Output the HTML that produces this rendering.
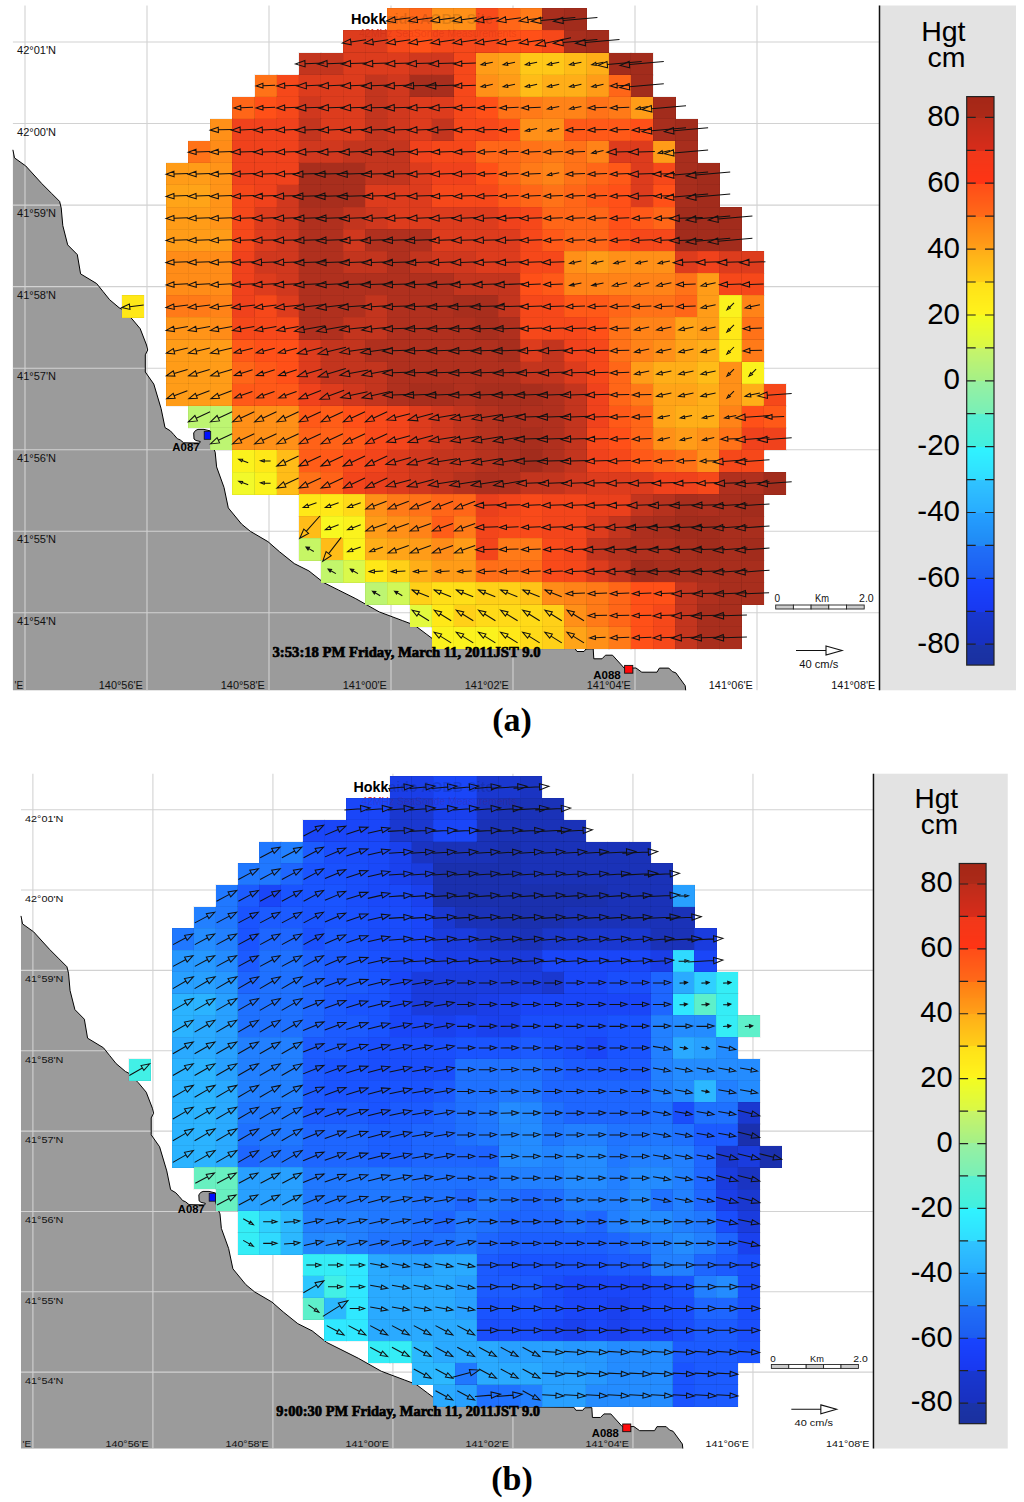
<!DOCTYPE html><html><head><meta charset="utf-8"><style>html,body{margin:0;padding:0;background:#fff;}svg{display:block;}</style></head><body><svg width="1024" height="1502" viewBox="0 0 1024 1502"><rect width="1024" height="1502" fill="#fff"/><rect x="12.9" y="5.5" width="866.6" height="684.8" fill="#fff"/><path d="M12.9 690.3L12.9 149.8L14.5 157.9L25.8 166L41.9 183.7L51.6 193.4L59.6 201.4L61.2 207.9L62.8 225.6L67.7 244.9L77.3 254.6L80.6 273.9L96.7 283.6L103.1 291.6L109.6 299.7L119.2 307.8L122.5 309.4L132.1 319L140.2 328.7L146.5 345L147.7 350L145.3 354.8L145.3 372L153.8 384.1L161.1 408.6L165 427.6L170.3 430.8L173.8 434.6L177.3 438.7L180.2 439.9L183.7 442.8L199.6 443.1L200.3 441.5L196 440.5L194 439L193.7 433L195.5 430.5L198 429.4L204 429.4L210.7 431L210.7 440L212.5 446L215.2 452.2L216.6 466.9L224 487.4L228.3 507.9L241.5 524L250.3 531.3L267.9 541.6L279.6 551.8L294.3 563.6L308.9 570.9L323.6 582.6L338.2 589.9L355.8 598.7L379.2 611.9L402.7 620.7L414.4 625.1L426.1 633.9L437.8 642.7L450 647.5L575 648.5L577 651.5L584 651.5L586 649L593.2 648.8L593.8 658.8L602 658.8L605.5 655.2L612.5 655.2L624.2 668.1L636 668L641.8 672.2L657 672.2L659.4 668.1L668.8 668.1L672.3 671.6L675.8 672.8L685.2 685.7L685.7 690.3Z" fill="#9b9b9b"/><g stroke="#d2d2d2" stroke-width="1.1" fill="none"><path d="M25 5.5V690.3"/><path d="M147 5.5V690.3"/><path d="M269 5.5V690.3"/><path d="M391 5.5V690.3"/><path d="M513 5.5V690.3"/><path d="M635 5.5V690.3"/><path d="M757 5.5V690.3"/><path d="M12.9 42H879"/><path d="M12.9 123.5H879"/><path d="M12.9 205.1H879"/><path d="M12.9 286.6H879"/><path d="M12.9 368.2H879"/><path d="M12.9 449.7H879"/><path d="M12.9 531.2H879"/><path d="M12.9 612.8H879"/></g><path d="M12.9 149.8L14.5 157.9L25.8 166L41.9 183.7L51.6 193.4L59.6 201.4L61.2 207.9L62.8 225.6L67.7 244.9L77.3 254.6L80.6 273.9L96.7 283.6L103.1 291.6L109.6 299.7L119.2 307.8L122.5 309.4L132.1 319L140.2 328.7L146.5 345L147.7 350L145.3 354.8L145.3 372L153.8 384.1L161.1 408.6L165 427.6L170.3 430.8L173.8 434.6L177.3 438.7L180.2 439.9L183.7 442.8L199.6 443.1L200.3 441.5L196 440.5L194 439L193.7 433L195.5 430.5L198 429.4L204 429.4L210.7 431L210.7 440L212.5 446L215.2 452.2L216.6 466.9L224 487.4L228.3 507.9L241.5 524L250.3 531.3L267.9 541.6L279.6 551.8L294.3 563.6L308.9 570.9L323.6 582.6L338.2 589.9L355.8 598.7L379.2 611.9L402.7 620.7L414.4 625.1L426.1 633.9L437.8 642.7L450 647.5L575 648.5L577 651.5L584 651.5L586 649L593.2 648.8L593.8 658.8L602 658.8L605.5 655.2L612.5 655.2L624.2 668.1L636 668L641.8 672.2L657 672.2L659.4 668.1L668.8 668.1L672.3 671.6L675.8 672.8L685.2 685.7L685.7 690.3" fill="none" stroke="#000" stroke-width="1"/><text x="351" y="24" font-family="Liberation Sans" font-weight="bold" font-size="14.5" fill="#000">Hokkaido AOBB Site</text><text x="359" y="37" font-family="Liberation Sans" font-size="10.5" fill="#e8301c">42MHz SeaSonde Measurements</text><g shape-rendering="crispEdges" stroke="#000" stroke-opacity="0.05" stroke-width="1"><rect x="387.4" y="8.3" width="22.5" height="22.5" fill="#ff7218"/><rect x="409.5" y="8.3" width="22.5" height="22.5" fill="#ff6618"/><rect x="431.6" y="8.3" width="22.5" height="22.5" fill="#ff9018"/><rect x="453.8" y="8.3" width="22.5" height="22.5" fill="#ff9018"/><rect x="475.9" y="8.3" width="22.5" height="22.5" fill="#f94a1a"/><rect x="498" y="8.3" width="22.5" height="22.5" fill="#ff6618"/><rect x="520.2" y="8.3" width="22.5" height="22.5" fill="#ff7a18"/><rect x="542.3" y="8.3" width="22.5" height="22.5" fill="#a82e1d"/><rect x="564.4" y="8.3" width="22.5" height="22.5" fill="#a22c1c"/><rect x="343.1" y="30.4" width="22.5" height="22.5" fill="#dd3c1d"/><rect x="365.2" y="30.4" width="22.5" height="22.5" fill="#dd3c1d"/><rect x="387.4" y="30.4" width="22.5" height="22.5" fill="#f6481a"/><rect x="409.5" y="30.4" width="22.5" height="22.5" fill="#ff5018"/><rect x="431.6" y="30.4" width="22.5" height="22.5" fill="#f6481a"/><rect x="453.8" y="30.4" width="22.5" height="22.5" fill="#f6481a"/><rect x="475.9" y="30.4" width="22.5" height="22.5" fill="#f6481a"/><rect x="498" y="30.4" width="22.5" height="22.5" fill="#ff5018"/><rect x="520.2" y="30.4" width="22.5" height="22.5" fill="#ff5018"/><rect x="542.3" y="30.4" width="22.5" height="22.5" fill="#f6481a"/><rect x="564.4" y="30.4" width="22.5" height="22.5" fill="#a82e1d"/><rect x="586.6" y="30.4" width="22.5" height="22.5" fill="#a22c1c"/><rect x="298.8" y="52.5" width="22.5" height="22.5" fill="#c3351e"/><rect x="320.9" y="52.5" width="22.5" height="22.5" fill="#c3351e"/><rect x="343.1" y="52.5" width="22.5" height="22.5" fill="#dd3c1d"/><rect x="365.2" y="52.5" width="22.5" height="22.5" fill="#dd3c1d"/><rect x="387.4" y="52.5" width="22.5" height="22.5" fill="#dd3c1d"/><rect x="409.5" y="52.5" width="22.5" height="22.5" fill="#d0381e"/><rect x="431.6" y="52.5" width="22.5" height="22.5" fill="#d0381e"/><rect x="453.8" y="52.5" width="22.5" height="22.5" fill="#f6481a"/><rect x="475.9" y="52.5" width="22.5" height="22.5" fill="#ff9c18"/><rect x="498" y="52.5" width="22.5" height="22.5" fill="#ffa418"/><rect x="520.2" y="52.5" width="22.5" height="22.5" fill="#ffc818"/><rect x="542.3" y="52.5" width="22.5" height="22.5" fill="#ffc818"/><rect x="564.4" y="52.5" width="22.5" height="22.5" fill="#ffbc18"/><rect x="586.6" y="52.5" width="22.5" height="22.5" fill="#ffae18"/><rect x="608.7" y="52.5" width="22.5" height="22.5" fill="#a22c1c"/><rect x="630.8" y="52.5" width="22.5" height="22.5" fill="#a22c1c"/><rect x="254.5" y="74.5" width="22.5" height="22.5" fill="#ff7218"/><rect x="276.7" y="74.5" width="22.5" height="22.5" fill="#f6481a"/><rect x="298.8" y="74.5" width="22.5" height="22.5" fill="#dd3c1d"/><rect x="320.9" y="74.5" width="22.5" height="22.5" fill="#dd3c1d"/><rect x="343.1" y="74.5" width="22.5" height="22.5" fill="#dd3c1d"/><rect x="365.2" y="74.5" width="22.5" height="22.5" fill="#c3351e"/><rect x="387.4" y="74.5" width="22.5" height="22.5" fill="#d0381e"/><rect x="409.5" y="74.5" width="22.5" height="22.5" fill="#a82e1d"/><rect x="431.6" y="74.5" width="22.5" height="22.5" fill="#a82e1d"/><rect x="453.8" y="74.5" width="22.5" height="22.5" fill="#f6481a"/><rect x="475.9" y="74.5" width="22.5" height="22.5" fill="#ff9018"/><rect x="498" y="74.5" width="22.5" height="22.5" fill="#ff9c18"/><rect x="520.2" y="74.5" width="22.5" height="22.5" fill="#ffbc18"/><rect x="542.3" y="74.5" width="22.5" height="22.5" fill="#ffae18"/><rect x="564.4" y="74.5" width="22.5" height="22.5" fill="#ffae18"/><rect x="586.6" y="74.5" width="22.5" height="22.5" fill="#ff9c18"/><rect x="608.7" y="74.5" width="22.5" height="22.5" fill="#ff6618"/><rect x="630.8" y="74.5" width="22.5" height="22.5" fill="#a22c1c"/><rect x="232.4" y="96.6" width="22.5" height="22.5" fill="#ff6618"/><rect x="254.5" y="96.6" width="22.5" height="22.5" fill="#ff5018"/><rect x="276.7" y="96.6" width="22.5" height="22.5" fill="#f6481a"/><rect x="298.8" y="96.6" width="22.5" height="22.5" fill="#d0381e"/><rect x="320.9" y="96.6" width="22.5" height="22.5" fill="#dd3c1d"/><rect x="343.1" y="96.6" width="22.5" height="22.5" fill="#dd3c1d"/><rect x="365.2" y="96.6" width="22.5" height="22.5" fill="#c3351e"/><rect x="387.4" y="96.6" width="22.5" height="22.5" fill="#d0381e"/><rect x="409.5" y="96.6" width="22.5" height="22.5" fill="#dd3c1d"/><rect x="431.6" y="96.6" width="22.5" height="22.5" fill="#dd3c1d"/><rect x="453.8" y="96.6" width="22.5" height="22.5" fill="#f6481a"/><rect x="475.9" y="96.6" width="22.5" height="22.5" fill="#ff5018"/><rect x="498" y="96.6" width="22.5" height="22.5" fill="#ff7218"/><rect x="520.2" y="96.6" width="22.5" height="22.5" fill="#ff7a18"/><rect x="542.3" y="96.6" width="22.5" height="22.5" fill="#ff8318"/><rect x="564.4" y="96.6" width="22.5" height="22.5" fill="#ff8318"/><rect x="586.6" y="96.6" width="22.5" height="22.5" fill="#ff7218"/><rect x="608.7" y="96.6" width="22.5" height="22.5" fill="#ff7a18"/><rect x="630.8" y="96.6" width="22.5" height="22.5" fill="#ff9c18"/><rect x="653" y="96.6" width="22.5" height="22.5" fill="#a22c1c"/><rect x="210.3" y="118.7" width="22.5" height="22.5" fill="#ff9018"/><rect x="232.4" y="118.7" width="22.5" height="22.5" fill="#f0421c"/><rect x="254.5" y="118.7" width="22.5" height="22.5" fill="#f0421c"/><rect x="276.7" y="118.7" width="22.5" height="22.5" fill="#f0421c"/><rect x="298.8" y="118.7" width="22.5" height="22.5" fill="#c3351e"/><rect x="320.9" y="118.7" width="22.5" height="22.5" fill="#dd3c1d"/><rect x="343.1" y="118.7" width="22.5" height="22.5" fill="#dd3c1d"/><rect x="365.2" y="118.7" width="22.5" height="22.5" fill="#c3351e"/><rect x="387.4" y="118.7" width="22.5" height="22.5" fill="#d0381e"/><rect x="409.5" y="118.7" width="22.5" height="22.5" fill="#dd3c1d"/><rect x="431.6" y="118.7" width="22.5" height="22.5" fill="#c3351e"/><rect x="453.8" y="118.7" width="22.5" height="22.5" fill="#f6481a"/><rect x="475.9" y="118.7" width="22.5" height="22.5" fill="#f6481a"/><rect x="498" y="118.7" width="22.5" height="22.5" fill="#ff5018"/><rect x="520.2" y="118.7" width="22.5" height="22.5" fill="#ff9018"/><rect x="542.3" y="118.7" width="22.5" height="22.5" fill="#ff9018"/><rect x="564.4" y="118.7" width="22.5" height="22.5" fill="#ff5918"/><rect x="586.6" y="118.7" width="22.5" height="22.5" fill="#ff5918"/><rect x="608.7" y="118.7" width="22.5" height="22.5" fill="#ff5918"/><rect x="630.8" y="118.7" width="22.5" height="22.5" fill="#ff5018"/><rect x="653" y="118.7" width="22.5" height="22.5" fill="#a82e1d"/><rect x="675.1" y="118.7" width="22.5" height="22.5" fill="#a22c1c"/><rect x="188.1" y="140.8" width="22.5" height="22.5" fill="#ff7218"/><rect x="210.3" y="140.8" width="22.5" height="22.5" fill="#ff8c18"/><rect x="232.4" y="140.8" width="22.5" height="22.5" fill="#f0421c"/><rect x="254.5" y="140.8" width="22.5" height="22.5" fill="#f0421c"/><rect x="276.7" y="140.8" width="22.5" height="22.5" fill="#f0421c"/><rect x="298.8" y="140.8" width="22.5" height="22.5" fill="#d0381e"/><rect x="320.9" y="140.8" width="22.5" height="22.5" fill="#d0381e"/><rect x="343.1" y="140.8" width="22.5" height="22.5" fill="#c3351e"/><rect x="365.2" y="140.8" width="22.5" height="22.5" fill="#c3351e"/><rect x="387.4" y="140.8" width="22.5" height="22.5" fill="#c3351e"/><rect x="409.5" y="140.8" width="22.5" height="22.5" fill="#f0421c"/><rect x="431.6" y="140.8" width="22.5" height="22.5" fill="#f6481a"/><rect x="453.8" y="140.8" width="22.5" height="22.5" fill="#f6481a"/><rect x="475.9" y="140.8" width="22.5" height="22.5" fill="#ff6618"/><rect x="498" y="140.8" width="22.5" height="22.5" fill="#ff6618"/><rect x="520.2" y="140.8" width="22.5" height="22.5" fill="#ff7218"/><rect x="542.3" y="140.8" width="22.5" height="22.5" fill="#ff7a18"/><rect x="564.4" y="140.8" width="22.5" height="22.5" fill="#ff7218"/><rect x="586.6" y="140.8" width="22.5" height="22.5" fill="#ff8318"/><rect x="608.7" y="140.8" width="22.5" height="22.5" fill="#dd3c1d"/><rect x="630.8" y="140.8" width="22.5" height="22.5" fill="#dd3c1d"/><rect x="653" y="140.8" width="22.5" height="22.5" fill="#ff9c18"/><rect x="675.1" y="140.8" width="22.5" height="22.5" fill="#a82e1d"/><rect x="166" y="162.9" width="22.5" height="22.5" fill="#ff9c18"/><rect x="188.1" y="162.9" width="22.5" height="22.5" fill="#ff9c18"/><rect x="210.3" y="162.9" width="22.5" height="22.5" fill="#ff9418"/><rect x="232.4" y="162.9" width="22.5" height="22.5" fill="#f0421c"/><rect x="254.5" y="162.9" width="22.5" height="22.5" fill="#f0421c"/><rect x="276.7" y="162.9" width="22.5" height="22.5" fill="#f0421c"/><rect x="298.8" y="162.9" width="22.5" height="22.5" fill="#a82e1d"/><rect x="320.9" y="162.9" width="22.5" height="22.5" fill="#a82e1d"/><rect x="343.1" y="162.9" width="22.5" height="22.5" fill="#a82e1d"/><rect x="365.2" y="162.9" width="22.5" height="22.5" fill="#c3351e"/><rect x="387.4" y="162.9" width="22.5" height="22.5" fill="#c3351e"/><rect x="409.5" y="162.9" width="22.5" height="22.5" fill="#dd3c1d"/><rect x="431.6" y="162.9" width="22.5" height="22.5" fill="#f0421c"/><rect x="453.8" y="162.9" width="22.5" height="22.5" fill="#f0421c"/><rect x="475.9" y="162.9" width="22.5" height="22.5" fill="#ff5018"/><rect x="498" y="162.9" width="22.5" height="22.5" fill="#ff6618"/><rect x="520.2" y="162.9" width="22.5" height="22.5" fill="#ff7a18"/><rect x="542.3" y="162.9" width="22.5" height="22.5" fill="#ff8318"/><rect x="564.4" y="162.9" width="22.5" height="22.5" fill="#ff7218"/><rect x="586.6" y="162.9" width="22.5" height="22.5" fill="#ff6618"/><rect x="608.7" y="162.9" width="22.5" height="22.5" fill="#ff5918"/><rect x="630.8" y="162.9" width="22.5" height="22.5" fill="#dd3c1d"/><rect x="653" y="162.9" width="22.5" height="22.5" fill="#f6481a"/><rect x="675.1" y="162.9" width="22.5" height="22.5" fill="#a82e1d"/><rect x="697.2" y="162.9" width="22.5" height="22.5" fill="#a22c1c"/><rect x="166" y="184.9" width="22.5" height="22.5" fill="#ffa418"/><rect x="188.1" y="184.9" width="22.5" height="22.5" fill="#ffa418"/><rect x="210.3" y="184.9" width="22.5" height="22.5" fill="#ff9418"/><rect x="232.4" y="184.9" width="22.5" height="22.5" fill="#f6481a"/><rect x="254.5" y="184.9" width="22.5" height="22.5" fill="#f0421c"/><rect x="276.7" y="184.9" width="22.5" height="22.5" fill="#d0381e"/><rect x="298.8" y="184.9" width="22.5" height="22.5" fill="#a82e1d"/><rect x="320.9" y="184.9" width="22.5" height="22.5" fill="#a82e1d"/><rect x="343.1" y="184.9" width="22.5" height="22.5" fill="#a82e1d"/><rect x="365.2" y="184.9" width="22.5" height="22.5" fill="#dd3c1d"/><rect x="387.4" y="184.9" width="22.5" height="22.5" fill="#dd3c1d"/><rect x="409.5" y="184.9" width="22.5" height="22.5" fill="#dd3c1d"/><rect x="431.6" y="184.9" width="22.5" height="22.5" fill="#f6481a"/><rect x="453.8" y="184.9" width="22.5" height="22.5" fill="#f6481a"/><rect x="475.9" y="184.9" width="22.5" height="22.5" fill="#f6481a"/><rect x="498" y="184.9" width="22.5" height="22.5" fill="#ff5918"/><rect x="520.2" y="184.9" width="22.5" height="22.5" fill="#ff6618"/><rect x="542.3" y="184.9" width="22.5" height="22.5" fill="#ff7218"/><rect x="564.4" y="184.9" width="22.5" height="22.5" fill="#ff6618"/><rect x="586.6" y="184.9" width="22.5" height="22.5" fill="#ff5918"/><rect x="608.7" y="184.9" width="22.5" height="22.5" fill="#ff5018"/><rect x="630.8" y="184.9" width="22.5" height="22.5" fill="#dd3c1d"/><rect x="653" y="184.9" width="22.5" height="22.5" fill="#ff5018"/><rect x="675.1" y="184.9" width="22.5" height="22.5" fill="#a82e1d"/><rect x="697.2" y="184.9" width="22.5" height="22.5" fill="#a22c1c"/><rect x="166" y="207" width="22.5" height="22.5" fill="#ff9c18"/><rect x="188.1" y="207" width="22.5" height="22.5" fill="#ff9c18"/><rect x="210.3" y="207" width="22.5" height="22.5" fill="#ff9418"/><rect x="232.4" y="207" width="22.5" height="22.5" fill="#f6481a"/><rect x="254.5" y="207" width="22.5" height="22.5" fill="#dd3c1d"/><rect x="276.7" y="207" width="22.5" height="22.5" fill="#d0381e"/><rect x="298.8" y="207" width="22.5" height="22.5" fill="#b0301e"/><rect x="320.9" y="207" width="22.5" height="22.5" fill="#b0301e"/><rect x="343.1" y="207" width="22.5" height="22.5" fill="#c3351e"/><rect x="365.2" y="207" width="22.5" height="22.5" fill="#d0381e"/><rect x="387.4" y="207" width="22.5" height="22.5" fill="#dd3c1d"/><rect x="409.5" y="207" width="22.5" height="22.5" fill="#dd3c1d"/><rect x="431.6" y="207" width="22.5" height="22.5" fill="#dd3c1d"/><rect x="453.8" y="207" width="22.5" height="22.5" fill="#dd3c1d"/><rect x="475.9" y="207" width="22.5" height="22.5" fill="#dd3c1d"/><rect x="498" y="207" width="22.5" height="22.5" fill="#f0421c"/><rect x="520.2" y="207" width="22.5" height="22.5" fill="#f6481a"/><rect x="542.3" y="207" width="22.5" height="22.5" fill="#ff6618"/><rect x="564.4" y="207" width="22.5" height="22.5" fill="#ff6618"/><rect x="586.6" y="207" width="22.5" height="22.5" fill="#ff6618"/><rect x="608.7" y="207" width="22.5" height="22.5" fill="#ff5018"/><rect x="630.8" y="207" width="22.5" height="22.5" fill="#ff5918"/><rect x="653" y="207" width="22.5" height="22.5" fill="#ff6618"/><rect x="675.1" y="207" width="22.5" height="22.5" fill="#a22c1c"/><rect x="697.2" y="207" width="22.5" height="22.5" fill="#a22c1c"/><rect x="719.4" y="207" width="22.5" height="22.5" fill="#a22c1c"/><rect x="166" y="229.1" width="22.5" height="22.5" fill="#ff9c18"/><rect x="188.1" y="229.1" width="22.5" height="22.5" fill="#ff9c18"/><rect x="210.3" y="229.1" width="22.5" height="22.5" fill="#ff9c18"/><rect x="232.4" y="229.1" width="22.5" height="22.5" fill="#f6481a"/><rect x="254.5" y="229.1" width="22.5" height="22.5" fill="#dd3c1d"/><rect x="276.7" y="229.1" width="22.5" height="22.5" fill="#d0381e"/><rect x="298.8" y="229.1" width="22.5" height="22.5" fill="#b0301e"/><rect x="320.9" y="229.1" width="22.5" height="22.5" fill="#b0301e"/><rect x="343.1" y="229.1" width="22.5" height="22.5" fill="#d0381e"/><rect x="365.2" y="229.1" width="22.5" height="22.5" fill="#b0301e"/><rect x="387.4" y="229.1" width="22.5" height="22.5" fill="#b0301e"/><rect x="409.5" y="229.1" width="22.5" height="22.5" fill="#b0301e"/><rect x="431.6" y="229.1" width="22.5" height="22.5" fill="#dd3c1d"/><rect x="453.8" y="229.1" width="22.5" height="22.5" fill="#dd3c1d"/><rect x="475.9" y="229.1" width="22.5" height="22.5" fill="#dd3c1d"/><rect x="498" y="229.1" width="22.5" height="22.5" fill="#dd3c1d"/><rect x="520.2" y="229.1" width="22.5" height="22.5" fill="#f6481a"/><rect x="542.3" y="229.1" width="22.5" height="22.5" fill="#ff5918"/><rect x="564.4" y="229.1" width="22.5" height="22.5" fill="#ff6618"/><rect x="586.6" y="229.1" width="22.5" height="22.5" fill="#ff6618"/><rect x="608.7" y="229.1" width="22.5" height="22.5" fill="#ff5018"/><rect x="630.8" y="229.1" width="22.5" height="22.5" fill="#f6481a"/><rect x="653" y="229.1" width="22.5" height="22.5" fill="#f6481a"/><rect x="675.1" y="229.1" width="22.5" height="22.5" fill="#a22c1c"/><rect x="697.2" y="229.1" width="22.5" height="22.5" fill="#a22c1c"/><rect x="719.4" y="229.1" width="22.5" height="22.5" fill="#a22c1c"/><rect x="166" y="251.2" width="22.5" height="22.5" fill="#ff8c18"/><rect x="188.1" y="251.2" width="22.5" height="22.5" fill="#ff8c18"/><rect x="210.3" y="251.2" width="22.5" height="22.5" fill="#ff8c18"/><rect x="232.4" y="251.2" width="22.5" height="22.5" fill="#f0421c"/><rect x="254.5" y="251.2" width="22.5" height="22.5" fill="#d0381e"/><rect x="276.7" y="251.2" width="22.5" height="22.5" fill="#d0381e"/><rect x="298.8" y="251.2" width="22.5" height="22.5" fill="#b0301e"/><rect x="320.9" y="251.2" width="22.5" height="22.5" fill="#b0301e"/><rect x="343.1" y="251.2" width="22.5" height="22.5" fill="#c3351e"/><rect x="365.2" y="251.2" width="22.5" height="22.5" fill="#c3351e"/><rect x="387.4" y="251.2" width="22.5" height="22.5" fill="#b0301e"/><rect x="409.5" y="251.2" width="22.5" height="22.5" fill="#c3351e"/><rect x="431.6" y="251.2" width="22.5" height="22.5" fill="#d0381e"/><rect x="453.8" y="251.2" width="22.5" height="22.5" fill="#d0381e"/><rect x="475.9" y="251.2" width="22.5" height="22.5" fill="#dd3c1d"/><rect x="498" y="251.2" width="22.5" height="22.5" fill="#dd3c1d"/><rect x="520.2" y="251.2" width="22.5" height="22.5" fill="#f6481a"/><rect x="542.3" y="251.2" width="22.5" height="22.5" fill="#f6481a"/><rect x="564.4" y="251.2" width="22.5" height="22.5" fill="#ff9018"/><rect x="586.6" y="251.2" width="22.5" height="22.5" fill="#ff9c18"/><rect x="608.7" y="251.2" width="22.5" height="22.5" fill="#ff9018"/><rect x="630.8" y="251.2" width="22.5" height="22.5" fill="#ff9018"/><rect x="653" y="251.2" width="22.5" height="22.5" fill="#ff9018"/><rect x="675.1" y="251.2" width="22.5" height="22.5" fill="#dd3c1d"/><rect x="697.2" y="251.2" width="22.5" height="22.5" fill="#f0421c"/><rect x="719.4" y="251.2" width="22.5" height="22.5" fill="#dd3c1d"/><rect x="741.5" y="251.2" width="22.5" height="22.5" fill="#dd3c1d"/><rect x="166" y="273.3" width="22.5" height="22.5" fill="#ff8c18"/><rect x="188.1" y="273.3" width="22.5" height="22.5" fill="#ff8c18"/><rect x="210.3" y="273.3" width="22.5" height="22.5" fill="#ff8c18"/><rect x="232.4" y="273.3" width="22.5" height="22.5" fill="#f0421c"/><rect x="254.5" y="273.3" width="22.5" height="22.5" fill="#dd3c1d"/><rect x="276.7" y="273.3" width="22.5" height="22.5" fill="#d0381e"/><rect x="298.8" y="273.3" width="22.5" height="22.5" fill="#b0301e"/><rect x="320.9" y="273.3" width="22.5" height="22.5" fill="#b0301e"/><rect x="343.1" y="273.3" width="22.5" height="22.5" fill="#b0301e"/><rect x="365.2" y="273.3" width="22.5" height="22.5" fill="#b0301e"/><rect x="387.4" y="273.3" width="22.5" height="22.5" fill="#b0301e"/><rect x="409.5" y="273.3" width="22.5" height="22.5" fill="#b0301e"/><rect x="431.6" y="273.3" width="22.5" height="22.5" fill="#b0301e"/><rect x="453.8" y="273.3" width="22.5" height="22.5" fill="#c3351e"/><rect x="475.9" y="273.3" width="22.5" height="22.5" fill="#c3351e"/><rect x="498" y="273.3" width="22.5" height="22.5" fill="#c3351e"/><rect x="520.2" y="273.3" width="22.5" height="22.5" fill="#ff5018"/><rect x="542.3" y="273.3" width="22.5" height="22.5" fill="#ff5918"/><rect x="564.4" y="273.3" width="22.5" height="22.5" fill="#ff8318"/><rect x="586.6" y="273.3" width="22.5" height="22.5" fill="#ff8318"/><rect x="608.7" y="273.3" width="22.5" height="22.5" fill="#ff8318"/><rect x="630.8" y="273.3" width="22.5" height="22.5" fill="#ff8318"/><rect x="653" y="273.3" width="22.5" height="22.5" fill="#ff8318"/><rect x="675.1" y="273.3" width="22.5" height="22.5" fill="#ff7218"/><rect x="697.2" y="273.3" width="22.5" height="22.5" fill="#ff9c18"/><rect x="719.4" y="273.3" width="22.5" height="22.5" fill="#f6481a"/><rect x="741.5" y="273.3" width="22.5" height="22.5" fill="#f6481a"/><rect x="121.7" y="295.3" width="22.5" height="22.5" fill="#ffe818"/><rect x="166" y="295.3" width="22.5" height="22.5" fill="#ff7a18"/><rect x="188.1" y="295.3" width="22.5" height="22.5" fill="#ff7a18"/><rect x="210.3" y="295.3" width="22.5" height="22.5" fill="#ff8318"/><rect x="232.4" y="295.3" width="22.5" height="22.5" fill="#f0421c"/><rect x="254.5" y="295.3" width="22.5" height="22.5" fill="#f6481a"/><rect x="276.7" y="295.3" width="22.5" height="22.5" fill="#dd3c1d"/><rect x="298.8" y="295.3" width="22.5" height="22.5" fill="#b0301e"/><rect x="320.9" y="295.3" width="22.5" height="22.5" fill="#b0301e"/><rect x="343.1" y="295.3" width="22.5" height="22.5" fill="#b0301e"/><rect x="365.2" y="295.3" width="22.5" height="22.5" fill="#c3351e"/><rect x="387.4" y="295.3" width="22.5" height="22.5" fill="#b0301e"/><rect x="409.5" y="295.3" width="22.5" height="22.5" fill="#b0301e"/><rect x="431.6" y="295.3" width="22.5" height="22.5" fill="#b0301e"/><rect x="453.8" y="295.3" width="22.5" height="22.5" fill="#a82e1d"/><rect x="475.9" y="295.3" width="22.5" height="22.5" fill="#a82e1d"/><rect x="498" y="295.3" width="22.5" height="22.5" fill="#c3351e"/><rect x="520.2" y="295.3" width="22.5" height="22.5" fill="#f6481a"/><rect x="542.3" y="295.3" width="22.5" height="22.5" fill="#f6481a"/><rect x="564.4" y="295.3" width="22.5" height="22.5" fill="#ff5918"/><rect x="586.6" y="295.3" width="22.5" height="22.5" fill="#ff5918"/><rect x="608.7" y="295.3" width="22.5" height="22.5" fill="#ff6618"/><rect x="630.8" y="295.3" width="22.5" height="22.5" fill="#ff7218"/><rect x="653" y="295.3" width="22.5" height="22.5" fill="#ff7218"/><rect x="675.1" y="295.3" width="22.5" height="22.5" fill="#ff6618"/><rect x="697.2" y="295.3" width="22.5" height="22.5" fill="#ff9c18"/><rect x="719.4" y="295.3" width="22.5" height="22.5" fill="#fbf21d"/><rect x="741.5" y="295.3" width="22.5" height="22.5" fill="#ff8318"/><rect x="166" y="317.4" width="22.5" height="22.5" fill="#ff9418"/><rect x="188.1" y="317.4" width="22.5" height="22.5" fill="#ff9418"/><rect x="210.3" y="317.4" width="22.5" height="22.5" fill="#ff8c18"/><rect x="232.4" y="317.4" width="22.5" height="22.5" fill="#f6481a"/><rect x="254.5" y="317.4" width="22.5" height="22.5" fill="#f6481a"/><rect x="276.7" y="317.4" width="22.5" height="22.5" fill="#f6481a"/><rect x="298.8" y="317.4" width="22.5" height="22.5" fill="#b0301e"/><rect x="320.9" y="317.4" width="22.5" height="22.5" fill="#b0301e"/><rect x="343.1" y="317.4" width="22.5" height="22.5" fill="#c3351e"/><rect x="365.2" y="317.4" width="22.5" height="22.5" fill="#c3351e"/><rect x="387.4" y="317.4" width="22.5" height="22.5" fill="#b0301e"/><rect x="409.5" y="317.4" width="22.5" height="22.5" fill="#b0301e"/><rect x="431.6" y="317.4" width="22.5" height="22.5" fill="#b0301e"/><rect x="453.8" y="317.4" width="22.5" height="22.5" fill="#b0301e"/><rect x="475.9" y="317.4" width="22.5" height="22.5" fill="#a82e1d"/><rect x="498" y="317.4" width="22.5" height="22.5" fill="#b0301e"/><rect x="520.2" y="317.4" width="22.5" height="22.5" fill="#f6481a"/><rect x="542.3" y="317.4" width="22.5" height="22.5" fill="#f6481a"/><rect x="564.4" y="317.4" width="22.5" height="22.5" fill="#f6481a"/><rect x="586.6" y="317.4" width="22.5" height="22.5" fill="#ff5018"/><rect x="608.7" y="317.4" width="22.5" height="22.5" fill="#ff7218"/><rect x="630.8" y="317.4" width="22.5" height="22.5" fill="#ff8318"/><rect x="653" y="317.4" width="22.5" height="22.5" fill="#ff8318"/><rect x="675.1" y="317.4" width="22.5" height="22.5" fill="#ffa418"/><rect x="697.2" y="317.4" width="22.5" height="22.5" fill="#ff9c18"/><rect x="719.4" y="317.4" width="22.5" height="22.5" fill="#ffe818"/><rect x="741.5" y="317.4" width="22.5" height="22.5" fill="#ff7218"/><rect x="166" y="339.5" width="22.5" height="22.5" fill="#ff9c18"/><rect x="188.1" y="339.5" width="22.5" height="22.5" fill="#ff9c18"/><rect x="210.3" y="339.5" width="22.5" height="22.5" fill="#ff9c18"/><rect x="232.4" y="339.5" width="22.5" height="22.5" fill="#ff5918"/><rect x="254.5" y="339.5" width="22.5" height="22.5" fill="#ff5018"/><rect x="276.7" y="339.5" width="22.5" height="22.5" fill="#ff5018"/><rect x="298.8" y="339.5" width="22.5" height="22.5" fill="#dd3c1d"/><rect x="320.9" y="339.5" width="22.5" height="22.5" fill="#c3351e"/><rect x="343.1" y="339.5" width="22.5" height="22.5" fill="#c3351e"/><rect x="365.2" y="339.5" width="22.5" height="22.5" fill="#b0301e"/><rect x="387.4" y="339.5" width="22.5" height="22.5" fill="#b0301e"/><rect x="409.5" y="339.5" width="22.5" height="22.5" fill="#b0301e"/><rect x="431.6" y="339.5" width="22.5" height="22.5" fill="#b0301e"/><rect x="453.8" y="339.5" width="22.5" height="22.5" fill="#b0301e"/><rect x="475.9" y="339.5" width="22.5" height="22.5" fill="#b0301e"/><rect x="498" y="339.5" width="22.5" height="22.5" fill="#a82e1d"/><rect x="520.2" y="339.5" width="22.5" height="22.5" fill="#dd3c1d"/><rect x="542.3" y="339.5" width="22.5" height="22.5" fill="#c3351e"/><rect x="564.4" y="339.5" width="22.5" height="22.5" fill="#f0421c"/><rect x="586.6" y="339.5" width="22.5" height="22.5" fill="#f6481a"/><rect x="608.7" y="339.5" width="22.5" height="22.5" fill="#ff7218"/><rect x="630.8" y="339.5" width="22.5" height="22.5" fill="#ff8318"/><rect x="653" y="339.5" width="22.5" height="22.5" fill="#ff9018"/><rect x="675.1" y="339.5" width="22.5" height="22.5" fill="#ffa418"/><rect x="697.2" y="339.5" width="22.5" height="22.5" fill="#ffae18"/><rect x="719.4" y="339.5" width="22.5" height="22.5" fill="#ffe818"/><rect x="741.5" y="339.5" width="22.5" height="22.5" fill="#ff7a18"/><rect x="166" y="361.6" width="22.5" height="22.5" fill="#ff9c18"/><rect x="188.1" y="361.6" width="22.5" height="22.5" fill="#ff9c18"/><rect x="210.3" y="361.6" width="22.5" height="22.5" fill="#ff9c18"/><rect x="232.4" y="361.6" width="22.5" height="22.5" fill="#ff6618"/><rect x="254.5" y="361.6" width="22.5" height="22.5" fill="#ff5918"/><rect x="276.7" y="361.6" width="22.5" height="22.5" fill="#ff5018"/><rect x="298.8" y="361.6" width="22.5" height="22.5" fill="#dd3c1d"/><rect x="320.9" y="361.6" width="22.5" height="22.5" fill="#c3351e"/><rect x="343.1" y="361.6" width="22.5" height="22.5" fill="#c3351e"/><rect x="365.2" y="361.6" width="22.5" height="22.5" fill="#c3351e"/><rect x="387.4" y="361.6" width="22.5" height="22.5" fill="#b0301e"/><rect x="409.5" y="361.6" width="22.5" height="22.5" fill="#b0301e"/><rect x="431.6" y="361.6" width="22.5" height="22.5" fill="#b0301e"/><rect x="453.8" y="361.6" width="22.5" height="22.5" fill="#b0301e"/><rect x="475.9" y="361.6" width="22.5" height="22.5" fill="#b0301e"/><rect x="498" y="361.6" width="22.5" height="22.5" fill="#b0301e"/><rect x="520.2" y="361.6" width="22.5" height="22.5" fill="#c3351e"/><rect x="542.3" y="361.6" width="22.5" height="22.5" fill="#c3351e"/><rect x="564.4" y="361.6" width="22.5" height="22.5" fill="#dd3c1d"/><rect x="586.6" y="361.6" width="22.5" height="22.5" fill="#f6481a"/><rect x="608.7" y="361.6" width="22.5" height="22.5" fill="#ff6618"/><rect x="630.8" y="361.6" width="22.5" height="22.5" fill="#ff9c18"/><rect x="653" y="361.6" width="22.5" height="22.5" fill="#ffae18"/><rect x="675.1" y="361.6" width="22.5" height="22.5" fill="#ffae18"/><rect x="697.2" y="361.6" width="22.5" height="22.5" fill="#ffbc18"/><rect x="719.4" y="361.6" width="22.5" height="22.5" fill="#ff9018"/><rect x="741.5" y="361.6" width="22.5" height="22.5" fill="#fbf21d"/><rect x="166" y="383.7" width="22.5" height="22.5" fill="#ff9c18"/><rect x="188.1" y="383.7" width="22.5" height="22.5" fill="#ff9c18"/><rect x="210.3" y="383.7" width="22.5" height="22.5" fill="#ff9c18"/><rect x="232.4" y="383.7" width="22.5" height="22.5" fill="#ff5918"/><rect x="254.5" y="383.7" width="22.5" height="22.5" fill="#ff5918"/><rect x="276.7" y="383.7" width="22.5" height="22.5" fill="#ff5918"/><rect x="298.8" y="383.7" width="22.5" height="22.5" fill="#f0421c"/><rect x="320.9" y="383.7" width="22.5" height="22.5" fill="#dd3c1d"/><rect x="343.1" y="383.7" width="22.5" height="22.5" fill="#d0381e"/><rect x="365.2" y="383.7" width="22.5" height="22.5" fill="#c3351e"/><rect x="387.4" y="383.7" width="22.5" height="22.5" fill="#b0301e"/><rect x="409.5" y="383.7" width="22.5" height="22.5" fill="#a82e1d"/><rect x="431.6" y="383.7" width="22.5" height="22.5" fill="#a82e1d"/><rect x="453.8" y="383.7" width="22.5" height="22.5" fill="#b0301e"/><rect x="475.9" y="383.7" width="22.5" height="22.5" fill="#a82e1d"/><rect x="498" y="383.7" width="22.5" height="22.5" fill="#a82e1d"/><rect x="520.2" y="383.7" width="22.5" height="22.5" fill="#a82e1d"/><rect x="542.3" y="383.7" width="22.5" height="22.5" fill="#b0301e"/><rect x="564.4" y="383.7" width="22.5" height="22.5" fill="#c3351e"/><rect x="586.6" y="383.7" width="22.5" height="22.5" fill="#f0421c"/><rect x="608.7" y="383.7" width="22.5" height="22.5" fill="#ff6618"/><rect x="630.8" y="383.7" width="22.5" height="22.5" fill="#ff7a18"/><rect x="653" y="383.7" width="22.5" height="22.5" fill="#ffa418"/><rect x="675.1" y="383.7" width="22.5" height="22.5" fill="#ffa418"/><rect x="697.2" y="383.7" width="22.5" height="22.5" fill="#ffae18"/><rect x="719.4" y="383.7" width="22.5" height="22.5" fill="#ff9018"/><rect x="741.5" y="383.7" width="22.5" height="22.5" fill="#ffae18"/><rect x="763.6" y="383.7" width="22.5" height="22.5" fill="#f6481a"/><rect x="188.1" y="405.7" width="22.5" height="22.5" fill="#bdf572"/><rect x="210.3" y="405.7" width="22.5" height="22.5" fill="#bdf572"/><rect x="232.4" y="405.7" width="22.5" height="22.5" fill="#ff9018"/><rect x="254.5" y="405.7" width="22.5" height="22.5" fill="#ff9018"/><rect x="276.7" y="405.7" width="22.5" height="22.5" fill="#ff9018"/><rect x="298.8" y="405.7" width="22.5" height="22.5" fill="#ff5918"/><rect x="320.9" y="405.7" width="22.5" height="22.5" fill="#ff5d18"/><rect x="343.1" y="405.7" width="22.5" height="22.5" fill="#ff5018"/><rect x="365.2" y="405.7" width="22.5" height="22.5" fill="#f94a1a"/><rect x="387.4" y="405.7" width="22.5" height="22.5" fill="#f3451b"/><rect x="409.5" y="405.7" width="22.5" height="22.5" fill="#dd3c1d"/><rect x="431.6" y="405.7" width="22.5" height="22.5" fill="#d0381e"/><rect x="453.8" y="405.7" width="22.5" height="22.5" fill="#c3351e"/><rect x="475.9" y="405.7" width="22.5" height="22.5" fill="#b6321e"/><rect x="498" y="405.7" width="22.5" height="22.5" fill="#ad2f1e"/><rect x="520.2" y="405.7" width="22.5" height="22.5" fill="#b0301e"/><rect x="542.3" y="405.7" width="22.5" height="22.5" fill="#b0301e"/><rect x="564.4" y="405.7" width="22.5" height="22.5" fill="#c3351e"/><rect x="586.6" y="405.7" width="22.5" height="22.5" fill="#f0421c"/><rect x="608.7" y="405.7" width="22.5" height="22.5" fill="#ff5918"/><rect x="630.8" y="405.7" width="22.5" height="22.5" fill="#ff6618"/><rect x="653" y="405.7" width="22.5" height="22.5" fill="#ffa418"/><rect x="675.1" y="405.7" width="22.5" height="22.5" fill="#ffae18"/><rect x="697.2" y="405.7" width="22.5" height="22.5" fill="#ffae18"/><rect x="719.4" y="405.7" width="22.5" height="22.5" fill="#ff8318"/><rect x="741.5" y="405.7" width="22.5" height="22.5" fill="#ff5018"/><rect x="763.6" y="405.7" width="22.5" height="22.5" fill="#ff5918"/><rect x="210.3" y="427.8" width="22.5" height="22.5" fill="#bdf572"/><rect x="232.4" y="427.8" width="22.5" height="22.5" fill="#ff9018"/><rect x="254.5" y="427.8" width="22.5" height="22.5" fill="#ff9018"/><rect x="276.7" y="427.8" width="22.5" height="22.5" fill="#ff9018"/><rect x="298.8" y="427.8" width="22.5" height="22.5" fill="#ff6218"/><rect x="320.9" y="427.8" width="22.5" height="22.5" fill="#ff6218"/><rect x="343.1" y="427.8" width="22.5" height="22.5" fill="#ff5918"/><rect x="365.2" y="427.8" width="22.5" height="22.5" fill="#f94a1a"/><rect x="387.4" y="427.8" width="22.5" height="22.5" fill="#f3451b"/><rect x="409.5" y="427.8" width="22.5" height="22.5" fill="#dd3c1d"/><rect x="431.6" y="427.8" width="22.5" height="22.5" fill="#d0381e"/><rect x="453.8" y="427.8" width="22.5" height="22.5" fill="#c3351e"/><rect x="475.9" y="427.8" width="22.5" height="22.5" fill="#b6321e"/><rect x="498" y="427.8" width="22.5" height="22.5" fill="#ad2f1e"/><rect x="520.2" y="427.8" width="22.5" height="22.5" fill="#a82e1d"/><rect x="542.3" y="427.8" width="22.5" height="22.5" fill="#b0301e"/><rect x="564.4" y="427.8" width="22.5" height="22.5" fill="#c3351e"/><rect x="586.6" y="427.8" width="22.5" height="22.5" fill="#f6481a"/><rect x="608.7" y="427.8" width="22.5" height="22.5" fill="#ff5018"/><rect x="630.8" y="427.8" width="22.5" height="22.5" fill="#ff6618"/><rect x="653" y="427.8" width="22.5" height="22.5" fill="#ff9018"/><rect x="675.1" y="427.8" width="22.5" height="22.5" fill="#ff9c18"/><rect x="697.2" y="427.8" width="22.5" height="22.5" fill="#ff9018"/><rect x="719.4" y="427.8" width="22.5" height="22.5" fill="#ff7218"/><rect x="741.5" y="427.8" width="22.5" height="22.5" fill="#f0421c"/><rect x="763.6" y="427.8" width="22.5" height="22.5" fill="#f0421c"/><rect x="232.4" y="449.9" width="22.5" height="22.5" fill="#fbf21d"/><rect x="254.5" y="449.9" width="22.5" height="22.5" fill="#ffe818"/><rect x="276.7" y="449.9" width="22.5" height="22.5" fill="#ffbc18"/><rect x="298.8" y="449.9" width="22.5" height="22.5" fill="#ff5d18"/><rect x="320.9" y="449.9" width="22.5" height="22.5" fill="#ff5918"/><rect x="343.1" y="449.9" width="22.5" height="22.5" fill="#f94a1a"/><rect x="365.2" y="449.9" width="22.5" height="22.5" fill="#f3451b"/><rect x="387.4" y="449.9" width="22.5" height="22.5" fill="#dd3c1d"/><rect x="409.5" y="449.9" width="22.5" height="22.5" fill="#d0381e"/><rect x="431.6" y="449.9" width="22.5" height="22.5" fill="#c3351e"/><rect x="453.8" y="449.9" width="22.5" height="22.5" fill="#c3351e"/><rect x="475.9" y="449.9" width="22.5" height="22.5" fill="#b6321e"/><rect x="498" y="449.9" width="22.5" height="22.5" fill="#ad2f1e"/><rect x="520.2" y="449.9" width="22.5" height="22.5" fill="#a22c1c"/><rect x="542.3" y="449.9" width="22.5" height="22.5" fill="#b0301e"/><rect x="564.4" y="449.9" width="22.5" height="22.5" fill="#c3351e"/><rect x="586.6" y="449.9" width="22.5" height="22.5" fill="#f0421c"/><rect x="608.7" y="449.9" width="22.5" height="22.5" fill="#f6481a"/><rect x="630.8" y="449.9" width="22.5" height="22.5" fill="#ff5918"/><rect x="653" y="449.9" width="22.5" height="22.5" fill="#ff6618"/><rect x="675.1" y="449.9" width="22.5" height="22.5" fill="#ff7218"/><rect x="697.2" y="449.9" width="22.5" height="22.5" fill="#ff9018"/><rect x="719.4" y="449.9" width="22.5" height="22.5" fill="#f6481a"/><rect x="741.5" y="449.9" width="22.5" height="22.5" fill="#f6481a"/><rect x="232.4" y="472" width="22.5" height="22.5" fill="#f2f92a"/><rect x="254.5" y="472" width="22.5" height="22.5" fill="#fbf21d"/><rect x="276.7" y="472" width="22.5" height="22.5" fill="#ffbc18"/><rect x="298.8" y="472" width="22.5" height="22.5" fill="#ff7218"/><rect x="320.9" y="472" width="22.5" height="22.5" fill="#ff6218"/><rect x="343.1" y="472" width="22.5" height="22.5" fill="#f3451b"/><rect x="365.2" y="472" width="22.5" height="22.5" fill="#ea401c"/><rect x="387.4" y="472" width="22.5" height="22.5" fill="#dd3c1d"/><rect x="409.5" y="472" width="22.5" height="22.5" fill="#d0381e"/><rect x="431.6" y="472" width="22.5" height="22.5" fill="#c3351e"/><rect x="453.8" y="472" width="22.5" height="22.5" fill="#b6321e"/><rect x="475.9" y="472" width="22.5" height="22.5" fill="#ad2f1e"/><rect x="498" y="472" width="22.5" height="22.5" fill="#b0301e"/><rect x="520.2" y="472" width="22.5" height="22.5" fill="#c3351e"/><rect x="542.3" y="472" width="22.5" height="22.5" fill="#c3351e"/><rect x="564.4" y="472" width="22.5" height="22.5" fill="#d0381e"/><rect x="586.6" y="472" width="22.5" height="22.5" fill="#dd3c1d"/><rect x="608.7" y="472" width="22.5" height="22.5" fill="#dd3c1d"/><rect x="630.8" y="472" width="22.5" height="22.5" fill="#dd3c1d"/><rect x="653" y="472" width="22.5" height="22.5" fill="#f0421c"/><rect x="675.1" y="472" width="22.5" height="22.5" fill="#f0421c"/><rect x="697.2" y="472" width="22.5" height="22.5" fill="#f6481a"/><rect x="719.4" y="472" width="22.5" height="22.5" fill="#b0301e"/><rect x="741.5" y="472" width="22.5" height="22.5" fill="#b0301e"/><rect x="763.6" y="472" width="22.5" height="22.5" fill="#a22c1c"/><rect x="298.8" y="494.1" width="22.5" height="22.5" fill="#ffe818"/><rect x="320.9" y="494.1" width="22.5" height="22.5" fill="#ffe818"/><rect x="343.1" y="494.1" width="22.5" height="22.5" fill="#ffda18"/><rect x="365.2" y="494.1" width="22.5" height="22.5" fill="#ff9018"/><rect x="387.4" y="494.1" width="22.5" height="22.5" fill="#ff7a18"/><rect x="409.5" y="494.1" width="22.5" height="22.5" fill="#ff7218"/><rect x="431.6" y="494.1" width="22.5" height="22.5" fill="#ff6618"/><rect x="453.8" y="494.1" width="22.5" height="22.5" fill="#ff6618"/><rect x="475.9" y="494.1" width="22.5" height="22.5" fill="#ea401c"/><rect x="498" y="494.1" width="22.5" height="22.5" fill="#f3451b"/><rect x="520.2" y="494.1" width="22.5" height="22.5" fill="#f94a1a"/><rect x="542.3" y="494.1" width="22.5" height="22.5" fill="#f3451b"/><rect x="564.4" y="494.1" width="22.5" height="22.5" fill="#f3451b"/><rect x="586.6" y="494.1" width="22.5" height="22.5" fill="#ea401c"/><rect x="608.7" y="494.1" width="22.5" height="22.5" fill="#ea401c"/><rect x="630.8" y="494.1" width="22.5" height="22.5" fill="#c3351e"/><rect x="653" y="494.1" width="22.5" height="22.5" fill="#b6321e"/><rect x="675.1" y="494.1" width="22.5" height="22.5" fill="#a82e1d"/><rect x="697.2" y="494.1" width="22.5" height="22.5" fill="#ad2f1e"/><rect x="719.4" y="494.1" width="22.5" height="22.5" fill="#a82e1d"/><rect x="741.5" y="494.1" width="22.5" height="22.5" fill="#a22c1c"/><rect x="298.8" y="516.1" width="22.5" height="22.5" fill="#ffbc18"/><rect x="320.9" y="516.1" width="22.5" height="22.5" fill="#f8f820"/><rect x="343.1" y="516.1" width="22.5" height="22.5" fill="#fbf21d"/><rect x="365.2" y="516.1" width="22.5" height="22.5" fill="#ff9c18"/><rect x="387.4" y="516.1" width="22.5" height="22.5" fill="#ff9018"/><rect x="409.5" y="516.1" width="22.5" height="22.5" fill="#ff8318"/><rect x="431.6" y="516.1" width="22.5" height="22.5" fill="#ff5d18"/><rect x="453.8" y="516.1" width="22.5" height="22.5" fill="#ff7a18"/><rect x="475.9" y="516.1" width="22.5" height="22.5" fill="#f3451b"/><rect x="498" y="516.1" width="22.5" height="22.5" fill="#f94a1a"/><rect x="520.2" y="516.1" width="22.5" height="22.5" fill="#f94a1a"/><rect x="542.3" y="516.1" width="22.5" height="22.5" fill="#f3451b"/><rect x="564.4" y="516.1" width="22.5" height="22.5" fill="#f3451b"/><rect x="586.6" y="516.1" width="22.5" height="22.5" fill="#dd3c1d"/><rect x="608.7" y="516.1" width="22.5" height="22.5" fill="#c3351e"/><rect x="630.8" y="516.1" width="22.5" height="22.5" fill="#ad2f1e"/><rect x="653" y="516.1" width="22.5" height="22.5" fill="#a82e1d"/><rect x="675.1" y="516.1" width="22.5" height="22.5" fill="#a22c1c"/><rect x="697.2" y="516.1" width="22.5" height="22.5" fill="#a22c1c"/><rect x="719.4" y="516.1" width="22.5" height="22.5" fill="#a82e1d"/><rect x="741.5" y="516.1" width="22.5" height="22.5" fill="#a82e1d"/><rect x="298.8" y="538.2" width="22.5" height="22.5" fill="#c6f665"/><rect x="320.9" y="538.2" width="22.5" height="22.5" fill="#ffbc18"/><rect x="343.1" y="538.2" width="22.5" height="22.5" fill="#fbf21d"/><rect x="365.2" y="538.2" width="22.5" height="22.5" fill="#ffae18"/><rect x="387.4" y="538.2" width="22.5" height="22.5" fill="#ffa418"/><rect x="409.5" y="538.2" width="22.5" height="22.5" fill="#ff9c18"/><rect x="431.6" y="538.2" width="22.5" height="22.5" fill="#ff8c18"/><rect x="453.8" y="538.2" width="22.5" height="22.5" fill="#ff9c18"/><rect x="475.9" y="538.2" width="22.5" height="22.5" fill="#f3451b"/><rect x="498" y="538.2" width="22.5" height="22.5" fill="#ff7a18"/><rect x="520.2" y="538.2" width="22.5" height="22.5" fill="#ff7a18"/><rect x="542.3" y="538.2" width="22.5" height="22.5" fill="#f94a1a"/><rect x="564.4" y="538.2" width="22.5" height="22.5" fill="#f3451b"/><rect x="586.6" y="538.2" width="22.5" height="22.5" fill="#c3351e"/><rect x="608.7" y="538.2" width="22.5" height="22.5" fill="#b6321e"/><rect x="630.8" y="538.2" width="22.5" height="22.5" fill="#b0301e"/><rect x="653" y="538.2" width="22.5" height="22.5" fill="#b0301e"/><rect x="675.1" y="538.2" width="22.5" height="22.5" fill="#a82e1d"/><rect x="697.2" y="538.2" width="22.5" height="22.5" fill="#a22c1c"/><rect x="719.4" y="538.2" width="22.5" height="22.5" fill="#a82e1d"/><rect x="741.5" y="538.2" width="22.5" height="22.5" fill="#a22c1c"/><rect x="320.9" y="560.3" width="22.5" height="22.5" fill="#c2f66b"/><rect x="343.1" y="560.3" width="22.5" height="22.5" fill="#daf94b"/><rect x="365.2" y="560.3" width="22.5" height="22.5" fill="#ffe818"/><rect x="387.4" y="560.3" width="22.5" height="22.5" fill="#ffd018"/><rect x="409.5" y="560.3" width="22.5" height="22.5" fill="#ffae18"/><rect x="431.6" y="560.3" width="22.5" height="22.5" fill="#ff9c18"/><rect x="453.8" y="560.3" width="22.5" height="22.5" fill="#ff9c18"/><rect x="475.9" y="560.3" width="22.5" height="22.5" fill="#ff6e18"/><rect x="498" y="560.3" width="22.5" height="22.5" fill="#ff7218"/><rect x="520.2" y="560.3" width="22.5" height="22.5" fill="#ff6e18"/><rect x="542.3" y="560.3" width="22.5" height="22.5" fill="#f94a1a"/><rect x="564.4" y="560.3" width="22.5" height="22.5" fill="#f6481a"/><rect x="586.6" y="560.3" width="22.5" height="22.5" fill="#dd3c1d"/><rect x="608.7" y="560.3" width="22.5" height="22.5" fill="#c3351e"/><rect x="630.8" y="560.3" width="22.5" height="22.5" fill="#a22c1c"/><rect x="653" y="560.3" width="22.5" height="22.5" fill="#a82e1d"/><rect x="675.1" y="560.3" width="22.5" height="22.5" fill="#a82e1d"/><rect x="697.2" y="560.3" width="22.5" height="22.5" fill="#a82e1d"/><rect x="719.4" y="560.3" width="22.5" height="22.5" fill="#a82e1d"/><rect x="741.5" y="560.3" width="22.5" height="22.5" fill="#a82e1d"/><rect x="365.2" y="582.4" width="22.5" height="22.5" fill="#bdf572"/><rect x="387.4" y="582.4" width="22.5" height="22.5" fill="#d0f858"/><rect x="409.5" y="582.4" width="22.5" height="22.5" fill="#ffd018"/><rect x="431.6" y="582.4" width="22.5" height="22.5" fill="#ffde18"/><rect x="453.8" y="582.4" width="22.5" height="22.5" fill="#ffde18"/><rect x="475.9" y="582.4" width="22.5" height="22.5" fill="#ffd018"/><rect x="498" y="582.4" width="22.5" height="22.5" fill="#ffd018"/><rect x="520.2" y="582.4" width="22.5" height="22.5" fill="#ffc418"/><rect x="542.3" y="582.4" width="22.5" height="22.5" fill="#ff8c18"/><rect x="564.4" y="582.4" width="22.5" height="22.5" fill="#ff8318"/><rect x="586.6" y="582.4" width="22.5" height="22.5" fill="#ff7a18"/><rect x="608.7" y="582.4" width="22.5" height="22.5" fill="#ff6618"/><rect x="630.8" y="582.4" width="22.5" height="22.5" fill="#ff5018"/><rect x="653" y="582.4" width="22.5" height="22.5" fill="#ff5018"/><rect x="675.1" y="582.4" width="22.5" height="22.5" fill="#c3351e"/><rect x="697.2" y="582.4" width="22.5" height="22.5" fill="#b0301e"/><rect x="719.4" y="582.4" width="22.5" height="22.5" fill="#a82e1d"/><rect x="741.5" y="582.4" width="22.5" height="22.5" fill="#a82e1d"/><rect x="409.5" y="604.5" width="22.5" height="22.5" fill="#e3fa3e"/><rect x="431.6" y="604.5" width="22.5" height="22.5" fill="#ffe818"/><rect x="453.8" y="604.5" width="22.5" height="22.5" fill="#ffd018"/><rect x="475.9" y="604.5" width="22.5" height="22.5" fill="#ffda18"/><rect x="498" y="604.5" width="22.5" height="22.5" fill="#ffda18"/><rect x="520.2" y="604.5" width="22.5" height="22.5" fill="#ffda18"/><rect x="542.3" y="604.5" width="22.5" height="22.5" fill="#ffd018"/><rect x="564.4" y="604.5" width="22.5" height="22.5" fill="#ff9018"/><rect x="586.6" y="604.5" width="22.5" height="22.5" fill="#ff7a18"/><rect x="608.7" y="604.5" width="22.5" height="22.5" fill="#ff6618"/><rect x="630.8" y="604.5" width="22.5" height="22.5" fill="#ff5018"/><rect x="653" y="604.5" width="22.5" height="22.5" fill="#f6481a"/><rect x="675.1" y="604.5" width="22.5" height="22.5" fill="#c3351e"/><rect x="697.2" y="604.5" width="22.5" height="22.5" fill="#a82e1d"/><rect x="719.4" y="604.5" width="22.5" height="22.5" fill="#a82e1d"/><rect x="431.6" y="626.5" width="22.5" height="22.5" fill="#fbf21d"/><rect x="453.8" y="626.5" width="22.5" height="22.5" fill="#fbf21d"/><rect x="475.9" y="626.5" width="22.5" height="22.5" fill="#fbf21d"/><rect x="498" y="626.5" width="22.5" height="22.5" fill="#ffe818"/><rect x="520.2" y="626.5" width="22.5" height="22.5" fill="#ffda18"/><rect x="542.3" y="626.5" width="22.5" height="22.5" fill="#ffd018"/><rect x="564.4" y="626.5" width="22.5" height="22.5" fill="#ffa418"/><rect x="586.6" y="626.5" width="22.5" height="22.5" fill="#ff9018"/><rect x="608.7" y="626.5" width="22.5" height="22.5" fill="#ff7a18"/><rect x="630.8" y="626.5" width="22.5" height="22.5" fill="#ff5018"/><rect x="653" y="626.5" width="22.5" height="22.5" fill="#f6481a"/><rect x="675.1" y="626.5" width="22.5" height="22.5" fill="#c3351e"/><rect x="697.2" y="626.5" width="22.5" height="22.5" fill="#a82e1d"/><rect x="719.4" y="626.5" width="22.5" height="22.5" fill="#a82e1d"/></g><text x="351" y="24" font-family="Liberation Sans" font-weight="bold" font-size="14.5" fill="#000" fill-opacity="0.13">Hokkaido AOBB Site</text><text x="359" y="37" font-family="Liberation Sans" font-size="10.5" fill="#900" fill-opacity="0.15">42MHz SeaSonde Measurements</text><g stroke="#111" stroke-width="1.05" fill="none" stroke-linejoin="miter"><path d="M410.3 17.7L395.1 19.8M386.5 21L394.7 16.9L395.5 22.7Z"/><path d="M432.4 17.7L417.2 19.8M408.7 21L416.8 16.9L417.6 22.7Z"/><path d="M454.6 17.7L439.4 19.8M430.8 21L439 16.9L439.8 22.7Z"/><path d="M476.7 17.7L461.5 19.8M452.9 21L461.1 16.9L461.9 22.7Z"/><path d="M498.8 17.7L483.6 19.8M475.1 21L483.2 16.9L484 22.7Z"/><path d="M521 17.7L505.8 19.8M497.2 21L505.4 16.9L506.2 22.7Z"/><path d="M543.1 17.7L527.9 19.8M519.3 21L527.5 16.9L528.3 22.7Z"/><path d="M575.3 17.4L540.9 20.4M531.4 21.3L540.6 17.2L541.2 23.6Z"/><path d="M597.4 17.4L563 20.4M553.6 21.3L562.8 17.2L563.3 23.6Z"/><path d="M366 39.7L350.8 41.9M342.3 43.1L350.4 39L351.2 44.8Z"/><path d="M388.2 39.7L373 41.9M364.4 43.1L372.5 39L373.4 44.8Z"/><path d="M410.3 39.7L395.1 41.9M386.5 43.1L394.7 39L395.5 44.8Z"/><path d="M432.4 39.7L417.2 41.9M408.7 43.1L416.8 39L417.6 44.8Z"/><path d="M454.6 39.7L439.4 41.9M430.8 43.1L439 39L439.8 44.8Z"/><path d="M476.7 39.7L461.5 41.9M452.9 43.1L461.1 39L461.9 44.8Z"/><path d="M498.8 39.7L483.6 41.9M475.1 43.1L483.2 39L484 44.8Z"/><path d="M521 39.7L505.8 41.9M497.2 43.1L505.4 39L506.2 44.8Z"/><path d="M543.1 39.7L527.9 41.9M519.3 43.1L527.5 39L528.3 44.8Z"/><path d="M571 37.7L545 43.2M535.8 45.2L544.4 40L545.7 46.3Z"/><path d="M597.4 39.5L563 42.5M553.6 43.3L562.8 39.3L563.3 45.7Z"/><path d="M619.5 39.5L585.2 42.5M575.7 43.3L584.9 39.3L585.5 45.7Z"/><path d="M324.2 63L305 63.7M295.5 64L304.9 60.4L305.1 66.9Z"/><path d="M346.4 63L327.1 63.7M317.6 64L327 60.4L327.3 66.9Z"/><path d="M367 63.1L350.5 63.6M341.3 63.9L350.4 60.5L350.7 66.8Z"/><path d="M389.1 63.1L372.7 63.6M363.4 63.9L372.6 60.5L372.8 66.8Z"/><path d="M411.3 63.1L394.8 63.6M385.6 63.9L394.7 60.5L394.9 66.8Z"/><path d="M434.2 63L416.4 63.6M406.9 64L416.3 60.4L416.5 66.9Z"/><path d="M456.3 63L438.6 63.6M429.1 64L438.5 60.4L438.7 66.9Z"/><path d="M475.8 63.1L461.7 63.6M453.8 63.9L461.7 60.9L461.8 66.3Z"/><path d="M492.8 62.3L485.3 63.8M481.1 64.7L485 62.4L485.6 65.3Z"/><path d="M515 62.3L507.4 63.8M503.2 64.7L507.1 62.4L507.8 65.3Z"/><path d="M537.1 62.3L529.6 63.8M525.4 64.7L529.3 62.4L529.9 65.3Z"/><path d="M559.2 62.3L551.7 63.8M547.5 64.7L551.4 62.4L552 65.3Z"/><path d="M581.4 62.3L573.9 63.8M569.6 64.7L573.5 62.4L574.2 65.3Z"/><path d="M603.5 62.3L596 63.8M591.8 64.7L595.7 62.4L596.3 65.3Z"/><path d="M641.7 61.6L607.3 64.6M597.9 65.4L607 61.4L607.6 67.8Z"/><path d="M663.8 61.6L629.5 64.6M620 65.4L629.2 61.4L629.7 67.8Z"/><path d="M275.1 85.2L262.9 85.7M256.1 85.9L262.9 83.3L263 88Z"/><path d="M298.7 85.2L284.7 85.7M276.7 86L284.6 83L284.8 88.4Z"/><path d="M322.7 85.1L306.3 85.7M297 86L306.2 82.6L306.4 88.9Z"/><path d="M344.9 85.1L328.4 85.7M319.1 86L328.3 82.6L328.5 88.9Z"/><path d="M367 85.1L350.5 85.7M341.3 86L350.4 82.6L350.7 88.9Z"/><path d="M390.6 85.1L371.4 85.8M361.9 86.1L371.3 82.5L371.5 89Z"/><path d="M412 85.1L394.3 85.7M384.8 86.1L394.2 82.5L394.4 89Z"/><path d="M437 85L413.6 85.8M404.1 86.2L413.4 82.6L413.7 89.1Z"/><path d="M459.2 85L435.7 85.8M426.2 86.2L435.6 82.6L435.8 89.1Z"/><path d="M475.8 85.2L461.7 85.7M453.8 86L461.7 83L461.8 88.4Z"/><path d="M492.8 84.3L485.3 85.9M481.1 86.8L485 84.5L485.6 87.4Z"/><path d="M515 84.3L507.4 85.9M503.2 86.8L507.1 84.5L507.8 87.4Z"/><path d="M537.1 84.3L529.6 85.9M525.4 86.8L529.3 84.5L529.9 87.4Z"/><path d="M559.2 84.3L551.7 85.9M547.5 86.8L551.4 84.5L552 87.4Z"/><path d="M581.4 84.3L573.9 85.9M569.6 86.8L573.5 84.5L574.2 87.4Z"/><path d="M603.5 84.3L596 85.9M591.8 86.8L595.7 84.5L596.3 87.4Z"/><path d="M629.3 85.2L617.1 85.7M610.3 85.9L617 83.3L617.2 88Z"/><path d="M663.8 83.7L629.5 86.7M620 87.5L629.2 83.5L629.7 89.9Z"/><path d="M253 107.3L240.8 107.8M234 108L240.7 105.4L240.9 110.1Z"/><path d="M275.1 107.3L262.9 107.8M256.1 108L262.9 105.4L263 110.1Z"/><path d="M298.7 107.3L284.7 107.8M276.7 108L284.6 105.1L284.8 110.5Z"/><path d="M323.5 107.2L305.8 107.8M296.3 108.1L305.6 104.6L305.9 111Z"/><path d="M344.9 107.2L328.4 107.8M319.1 108.1L328.3 104.6L328.5 110.9Z"/><path d="M367 107.2L350.5 107.8M341.3 108.1L350.4 104.6L350.7 110.9Z"/><path d="M390.6 107.2L371.4 107.8M361.9 108.2L371.3 104.6L371.5 111.1Z"/><path d="M412 107.2L394.3 107.8M384.8 108.1L394.2 104.6L394.4 111Z"/><path d="M433.4 107.2L416.9 107.8M407.7 108.1L416.8 104.6L417.1 110.9Z"/><path d="M455.6 107.2L439.1 107.8M429.8 108.1L439 104.6L439.2 110.9Z"/><path d="M475.8 107.3L461.7 107.8M453.8 108L461.7 105.1L461.8 110.5Z"/><path d="M496.5 107.3L484.3 107.8M477.5 108L484.2 105.4L484.4 110.1Z"/><path d="M518.6 107.3L506.4 107.8M499.6 108L506.4 105.4L506.5 110.1Z"/><path d="M540.7 107.3L528.6 107.8M521.7 108L528.5 105.4L528.7 110.1Z"/><path d="M559.2 106.4L551.7 108M547.5 108.9L551.4 106.6L552 109.4Z"/><path d="M581.4 106.4L573.9 108M569.6 108.9L573.5 106.6L574.2 109.4Z"/><path d="M607.1 107.3L595 107.8M588.1 108L594.9 105.4L595.1 110.1Z"/><path d="M629.3 107.3L617.1 107.8M610.3 108L617 105.4L617.2 110.1Z"/><path d="M647.8 106.4L640.3 108M636 108.9L640 106.6L640.6 109.4Z"/><path d="M686 105.7L651.6 108.7M642.1 109.6L651.3 105.5L651.9 112Z"/><path d="M232.3 129.4L218.3 129.8M210.3 130.1L218.2 127.2L218.4 132.5Z"/><path d="M255.2 129.3L240.2 129.9M231.7 130.2L240.1 127L240.3 132.7Z"/><path d="M277.4 129.3L262.3 129.9M253.9 130.2L262.2 127L262.4 132.7Z"/><path d="M299.5 129.3L284.5 129.9M276 130.2L284.4 127L284.6 132.7Z"/><path d="M324.2 129.2L305 129.9M295.5 130.2L304.9 126.7L305.1 133.1Z"/><path d="M344.9 129.3L328.4 129.9M319.1 130.2L328.3 126.7L328.5 133Z"/><path d="M367 129.3L350.5 129.9M341.3 130.2L350.4 126.7L350.7 133Z"/><path d="M390.6 129.2L371.4 129.9M361.9 130.2L371.3 126.7L371.5 133.1Z"/><path d="M412 129.3L394.3 129.9M384.8 130.2L394.2 126.7L394.4 133.1Z"/><path d="M433.4 129.3L416.9 129.9M407.7 130.2L416.8 126.7L417.1 133Z"/><path d="M457.1 129.2L437.8 129.9M428.3 130.2L437.7 126.7L437.9 133.1Z"/><path d="M475.8 129.4L461.7 129.8M453.8 130.1L461.7 127.2L461.8 132.5Z"/><path d="M498 129.4L483.9 129.8M476 130.1L483.8 127.2L484 132.5Z"/><path d="M518.6 129.4L506.4 129.8M499.6 130.1L506.4 127.5L506.5 132.2Z"/><path d="M537.1 128.5L529.6 130.1M525.4 131L529.3 128.7L529.9 131.5Z"/><path d="M559.2 128.5L551.7 130.1M547.5 131L551.4 128.7L552 131.5Z"/><path d="M585 129.4L572.8 129.8M566 130.1L572.8 127.5L572.9 132.2Z"/><path d="M607.1 129.4L595 129.8M588.1 130.1L594.9 127.5L595.1 132.2Z"/><path d="M629.3 129.4L617.1 129.8M610.3 130.1L617 127.5L617.2 132.2Z"/><path d="M651.4 129.4L639.2 129.8M632.4 130.1L639.2 127.5L639.3 132.2Z"/><path d="M686 127.8L651.6 130.8M642.1 131.7L651.3 127.6L651.9 134Z"/><path d="M708.1 127.8L673.7 130.8M664.3 131.7L673.4 127.6L674 134Z"/><path d="M210.2 151.4L196.1 151.9M188.2 152.2L196 149.2L196.2 154.6Z"/><path d="M232.3 151.4L218.3 151.9M210.3 152.2L218.2 149.2L218.4 154.6Z"/><path d="M255.2 151.4L240.2 151.9M231.7 152.2L240.1 149.1L240.3 154.8Z"/><path d="M277.4 151.4L262.3 151.9M253.9 152.2L262.2 149.1L262.4 154.8Z"/><path d="M299.5 151.4L284.5 151.9M276 152.2L284.4 149.1L284.6 154.8Z"/><path d="M323.5 151.3L305.8 152M296.3 152.3L305.6 148.7L305.9 155.2Z"/><path d="M345.6 151.3L327.9 152M318.4 152.3L327.8 148.7L328 155.2Z"/><path d="M368.5 151.3L349.3 152M339.8 152.3L349.2 148.8L349.4 155.2Z"/><path d="M390.6 151.3L371.4 152M361.9 152.3L371.3 148.8L371.5 155.2Z"/><path d="M412.8 151.3L393.5 152M384.1 152.3L393.4 148.8L393.7 155.2Z"/><path d="M432.3 151.4L417.3 151.9M408.8 152.2L417.2 149.1L417.4 154.8Z"/><path d="M453.7 151.4L439.6 151.9M431.7 152.2L439.5 149.2L439.7 154.6Z"/><path d="M475.8 151.4L461.7 151.9M453.8 152.2L461.7 149.2L461.8 154.6Z"/><path d="M496.5 151.5L484.3 151.9M477.5 152.2L484.2 149.6L484.4 154.2Z"/><path d="M518.6 151.5L506.4 151.9M499.6 152.2L506.4 149.6L506.5 154.2Z"/><path d="M540.7 151.5L528.6 151.9M521.7 152.2L528.5 149.6L528.7 154.2Z"/><path d="M562.9 151.5L550.7 151.9M543.9 152.2L550.6 149.6L550.8 154.2Z"/><path d="M585 151.5L572.8 151.9M566 152.2L572.8 149.6L572.9 154.2Z"/><path d="M603.5 150.6L596 152.2M591.8 153.1L595.7 150.7L596.3 153.6Z"/><path d="M632.6 151.4L616.2 151.9M606.9 152.3L616.1 148.8L616.3 155.1Z"/><path d="M654.8 151.4L638.3 151.9M629 152.3L638.2 148.8L638.4 155.1Z"/><path d="M669.9 150.6L662.4 152.2M658.2 153.1L662.1 150.7L662.7 153.6Z"/><path d="M708.1 149.9L673.7 152.9M664.3 153.7L673.4 149.7L674 156.1Z"/><path d="M188.1 173.5L174 174M166.1 174.3L173.9 171.3L174.1 176.7Z"/><path d="M210.2 173.5L196.1 174M188.2 174.3L196 171.3L196.2 176.7Z"/><path d="M232.3 173.5L218.3 174M210.3 174.3L218.2 171.3L218.4 176.7Z"/><path d="M255.2 173.5L240.2 174M231.7 174.3L240.1 171.1L240.3 176.9Z"/><path d="M277.4 173.5L262.3 174M253.9 174.3L262.2 171.1L262.4 176.9Z"/><path d="M299.5 173.5L284.5 174M276 174.3L284.4 171.1L284.6 176.9Z"/><path d="M326.4 173.3L302.9 174.1M293.4 174.5L302.8 170.9L303 177.4Z"/><path d="M348.5 173.3L325 174.1M315.5 174.5L324.9 170.9L325.1 177.4Z"/><path d="M370.6 173.3L347.2 174.1M337.7 174.5L347 170.9L347.3 177.4Z"/><path d="M390.6 173.4L371.4 174.1M361.9 174.4L371.3 170.8L371.5 177.3Z"/><path d="M412.8 173.4L393.5 174.1M384.1 174.4L393.4 170.8L393.7 177.3Z"/><path d="M433.4 173.5L416.9 174M407.7 174.3L416.8 170.9L417.1 177.2Z"/><path d="M454.4 173.5L439.4 174M430.9 174.3L439.3 171.1L439.5 176.9Z"/><path d="M476.6 173.5L461.5 174M453.1 174.3L461.4 171.1L461.6 176.9Z"/><path d="M496.5 173.6L484.3 174M477.5 174.2L484.2 171.7L484.4 176.3Z"/><path d="M518.6 173.6L506.4 174M499.6 174.2L506.4 171.7L506.5 176.3Z"/><path d="M540.7 173.6L528.6 174M521.7 174.2L528.5 171.7L528.7 176.3Z"/><path d="M559.2 172.7L551.7 174.2M547.5 175.1L551.4 172.8L552 175.7Z"/><path d="M585 173.6L572.8 174M566 174.2L572.8 171.7L572.9 176.3Z"/><path d="M607.1 173.6L595 174M588.1 174.2L594.9 171.7L595.1 176.3Z"/><path d="M629.3 173.6L617.1 174M610.3 174.2L617 171.7L617.2 176.3Z"/><path d="M654.8 173.5L638.3 174M629 174.3L638.2 170.9L638.4 177.2Z"/><path d="M675 173.5L661 174M653 174.3L660.9 171.3L661.1 176.7Z"/><path d="M708.1 172L673.7 175M664.3 175.8L673.4 171.8L674 178.2Z"/><path d="M730.2 172L695.9 175M686.4 175.8L695.6 171.8L696.1 178.2Z"/><path d="M188.1 195.6L174 196.1M166.1 196.4L173.9 193.4L174.1 198.8Z"/><path d="M210.2 195.6L196.1 196.1M188.2 196.4L196 193.4L196.2 198.8Z"/><path d="M232.3 195.6L218.3 196.1M210.3 196.4L218.2 193.4L218.4 198.8Z"/><path d="M254.5 195.6L240.4 196.1M232.5 196.4L240.3 193.4L240.5 198.8Z"/><path d="M277.4 195.6L262.3 196.1M253.9 196.4L262.2 193.2L262.4 199Z"/><path d="M301.4 195.5L283.6 196.1M274.1 196.5L283.5 192.9L283.7 199.4Z"/><path d="M326.4 195.4L302.9 196.2M293.4 196.6L302.8 193L303 199.5Z"/><path d="M348.5 195.4L325 196.2M315.5 196.6L324.9 193L325.1 199.5Z"/><path d="M370.6 195.4L347.2 196.2M337.7 196.6L347 193L347.3 199.5Z"/><path d="M389.1 195.5L372.7 196.1M363.4 196.4L372.6 193L372.8 199.3Z"/><path d="M411.3 195.5L394.8 196.1M385.6 196.4L394.7 193L394.9 199.3Z"/><path d="M433.4 195.5L416.9 196.1M407.7 196.4L416.8 193L417.1 199.3Z"/><path d="M453.7 195.6L439.6 196.1M431.7 196.4L439.5 193.4L439.7 198.8Z"/><path d="M475.8 195.6L461.7 196.1M453.8 196.4L461.7 193.4L461.8 198.8Z"/><path d="M498 195.6L483.9 196.1M476 196.4L483.8 193.4L484 198.8Z"/><path d="M518.6 195.6L506.4 196.1M499.6 196.3L506.4 193.7L506.5 198.4Z"/><path d="M540.7 195.6L528.6 196.1M521.7 196.3L528.5 193.7L528.7 198.4Z"/><path d="M562.9 195.6L550.7 196.1M543.9 196.3L550.6 193.7L550.8 198.4Z"/><path d="M585 195.6L572.8 196.1M566 196.3L572.8 193.7L572.9 198.4Z"/><path d="M607.1 195.6L595 196.1M588.1 196.3L594.9 193.7L595.1 198.4Z"/><path d="M629.3 195.6L617.1 196.1M610.3 196.3L617 193.7L617.2 198.4Z"/><path d="M654.8 195.5L638.3 196.1M629 196.4L638.2 193L638.4 199.3Z"/><path d="M673.5 195.6L661.4 196.1M654.5 196.3L661.3 193.7L661.5 198.4Z"/><path d="M708.1 194.1L673.7 197.1M664.3 197.9L673.4 193.9L674 200.3Z"/><path d="M730.2 194.1L695.9 197.1M686.4 197.9L695.6 193.9L696.1 200.3Z"/><path d="M188.1 217.7L174 218.2M166.1 218.4L173.9 215.5L174.1 220.9Z"/><path d="M210.2 217.7L196.1 218.2M188.2 218.4L196 215.5L196.2 220.9Z"/><path d="M232.3 217.7L218.3 218.2M210.3 218.4L218.2 215.5L218.4 220.9Z"/><path d="M254.5 217.7L240.4 218.2M232.5 218.4L240.3 215.5L240.5 220.9Z"/><path d="M278.5 217.6L262 218.2M252.7 218.5L261.9 215L262.1 221.3Z"/><path d="M301.4 217.6L283.6 218.2M274.1 218.5L283.5 215L283.7 221.4Z"/><path d="M325.4 217.5L303.9 218.3M294.4 218.6L303.8 215L304 221.5Z"/><path d="M347.5 217.5L326 218.3M316.5 218.6L325.9 215L326.1 221.5Z"/><path d="M368.5 217.6L349.3 218.2M339.8 218.6L349.2 215L349.4 221.5Z"/><path d="M389.9 217.6L372.2 218.2M362.7 218.5L372 215L372.3 221.4Z"/><path d="M411.3 217.6L394.8 218.2M385.6 218.5L394.7 215L394.9 221.3Z"/><path d="M433.4 217.6L416.9 218.2M407.7 218.5L416.8 215L417.1 221.3Z"/><path d="M455.6 217.6L439.1 218.2M429.8 218.5L439 215L439.2 221.3Z"/><path d="M477.7 217.6L461.2 218.2M452 218.5L461.1 215L461.3 221.3Z"/><path d="M499.8 217.6L483.4 218.2M474.1 218.5L483.2 215L483.5 221.3Z"/><path d="M520.8 217.6L505.8 218.2M497.3 218.5L505.7 215.3L505.9 221Z"/><path d="M542.2 217.7L528.1 218.2M520.2 218.4L528.1 215.5L528.2 220.9Z"/><path d="M562.9 217.7L550.7 218.2M543.9 218.4L550.6 215.8L550.8 220.5Z"/><path d="M585 217.7L572.8 218.2M566 218.4L572.8 215.8L572.9 220.5Z"/><path d="M607.1 217.7L595 218.2M588.1 218.4L594.9 215.8L595.1 220.5Z"/><path d="M629.3 217.7L617.1 218.2M610.3 218.4L617 215.8L617.2 220.5Z"/><path d="M651.4 217.7L639.2 218.2M632.4 218.4L639.2 215.8L639.3 220.5Z"/><path d="M673.5 217.7L661.4 218.2M654.5 218.4L661.3 215.8L661.5 220.5Z"/><path d="M702.7 217.5L679.2 218.3M669.7 218.6L679.1 215.1L679.3 221.5Z"/><path d="M730.2 216.1L695.9 219.1M686.4 220L695.6 215.9L696.1 222.4Z"/><path d="M752.4 216.1L718 219.1M708.5 220L717.7 215.9L718.3 222.4Z"/><path d="M188.1 239.8L174 240.2M166.1 240.5L173.9 237.6L174.1 242.9Z"/><path d="M210.2 239.8L196.1 240.2M188.2 240.5L196 237.6L196.2 242.9Z"/><path d="M232.3 239.8L218.3 240.2M210.3 240.5L218.2 237.6L218.4 242.9Z"/><path d="M254.5 239.8L240.4 240.2M232.5 240.5L240.3 237.6L240.5 242.9Z"/><path d="M278.5 239.7L262 240.3M252.7 240.6L261.9 237.1L262.1 243.4Z"/><path d="M301.4 239.7L283.6 240.3M274.1 240.6L283.5 237.1L283.7 243.5Z"/><path d="M325.4 239.6L303.9 240.3M294.4 240.7L303.8 237.1L304 243.6Z"/><path d="M347.5 239.6L326 240.3M316.5 240.7L325.9 237.1L326.1 243.6Z"/><path d="M367.8 239.7L350 240.3M340.5 240.6L349.9 237.1L350.1 243.5Z"/><path d="M391.8 239.6L370.3 240.3M360.8 240.7L370.2 237.1L370.4 243.6Z"/><path d="M413.9 239.6L392.4 240.3M382.9 240.7L392.3 237.1L392.5 243.6Z"/><path d="M436 239.6L414.6 240.3M405.1 240.7L414.4 237.1L414.7 243.6Z"/><path d="M455.6 239.7L439.1 240.3M429.8 240.6L439 237.1L439.2 243.4Z"/><path d="M477.7 239.7L461.2 240.3M452 240.6L461.1 237.1L461.3 243.4Z"/><path d="M499.8 239.7L483.4 240.3M474.1 240.6L483.2 237.1L483.5 243.4Z"/><path d="M522 239.7L505.5 240.3M496.2 240.6L505.4 237.1L505.6 243.4Z"/><path d="M542.2 239.8L528.1 240.2M520.2 240.5L528.1 237.6L528.2 242.9Z"/><path d="M562.9 239.8L550.7 240.2M543.9 240.5L550.6 237.9L550.8 242.6Z"/><path d="M585 239.8L572.8 240.2M566 240.5L572.8 237.9L572.9 242.6Z"/><path d="M607.1 239.8L595 240.2M588.1 240.5L594.9 237.9L595.1 242.6Z"/><path d="M629.3 239.8L617.1 240.2M610.3 240.5L617 237.9L617.2 242.6Z"/><path d="M652.9 239.8L638.8 240.2M630.9 240.5L638.7 237.6L638.9 242.9Z"/><path d="M675 239.8L661 240.2M653 240.5L660.9 237.6L661.1 242.9Z"/><path d="M702.7 239.6L679.2 240.4M669.7 240.7L679.1 237.2L679.3 243.6Z"/><path d="M730.2 238.2L695.9 241.2M686.4 242.1L695.6 238L696.1 244.4Z"/><path d="M752.4 238.2L718 241.2M708.5 242.1L717.7 238L718.3 244.4Z"/><path d="M188.1 261.8L174 262.3M166.1 262.6L173.9 259.6L174.1 265Z"/><path d="M210.2 261.8L196.1 262.3M188.2 262.6L196 259.6L196.2 265Z"/><path d="M232.3 261.8L218.3 262.3M210.3 262.6L218.2 259.6L218.4 265Z"/><path d="M255.2 261.8L240.2 262.3M231.7 262.6L240.1 259.5L240.3 265.2Z"/><path d="M279.2 261.7L261.5 262.4M252 262.7L261.4 259.1L261.6 265.6Z"/><path d="M301.4 261.7L283.6 262.4M274.1 262.7L283.5 259.1L283.7 265.6Z"/><path d="M325.4 261.7L303.9 262.4M294.4 262.8L303.8 259.2L304 265.7Z"/><path d="M347.5 261.7L326 262.4M316.5 262.8L325.9 259.2L326.1 265.7Z"/><path d="M368.5 261.7L349.3 262.4M339.8 262.7L349.2 259.2L349.4 265.6Z"/><path d="M390.6 261.7L371.4 262.4M361.9 262.7L371.3 259.2L371.5 265.6Z"/><path d="M413.9 261.7L392.4 262.4M382.9 262.8L392.3 259.2L392.5 265.7Z"/><path d="M434.9 261.7L415.7 262.4M406.2 262.7L415.6 259.2L415.8 265.6Z"/><path d="M456.3 261.7L438.6 262.4M429.1 262.7L438.5 259.1L438.7 265.6Z"/><path d="M478.4 261.7L460.7 262.4M451.2 262.7L460.6 259.1L460.8 265.6Z"/><path d="M499.8 261.8L483.4 262.3M474.1 262.7L483.2 259.2L483.5 265.5Z"/><path d="M522 261.8L505.5 262.3M496.2 262.7L505.4 259.2L505.6 265.5Z"/><path d="M542.2 261.8L528.1 262.3M520.2 262.6L528.1 259.6L528.2 265Z"/><path d="M564.4 261.8L550.3 262.3M542.4 262.6L550.2 259.6L550.4 265Z"/><path d="M581.4 261L573.9 262.6M569.6 263.5L573.5 261.1L574.2 264Z"/><path d="M603.5 261L596 262.6M591.8 263.5L595.7 261.1L596.3 264Z"/><path d="M625.6 261L618.1 262.6M613.9 263.5L617.8 261.1L618.4 264Z"/><path d="M647.8 261L640.3 262.6M636 263.5L640 261.1L640.6 264Z"/><path d="M669.9 261L662.4 262.6M658.2 263.5L662.1 261.1L662.7 264Z"/><path d="M699 261.8L682.6 262.3M673.3 262.7L682.5 259.2L682.7 265.5Z"/><path d="M720.1 261.8L705 262.3M696.6 262.6L704.9 259.5L705.1 265.2Z"/><path d="M743.3 261.8L726.8 262.3M717.6 262.7L726.7 259.2L726.9 265.5Z"/><path d="M765.4 261.8L749 262.3M739.7 262.7L748.9 259.2L749.1 265.5Z"/><path d="M188.1 283.7L174 284.5M166.1 284.9L173.9 281.8L174.1 287.2Z"/><path d="M210.2 283.7L196.1 284.5M188.2 284.9L196 281.8L196.3 287.2Z"/><path d="M232.3 283.7L218.3 284.5M210.4 284.9L218.1 281.8L218.4 287.2Z"/><path d="M255.2 283.7L240.2 284.5M231.7 284.9L240 281.6L240.3 287.3Z"/><path d="M278.5 283.6L262 284.5M252.8 285L261.8 281.3L262.2 287.6Z"/><path d="M301.3 283.6L283.6 284.5M274.1 285L283.5 281.3L283.8 287.7Z"/><path d="M325.4 283.5L303.9 284.6M294.4 285.1L303.7 281.4L304.1 287.8Z"/><path d="M347.5 283.5L326 284.6M316.5 285.1L325.9 281.4L326.2 287.8Z"/><path d="M369.6 283.8L348.2 284.5M338.7 284.8L348 281.3L348.3 287.7Z"/><path d="M391.8 283.8L370.3 284.5M360.8 284.8L370.2 281.3L370.4 287.7Z"/><path d="M413.9 283.8L392.4 284.5M382.9 284.8L392.3 281.3L392.5 287.7Z"/><path d="M436 283.8L414.6 284.5M405.1 284.8L414.4 281.3L414.7 287.7Z"/><path d="M458.2 283.8L436.7 284.5M427.2 284.8L436.6 281.3L436.8 287.7Z"/><path d="M479.2 283.8L460 284.5M450.5 284.8L459.8 281.2L460.1 287.7Z"/><path d="M501.3 283.8L482.1 284.5M472.6 284.8L482 281.2L482.2 287.7Z"/><path d="M523.5 283.8L504.2 284.5M494.7 284.8L504.1 281.2L504.3 287.7Z"/><path d="M540.7 284L528.6 284.4M521.7 284.6L528.5 282.1L528.7 286.7Z"/><path d="M562.9 284L550.7 284.4M543.9 284.6L550.6 282.1L550.8 286.7Z"/><path d="M581.4 283.1L573.9 284.6M569.6 285.5L573.5 283.2L574.2 286.1Z"/><path d="M603.5 283.1L596 284.6M591.8 285.5L595.7 283.2L596.3 286.1Z"/><path d="M627.1 282.7L617.7 284.7M612.4 285.9L617.3 282.9L618.1 286.5Z"/><path d="M649.2 282.7L639.8 284.7M634.6 285.9L639.5 282.9L640.2 286.5Z"/><path d="M671.4 282.7L662 284.7M656.7 285.9L661.6 282.9L662.4 286.5Z"/><path d="M695.7 284L683.5 284.4M676.7 284.6L683.4 282.1L683.6 286.7Z"/><path d="M715.6 282.7L706.3 284.7M701 285.9L705.9 282.9L706.6 286.5Z"/><path d="M741.4 283.9L727.4 284.4M719.4 284.7L727.3 281.7L727.5 287.1Z"/><path d="M763.6 283.9L749.5 284.4M741.6 284.7L749.4 281.7L749.6 287.1Z"/><path d="M143.7 305.1L129.7 306.7M121.9 307.6L129.4 304.1L130 309.4Z"/><path d="M188 305.1L174 306.7M166.1 307.6L173.7 304.1L174.3 309.4Z"/><path d="M210.1 305.1L196.1 306.7M188.3 307.6L195.8 304.1L196.4 309.4Z"/><path d="M232.3 305.1L218.3 306.7M210.4 307.6L218 304.1L218.6 309.4Z"/><path d="M255.1 305L240.2 306.8M231.8 307.7L239.9 303.9L240.5 309.6Z"/><path d="M276.5 305.1L262.5 306.7M254.7 307.6L262.2 304.1L262.9 309.4Z"/><path d="M300.5 304.9L284.2 306.8M275 307.8L283.8 303.7L284.5 309.9Z"/><path d="M325.3 304.6L303.9 307.1M294.5 308.1L303.6 303.8L304.3 310.3Z"/><path d="M347.4 304.6L326.1 307.1M316.6 308.1L325.7 303.8L326.4 310.3Z"/><path d="M369.6 305.3L348.2 306.8M338.7 307.4L347.9 303.6L348.4 310Z"/><path d="M390.6 305.4L371.4 306.7M361.9 307.4L371.2 303.5L371.6 309.9Z"/><path d="M413.9 305.8L392.4 306.6M382.9 306.9L392.3 303.4L392.5 309.8Z"/><path d="M436 305.8L414.6 306.6M405.1 306.9L414.4 303.4L414.7 309.8Z"/><path d="M458.2 305.8L436.7 306.6M427.2 306.9L436.6 303.4L436.8 309.8Z"/><path d="M481.3 305.8L457.8 306.6M448.3 307L457.7 303.4L457.9 309.9Z"/><path d="M503.4 305.8L480 306.6M470.5 307L479.8 303.4L480.1 309.9Z"/><path d="M523.5 305.9L504.2 306.6M494.7 306.9L504.1 303.3L504.3 309.8Z"/><path d="M542.2 306L528.1 306.5M520.2 306.8L528.1 303.8L528.2 309.2Z"/><path d="M564.4 306L550.3 306.5M542.4 306.8L550.2 303.8L550.4 309.2Z"/><path d="M585 306L572.8 306.5M566 306.7L572.8 304.1L572.9 308.8Z"/><path d="M607.1 306L595 306.5M588.1 306.7L594.9 304.1L595.1 308.8Z"/><path d="M629.3 306L617.1 306.5M610.3 306.7L617 304.1L617.2 308.8Z"/><path d="M651.4 306L639.2 306.5M632.4 306.7L639.2 304.1L639.3 308.8Z"/><path d="M673.5 306L661.4 306.5M654.5 306.7L661.3 304.1L661.5 308.8Z"/><path d="M695.7 306L683.5 306.5M676.7 306.7L683.4 304.1L683.6 308.8Z"/><path d="M715.6 304.8L706.3 306.8M701 307.9L705.9 305L706.6 308.6Z"/><path d="M734 302.8L729.5 307.4M726.9 309.9L728.6 306.5L730.3 308.2Z"/><path d="M759.9 304.8L750.5 306.8M745.2 307.9L750.1 305L750.9 308.6Z"/><path d="M187.9 326.5L174 329M166.2 330.4L173.6 326.3L174.5 331.6Z"/><path d="M210 326.5L196.2 329M188.4 330.4L195.7 326.3L196.6 331.6Z"/><path d="M232.2 326.5L218.3 329M210.5 330.4L217.8 326.3L218.8 331.6Z"/><path d="M254.3 326.5L240.4 329M232.6 330.4L240 326.3L240.9 331.6Z"/><path d="M276.4 326.5L262.6 329M254.8 330.4L262.1 326.3L263 331.6Z"/><path d="M298.6 326.5L284.7 329M276.9 330.4L284.2 326.3L285.2 331.6Z"/><path d="M325.1 325.8L304 329.5M294.6 331.2L303.4 326.3L304.5 332.7Z"/><path d="M347.3 325.8L326.1 329.5M316.7 331.2L325.5 326.3L326.7 332.7Z"/><path d="M368.4 327L349.3 329M339.9 330L349 325.8L349.6 332.2Z"/><path d="M390.6 327L371.4 329M362 330L371.1 325.8L371.8 332.2Z"/><path d="M413.9 327.9L392.4 328.7M382.9 329L392.3 325.4L392.5 331.9Z"/><path d="M436 327.9L414.6 328.7M405.1 329L414.4 325.4L414.7 331.9Z"/><path d="M458.2 327.9L436.7 328.7M427.2 329L436.6 325.4L436.8 331.9Z"/><path d="M480.3 327.9L458.8 328.7M449.3 329L458.7 325.4L458.9 331.9Z"/><path d="M503.4 327.9L480 328.7M470.5 329L479.8 325.5L480.1 331.9Z"/><path d="M524.6 327.9L503.1 328.7M493.6 329L503 325.4L503.2 331.9Z"/><path d="M542.2 328.1L528.1 328.6M520.2 328.8L528.1 325.9L528.2 331.3Z"/><path d="M564.4 328.1L550.3 328.6M542.4 328.8L550.2 325.9L550.4 331.3Z"/><path d="M586.5 328.1L572.4 328.6M564.5 328.8L572.3 325.9L572.5 331.3Z"/><path d="M607.1 328.1L595 328.6M588.1 328.8L594.9 326.2L595.1 330.9Z"/><path d="M629.3 328.1L617.1 328.6M610.3 328.8L617 326.2L617.2 330.9Z"/><path d="M649.2 326.9L639.8 328.9M634.6 330L639.5 327.1L640.2 330.7Z"/><path d="M671.4 326.9L662 328.9M656.7 330L661.6 327.1L662.4 330.7Z"/><path d="M693.5 326.9L684.1 328.9M678.8 330L683.7 327.1L684.5 330.7Z"/><path d="M715.6 326.9L706.3 328.9M701 330L705.9 327.1L706.6 330.7Z"/><path d="M734 324.9L729.5 329.4M726.9 332L728.6 328.6L730.3 330.3Z"/><path d="M762.1 328.1L749.9 328.6M743.1 328.8L749.8 326.2L750 330.9Z"/><path d="M187.8 348L174.1 351.3M166.4 353.1L173.4 348.6L174.7 353.9Z"/><path d="M209.9 348L196.2 351.3M188.5 353.1L195.6 348.6L196.8 353.9Z"/><path d="M232 348L218.3 351.3M210.6 353.1L217.7 348.6L219 353.9Z"/><path d="M252.7 348.3L240.9 351.2M234.2 352.8L240.3 348.9L241.4 353.4Z"/><path d="M274.8 348.3L263 351.2M256.4 352.8L262.5 348.9L263.6 353.4Z"/><path d="M297 348.3L285.2 351.2M278.5 352.8L284.6 348.9L285.7 353.4Z"/><path d="M322.4 347.5L306.4 351.4M297.4 353.5L305.6 348.3L307.1 354.4Z"/><path d="M346 347.2L327.3 351.7M318 353.9L326.5 348.5L328 354.8Z"/><path d="M368.4 348.5L349.3 351.2M339.9 352.6L348.9 348L349.8 354.4Z"/><path d="M391.6 348.4L370.3 351.4M360.9 352.7L369.9 348.2L370.8 354.6Z"/><path d="M413.9 350L392.4 350.7M382.9 351.1L392.3 347.5L392.5 354Z"/><path d="M436 350L414.6 350.7M405.1 351.1L414.4 347.5L414.7 354Z"/><path d="M458.2 350L436.7 350.7M427.2 351.1L436.6 347.5L436.8 354Z"/><path d="M480.3 350L458.8 350.7M449.3 351.1L458.7 347.5L458.9 354Z"/><path d="M502.4 350L481 350.7M471.5 351.1L480.8 347.5L481.1 354Z"/><path d="M525.6 350L502.1 350.8M492.6 351.1L502 347.6L502.2 354Z"/><path d="M544.1 350.1L527.6 350.7M518.4 351L527.5 347.5L527.7 353.8Z"/><path d="M567.7 350L548.5 350.7M539 351L548.4 347.5L548.6 353.9Z"/><path d="M587.2 350.1L572.2 350.7M563.8 351L572.1 347.8L572.3 353.5Z"/><path d="M608.6 350.2L594.6 350.6M586.6 350.9L594.5 348L594.6 353.3Z"/><path d="M629.3 350.2L617.1 350.6M610.3 350.9L617 348.3L617.2 353Z"/><path d="M649.2 349L639.8 351M634.6 352.1L639.5 349.2L640.2 352.8Z"/><path d="M671.4 349L662 351M656.7 352.1L661.6 349.2L662.4 352.8Z"/><path d="M693.5 349L684.1 351M678.8 352.1L683.7 349.2L684.5 352.8Z"/><path d="M715.6 349L706.3 351M701 352.1L705.9 349.2L706.6 352.8Z"/><path d="M734 347L729.5 351.5M726.9 354.1L728.6 350.7L730.3 352.4Z"/><path d="M762.1 350.2L749.9 350.6M743.1 350.9L749.8 348.3L750 353Z"/><path d="M187.6 369.4L174.1 373.5M166.5 375.8L173.3 370.9L174.9 376.1Z"/><path d="M209.7 369.4L196.3 373.5M188.7 375.8L195.5 370.9L197 376.1Z"/><path d="M231.9 369.4L218.4 373.5M210.8 375.8L217.6 370.9L219.2 376.1Z"/><path d="M252.6 369.8L240.9 373.4M234.4 375.4L240.2 371.2L241.6 375.6Z"/><path d="M274.7 369.8L263.1 373.4M256.5 375.4L262.4 371.2L263.7 375.6Z"/><path d="M296.8 369.8L285.2 373.4M278.7 375.4L284.5 371.2L285.9 375.6Z"/><path d="M322.2 368.9L306.4 373.7M297.6 376.4L305.5 370.7L307.4 376.7Z"/><path d="M345.8 368.4L327.4 374M318.3 376.8L326.4 371L328.3 377.1Z"/><path d="M368.3 370.1L349.3 373.5M340 375.2L348.8 370.3L349.9 376.7Z"/><path d="M390.4 370.1L371.5 373.5M362.1 375.2L370.9 370.3L372.1 376.7Z"/><path d="M413.9 372.1L392.4 372.8M382.9 373.2L392.3 369.6L392.5 376.1Z"/><path d="M436 372.1L414.6 372.8M405.1 373.2L414.4 369.6L414.7 376.1Z"/><path d="M458.2 372.1L436.7 372.8M427.2 373.2L436.6 369.6L436.8 376.1Z"/><path d="M480.3 372.1L458.8 372.8M449.3 373.2L458.7 369.6L458.9 376.1Z"/><path d="M502.4 372.1L481 372.8M471.5 373.2L480.8 369.6L481.1 376.1Z"/><path d="M524.6 372.1L503.1 372.8M493.6 373.2L503 369.6L503.2 376.1Z"/><path d="M545.6 372.1L526.4 372.8M516.9 373.1L526.2 369.6L526.5 376Z"/><path d="M567.7 372.1L548.5 372.8M539 373.1L548.4 369.6L548.6 376Z"/><path d="M588.4 372.2L571.9 372.7M562.6 373.1L571.8 369.6L572 375.9Z"/><path d="M608.6 372.2L594.6 372.7M586.6 373L594.5 370L594.6 375.4Z"/><path d="M629.3 372.3L617.1 372.7M610.3 373L617 370.4L617.2 375Z"/><path d="M649.2 371.1L639.8 373.1M634.6 374.2L639.5 371.3L640.2 374.9Z"/><path d="M671.4 371.1L662 373.1M656.7 374.2L661.6 371.3L662.4 374.9Z"/><path d="M693.5 371.1L684.1 373.1M678.8 374.2L683.7 371.3L684.5 374.9Z"/><path d="M715.6 371.1L706.3 373.1M701 374.2L705.9 371.3L706.6 374.9Z"/><path d="M734 369.1L729.5 373.6M726.9 376.2L728.6 372.7L730.3 374.5Z"/><path d="M756.1 369.1L751.6 373.6M749 376.2L750.7 372.7L752.5 374.5Z"/><path d="M187.4 390.8L174.2 395.8M166.8 398.6L173.2 393.3L175.1 398.3Z"/><path d="M209.5 390.8L196.3 395.8M188.9 398.6L195.4 393.3L197.3 398.3Z"/><path d="M231.6 390.8L218.5 395.8M211 398.6L217.5 393.3L219.4 398.3Z"/><path d="M252.4 391.4L241 395.6M234.6 398L240.2 393.5L241.8 397.8Z"/><path d="M274.5 391.4L263.1 395.6M256.7 398L262.3 393.5L263.9 397.8Z"/><path d="M296.6 391.4L285.3 395.6M278.8 398L284.4 393.5L286.1 397.8Z"/><path d="M320.9 390.6L306.8 395.9M298.9 398.8L305.8 393.2L307.8 398.5Z"/><path d="M344.1 390.2L328.6 396M320 399.2L327.5 393L329.7 398.9Z"/><path d="M367.5 391.8L350.1 395.6M340.8 397.6L349.4 392.4L350.8 398.7Z"/><path d="M390.3 391.6L371.5 395.7M362.2 397.8L370.8 392.6L372.2 398.9Z"/><path d="M413.9 394.2L392.4 394.9M382.9 395.2L392.3 391.7L392.5 398.1Z"/><path d="M437 394.1L413.6 394.9M404.1 395.3L413.4 391.7L413.7 398.2Z"/><path d="M459.2 394.1L435.7 394.9M426.2 395.3L435.6 391.7L435.8 398.2Z"/><path d="M480.3 394.2L458.8 394.9M449.3 395.2L458.7 391.7L458.9 398.1Z"/><path d="M503.4 394.1L480 394.9M470.5 395.3L479.8 391.7L480.1 398.2Z"/><path d="M525.6 394.1L502.1 394.9M492.6 395.3L502 391.7L502.2 398.2Z"/><path d="M547.7 394.1L524.2 394.9M514.7 395.3L524.1 391.7L524.3 398.2Z"/><path d="M568.9 394.2L547.4 394.9M537.9 395.2L547.3 391.7L547.5 398.1Z"/><path d="M589.9 394.2L570.6 394.9M561.1 395.2L570.5 391.6L570.7 398.1Z"/><path d="M609.4 394.3L594.3 394.8M585.9 395.1L594.2 391.9L594.4 397.7Z"/><path d="M629.3 394.4L617.1 394.8M610.3 395L617 392.5L617.2 397.1Z"/><path d="M651.4 394.4L639.2 394.8M632.4 395L639.2 392.5L639.3 397.1Z"/><path d="M671.4 393.1L662 395.1M656.7 396.3L661.6 393.3L662.4 396.9Z"/><path d="M693.5 393.1L684.1 395.1M678.8 396.3L683.7 393.3L684.5 396.9Z"/><path d="M715.6 393.1L706.3 395.1M701 396.3L705.9 393.3L706.6 396.9Z"/><path d="M734 391.2L729.5 395.7M726.9 398.2L728.6 394.8L730.3 396.6Z"/><path d="M759.9 393.1L750.5 395.1M745.2 396.3L750.1 393.3L750.9 396.9Z"/><path d="M791.7 393.5L767.2 395.2M757.8 395.9L767 392L767.5 398.4Z"/><path d="M210.1 411.7L196.2 418.2M188.3 421.9L194.9 415.5L197.4 420.9Z"/><path d="M232.2 411.7L218.3 418.2M210.5 421.9L217.1 415.5L219.5 420.9Z"/><path d="M254.3 411.7L240.4 418.2M232.6 421.9L239.2 415.5L241.7 420.9Z"/><path d="M276.5 411.7L262.6 418.2M254.7 421.9L261.3 415.5L263.8 420.9Z"/><path d="M298.6 411.7L284.7 418.2M276.9 421.9L283.5 415.5L285.9 420.9Z"/><path d="M320.8 411.7L306.8 418.2M299 421.9L305.6 415.5L308.1 420.9Z"/><path d="M342.9 411.7L329 418.2M321.1 421.9L327.7 415.5L330.2 420.9Z"/><path d="M365 411.7L351.1 418.2M343.3 421.9L349.9 415.5L352.3 420.9Z"/><path d="M387.2 411.7L373.2 418.2M365.4 421.9L372 415.5L374.5 420.9Z"/><path d="M410 413.7L395.2 417.6M386.8 419.9L394.4 414.8L395.9 420.5Z"/><path d="M433 413.4L417.1 417.7M408.1 420.1L416.3 414.7L417.9 420.8Z"/><path d="M456.1 414.6L438.6 417.4M429.2 418.9L438.1 414.2L439.1 420.6Z"/><path d="M479 414.5L460 417.5M450.6 419L459.5 414.4L460.5 420.7Z"/><path d="M501.9 414.4L481.4 417.7M472 419.1L480.9 414.5L481.9 420.9Z"/><path d="M524.8 414.3L502.8 417.8M493.4 419.3L502.3 414.6L503.3 421Z"/><path d="M546.7 416.2L525.2 417M515.7 417.3L525.1 413.8L525.3 420.2Z"/><path d="M568.9 416.2L547.4 417M537.9 417.3L547.3 413.8L547.5 420.2Z"/><path d="M589.9 416.3L570.6 417M561.1 417.3L570.5 413.7L570.7 420.2Z"/><path d="M609.4 416.4L594.3 416.9M585.9 417.2L594.2 414L594.4 419.8Z"/><path d="M629.3 416.4L617.1 416.9M610.3 417.1L617 414.5L617.2 419.2Z"/><path d="M651.4 416.4L639.2 416.9M632.4 417.1L639.2 414.5L639.3 419.2Z"/><path d="M669.9 415.5L662.4 417.1M658.2 418L662.1 415.7L662.7 418.6Z"/><path d="M692 415.5L684.5 417.1M680.3 418L684.2 415.7L684.8 418.6Z"/><path d="M714.2 415.5L706.7 417.1M702.4 418L706.4 415.7L707 418.6Z"/><path d="M736.3 415.5L728.8 417.1M724.6 418L728.5 415.7L729.1 418.6Z"/><path d="M769.5 415.6L745.1 417.3M735.6 418L744.9 414.1L745.3 420.5Z"/><path d="M784.2 416.4L772.1 416.9M765.2 417.1L772 414.5L772.1 419.2Z"/><path d="M232.2 433.8L218.3 440.3M210.5 443.9L217.1 437.6L219.5 442.9Z"/><path d="M254.3 433.8L240.4 440.3M232.6 443.9L239.2 437.6L241.7 442.9Z"/><path d="M276.5 433.8L262.6 440.3M254.7 443.9L261.3 437.6L263.8 442.9Z"/><path d="M298.6 433.8L284.7 440.3M276.9 443.9L283.5 437.6L285.9 442.9Z"/><path d="M320.8 433.8L306.8 440.3M299 443.9L305.6 437.6L308.1 442.9Z"/><path d="M342.9 433.8L329 440.3M321.1 443.9L327.7 437.6L330.2 442.9Z"/><path d="M365 433.8L351.1 440.3M343.3 443.9L349.9 437.6L352.3 442.9Z"/><path d="M387.2 433.8L373.2 440.3M365.4 443.9L372 437.6L374.5 442.9Z"/><path d="M410 435.8L395.2 439.7M386.8 442L394.4 436.9L395.9 442.6Z"/><path d="M433 435.5L417.1 439.8M408.1 442.2L416.3 436.7L417.9 442.8Z"/><path d="M456.1 436.7L438.6 439.5M429.2 441L438.1 436.3L439.1 442.7Z"/><path d="M479 436.6L460 439.6M450.6 441.1L459.5 436.4L460.5 442.8Z"/><path d="M501.9 436.5L481.4 439.7M472 441.2L480.9 436.5L481.9 442.9Z"/><path d="M524.8 436.4L502.8 439.9M493.4 441.3L502.3 436.7L503.3 443Z"/><path d="M547.7 438.3L524.2 439.1M514.7 439.4L524.1 435.9L524.3 442.3Z"/><path d="M568.9 438.3L547.4 439.1M537.9 439.4L547.3 435.8L547.5 442.3Z"/><path d="M589.9 438.4L570.6 439M561.1 439.4L570.5 435.8L570.7 442.3Z"/><path d="M608.6 438.5L594.6 439M586.6 439.2L594.5 436.3L594.6 441.7Z"/><path d="M629.3 438.5L617.1 439M610.3 439.2L617 436.6L617.2 441.3Z"/><path d="M651.4 438.5L639.2 439M632.4 439.2L639.2 436.6L639.3 441.3Z"/><path d="M669.9 437.6L662.4 439.2M658.2 440.1L662.1 437.8L662.7 440.6Z"/><path d="M692 437.6L684.5 439.2M680.3 440.1L684.2 437.8L684.8 440.6Z"/><path d="M714.2 437.6L706.7 439.2M702.4 440.1L706.4 437.8L707 440.6Z"/><path d="M739.9 438.5L727.8 439M720.9 439.2L727.7 436.6L727.9 441.3Z"/><path d="M769.5 437.7L745.1 439.4M735.6 440L744.9 436.2L745.3 442.6Z"/><path d="M791.7 437.7L767.2 439.4M757.8 440L767 436.2L767.5 442.6Z"/><path d="M248.2 462.7L242.2 460.5M238.8 459.2L242.6 459.3L241.7 461.6Z"/><path d="M270.6 461.1L264.2 460.9M260.6 460.8L264.3 459.7L264.2 462.1Z"/><path d="M298.6 455.9L284.7 462.4M276.9 466L283.5 459.7L285.9 465Z"/><path d="M320.8 455.9L306.8 462.4M299 466L305.6 459.7L308.1 465Z"/><path d="M342.9 455.9L329 462.4M321.1 466L327.7 459.7L330.2 465Z"/><path d="M365 455.9L351.1 462.4M343.3 466L349.9 459.7L352.3 465Z"/><path d="M387.2 455.9L373.2 462.4M365.4 466L372 459.7L374.5 465Z"/><path d="M410.9 457.6L394.9 461.9M386 464.3L394.1 458.8L395.8 464.9Z"/><path d="M433.7 457.4L416.6 462M407.4 464.5L415.7 458.9L417.4 465.1Z"/><path d="M456.9 458.7L437.9 461.7M428.5 463.2L437.4 458.5L438.4 464.9Z"/><path d="M479 458.7L460 461.7M450.6 463.2L459.5 458.5L460.5 464.9Z"/><path d="M501.9 458.6L481.4 461.8M472 463.3L480.9 458.6L481.9 465Z"/><path d="M524.8 458.5L502.8 461.9M493.4 463.4L502.3 458.7L503.3 465.1Z"/><path d="M547.7 460.4L524.2 461.2M514.7 461.5L524.1 458L524.3 464.4Z"/><path d="M568.9 460.4L547.4 461.1M537.9 461.5L547.3 457.9L547.5 464.4Z"/><path d="M589.9 460.4L570.6 461.1M561.1 461.4L570.5 457.9L570.7 464.3Z"/><path d="M609.4 460.5L594.3 461.1M585.9 461.4L594.2 458.2L594.4 463.9Z"/><path d="M630.8 460.6L616.7 461M608.8 461.3L616.6 458.4L616.8 463.7Z"/><path d="M651.4 460.6L639.2 461M632.4 461.3L639.2 458.7L639.3 463.4Z"/><path d="M673.5 460.6L661.4 461M654.5 461.3L661.3 458.7L661.5 463.4Z"/><path d="M695.7 460.6L683.5 461M676.7 461.3L683.4 458.7L683.6 463.4Z"/><path d="M716.3 460.7L706.1 461M700.3 461.2L706 459.1L706.1 463Z"/><path d="M747.4 459.8L723 461.5M713.5 462.1L722.7 458.2L723.2 464.7Z"/><path d="M769.5 459.8L745.1 461.5M735.6 462.1L744.9 458.2L745.3 464.7Z"/><path d="M248.2 484.7L242.2 482.5M238.8 481.3L242.6 481.4L241.7 483.7Z"/><path d="M270.6 483.2L264.2 483M260.6 482.8L264.3 481.7L264.2 484.2Z"/><path d="M298.6 477.9L284.7 484.4M276.9 488.1L283.5 481.8L285.9 487.1Z"/><path d="M320.8 477.9L306.8 484.4M299 488.1L305.6 481.8L308.1 487.1Z"/><path d="M342.9 477.9L329 484.4M321.1 488.1L327.7 481.8L330.2 487.1Z"/><path d="M365 477.9L351.1 484.4M343.3 488.1L349.9 481.8L352.3 487.1Z"/><path d="M387.3 477.9L373.2 484.5M365.3 488.1L372 481.8L374.5 487.1Z"/><path d="M410.9 479.7L394.9 484M386 486.4L394.1 480.9L395.8 487Z"/><path d="M433.7 479.5L416.6 484.1M407.4 486.5L415.7 481L417.4 487.2Z"/><path d="M456.9 480.8L437.9 483.8M428.5 485.3L437.4 480.6L438.4 487Z"/><path d="M479.8 480.7L459.3 483.9M449.9 485.4L458.8 480.7L459.8 487.1Z"/><path d="M502.6 480.5L480.7 484M471.3 485.5L480.2 480.8L481.2 487.2Z"/><path d="M524.4 480.6L503.2 484M493.8 485.4L502.7 480.8L503.7 487.1Z"/><path d="M545.6 482.5L526.4 483.2M516.9 483.5L526.2 480L526.5 486.4Z"/><path d="M567.7 482.5L548.5 483.2M539 483.5L548.4 480L548.6 486.4Z"/><path d="M589.1 482.5L571.4 483.2M561.9 483.5L571.3 479.9L571.5 486.4Z"/><path d="M610.5 482.6L594 483.1M584.8 483.5L593.9 480L594.1 486.3Z"/><path d="M632.6 482.6L616.2 483.1M606.9 483.5L616.1 480L616.3 486.3Z"/><path d="M654.8 482.6L638.3 483.1M629 483.5L638.2 480L638.4 486.3Z"/><path d="M675.8 482.6L660.7 483.1M652.3 483.4L660.6 480.3L660.8 486Z"/><path d="M697.9 482.6L682.9 483.1M674.4 483.4L682.8 480.3L683 486Z"/><path d="M719.3 482.6L705.2 483.1M697.3 483.4L705.1 480.4L705.3 485.8Z"/><path d="M745.9 482.5L724.4 483.2M715 483.6L724.3 480L724.6 486.5Z"/><path d="M769.5 481.8L745.1 483.5M735.6 484.2L744.9 480.3L745.3 486.8Z"/><path d="M791.7 481.8L767.2 483.5M757.8 484.2L767 480.3L767.5 486.8Z"/><path d="M316.5 502.7L308 505.8M303.3 507.5L307.4 504.2L308.6 507.4Z"/><path d="M338.6 502.7L330.2 505.8M325.4 507.5L329.6 504.2L330.8 507.4Z"/><path d="M360.7 502.7L352.3 505.8M347.6 507.5L351.7 504.2L352.9 507.4Z"/><path d="M386.6 501.3L373.4 506.2M365.9 508.9L372.5 503.6L374.3 508.7Z"/><path d="M408.8 501.3L395.5 506.2M388.1 508.9L394.6 503.6L396.4 508.7Z"/><path d="M430.9 501.3L417.7 506.2M410.2 508.9L416.7 503.6L418.6 508.7Z"/><path d="M453 501.3L439.8 506.2M432.4 508.9L438.9 503.6L440.7 508.7Z"/><path d="M475.2 501.3L461.9 506.2M454.5 508.9L461 503.6L462.8 508.7Z"/><path d="M499.1 504.7L483.6 505.2M474.8 505.5L483.5 502.3L483.7 508.2Z"/><path d="M520.5 504.7L505.9 505.2M497.7 505.5L505.8 502.4L506 508Z"/><path d="M540.7 504.8L528.6 505.2M521.7 505.4L528.5 502.9L528.7 507.5Z"/><path d="M564.7 504.7L550.2 505.2M542 505.5L550.1 502.4L550.3 508Z"/><path d="M586.9 504.7L572.3 505.2M564.1 505.5L572.2 502.4L572.4 508Z"/><path d="M609.8 504.7L594.2 505.2M585.5 505.5L594.1 502.3L594.3 508.2Z"/><path d="M631.9 504.7L616.4 505.2M607.6 505.5L616.3 502.3L616.5 508.2Z"/><path d="M656.3 504.6L637 505.3M627.5 505.6L636.9 502L637.1 508.5Z"/><path d="M679.2 504.6L658.4 505.3M648.9 505.6L658.3 502.1L658.5 508.5Z"/><path d="M702.7 504.5L679.2 505.3M669.7 505.7L679.1 502.1L679.3 508.6Z"/><path d="M724.2 504.5L701.9 505.3M692.4 505.7L701.8 502.1L702 508.6Z"/><path d="M747.4 503.9L723 505.6M713.5 506.3L722.7 502.4L723.2 508.8Z"/><path d="M769.5 503.9L745.1 505.6M735.6 506.3L744.9 502.4L745.3 508.8Z"/><path d="M319.9 516L306.2 531.3M299.8 538.3L303.8 529.1L308.6 533.4Z"/><path d="M338.6 524.8L330.2 527.9M325.4 529.6L329.6 526.2L330.8 529.5Z"/><path d="M360.7 524.8L352.3 527.9M347.6 529.6L351.7 526.2L352.9 529.5Z"/><path d="M386.6 523.4L373.4 528.2M365.9 530.9L372.5 525.7L374.3 530.8Z"/><path d="M408.8 523.4L395.5 528.2M388.1 530.9L394.6 525.7L396.4 530.8Z"/><path d="M430.9 523.4L417.7 528.2M410.2 530.9L416.7 525.7L418.6 530.8Z"/><path d="M453 523.4L439.8 528.2M432.4 530.9L438.9 525.7L440.7 530.8Z"/><path d="M475.2 523.4L461.9 528.2M454.5 530.9L461 525.7L462.8 530.8Z"/><path d="M498.3 526.8L483.8 527.3M475.6 527.6L483.7 524.5L483.9 530.1Z"/><path d="M518.6 526.8L506.4 527.3M499.6 527.5L506.4 524.9L506.5 529.6Z"/><path d="M540.7 526.8L528.6 527.3M521.7 527.5L528.5 524.9L528.7 529.6Z"/><path d="M564.7 526.8L550.2 527.3M542 527.6L550.1 524.5L550.3 530.1Z"/><path d="M586.9 526.8L572.3 527.3M564.1 527.6L572.2 524.5L572.4 530.1Z"/><path d="M610.5 526.7L594 527.3M584.8 527.6L593.9 524.2L594.1 530.5Z"/><path d="M634.1 526.7L614.9 527.4M605.4 527.7L614.8 524.1L615 530.6Z"/><path d="M657.8 526.6L635.5 527.4M626 527.7L635.4 524.2L635.6 530.6Z"/><path d="M680.5 526.6L657 527.4M647.5 527.8L656.9 524.2L657.2 530.7Z"/><path d="M702.7 526.6L679.2 527.4M669.7 527.8L679.1 524.2L679.3 530.7Z"/><path d="M724.8 526.6L701.3 527.4M691.8 527.8L701.2 524.2L701.4 530.7Z"/><path d="M747.4 526L723 527.7M713.5 528.4L722.7 524.5L723.2 530.9Z"/><path d="M769.5 526L745.1 527.7M735.6 528.4L744.9 524.5L745.3 530.9Z"/><path d="M313.8 551.5L308.8 548.6M306 547L309.5 547.3L308 549.9Z" fill="#111"/><path d="M341.2 537.4L328.6 553.6M322.8 561.1L326.1 551.6L331.2 555.6Z"/><path d="M360.7 546.9L352.3 549.9M347.6 551.7L351.7 548.3L352.9 551.5Z"/><path d="M382.9 546.9L374.4 549.9M369.7 551.7L373.9 548.3L375 551.5Z"/><path d="M408.8 545.5L395.5 550.3M388.1 553L394.6 547.8L396.4 552.8Z"/><path d="M430.9 545.5L417.7 550.3M410.2 553L416.7 547.8L418.6 552.8Z"/><path d="M453 545.5L439.8 550.3M432.4 553L438.9 547.8L440.7 552.8Z"/><path d="M475.2 545.5L461.9 550.3M454.5 553L461 547.8L462.8 552.8Z"/><path d="M498.3 548.9L483.8 549.4M475.6 549.7L483.7 546.6L483.9 552.2Z"/><path d="M518.6 548.9L506.4 549.4M499.6 549.6L506.4 547L506.5 551.7Z"/><path d="M540.7 548.9L528.6 549.4M521.7 549.6L528.5 547L528.7 551.7Z"/><path d="M562.9 548.9L550.7 549.4M543.9 549.6L550.6 547L550.8 551.7Z"/><path d="M586.9 548.9L572.3 549.4M564.1 549.7L572.2 546.6L572.4 552.2Z"/><path d="M612 548.8L592.8 549.4M583.3 549.8L592.6 546.2L592.9 552.7Z"/><path d="M634.9 548.7L614.1 549.5M604.7 549.8L614 546.2L614.3 552.7Z"/><path d="M657.4 548.7L635.9 549.5M626.4 549.8L635.8 546.2L636 552.7Z"/><path d="M679.5 548.7L658 549.5M648.5 549.8L657.9 546.2L658.2 552.7Z"/><path d="M702.7 548.7L679.2 549.5M669.7 549.8L679.1 546.3L679.3 552.7Z"/><path d="M724.8 548.7L701.3 549.5M691.8 549.8L701.2 546.3L701.4 552.7Z"/><path d="M747.4 548.1L723 549.8M713.5 550.4L722.7 546.6L723.2 553Z"/><path d="M769.5 548.1L745.1 549.8M735.6 550.4L744.9 546.6L745.3 553Z"/><path d="M335.9 573.6L330.9 570.7M328.1 569.1L331.6 569.4L330.1 572Z" fill="#111"/><path d="M358 573.6L353 570.7M350.3 569.1L353.8 569.4L352.3 572Z" fill="#111"/><path d="M383.3 571.1L374.3 571.4M369.3 571.6L374.3 569.7L374.4 573.1Z"/><path d="M405.4 571.1L396.5 571.4M391.4 571.6L396.4 569.7L396.5 573.1Z"/><path d="M427.5 571.1L418.6 571.4M413.6 571.6L418.5 569.7L418.7 573.1Z"/><path d="M449.7 571.1L440.7 571.4M435.7 571.6L440.7 569.7L440.8 573.1Z"/><path d="M471.8 571.1L462.9 571.4M457.8 571.6L462.8 569.7L462.9 573.1Z"/><path d="M496.5 571L484.3 571.4M477.5 571.7L484.2 569.1L484.4 573.8Z"/><path d="M518.6 571L506.4 571.4M499.6 571.7L506.4 569.1L506.5 573.8Z"/><path d="M540.7 571L528.6 571.4M521.7 571.7L528.5 569.1L528.7 573.8Z"/><path d="M562.9 571L550.7 571.4M543.9 571.7L550.6 569.1L550.8 573.8Z"/><path d="M586.5 571L572.4 571.4M564.5 571.7L572.3 568.8L572.5 574.1Z"/><path d="M610.5 570.9L594 571.5M584.8 571.8L593.9 568.3L594.1 574.6Z"/><path d="M634.1 570.8L614.9 571.5M605.4 571.8L614.8 568.3L615 574.7Z"/><path d="M658.4 570.8L634.9 571.6M625.4 571.9L634.8 568.4L635 574.8Z"/><path d="M680.5 570.8L657 571.6M647.5 571.9L656.9 568.4L657.2 574.8Z"/><path d="M702.7 570.8L679.2 571.6M669.7 571.9L679.1 568.4L679.3 574.8Z"/><path d="M724.8 570.8L701.3 571.6M691.8 571.9L701.2 568.4L701.4 574.8Z"/><path d="M747.4 570.2L723 571.9M713.5 572.5L722.7 568.6L723.2 575.1Z"/><path d="M769.5 570.2L745.1 571.9M735.6 572.5L744.9 568.6L745.3 575.1Z"/><path d="M380.2 595.7L375.2 592.8M372.4 591.2L375.9 591.5L374.4 594.1Z" fill="#111"/><path d="M402.3 595.7L397.3 592.8M394.5 591.2L398 591.5L396.5 594.1Z" fill="#111"/><path d="M428.9 596.8L418.2 592.5M412.2 590L419 590.4L417.4 594.5Z"/><path d="M451 596.8L440.4 592.5M434.3 590L441.2 590.4L439.5 594.5Z"/><path d="M473.2 596.8L462.5 592.5M456.5 590L463.3 590.4L461.7 594.5Z"/><path d="M495.3 596.8L484.6 592.5M478.6 590L485.4 590.4L483.8 594.5Z"/><path d="M517.4 596.8L506.8 592.5M500.7 590L507.6 590.4L505.9 594.5Z"/><path d="M539.6 596.8L528.9 592.5M522.9 590L529.7 590.4L528.1 594.5Z"/><path d="M561.7 596.8L551 592.5M545 590L551.9 590.4L550.2 594.5Z"/><path d="M585 593.1L572.8 593.5M566 593.8L572.8 591.2L572.9 595.8Z"/><path d="M607.1 593.1L595 593.5M588.1 593.8L594.9 591.2L595.1 595.8Z"/><path d="M629.3 593.1L617.1 593.5M610.3 593.8L617 591.2L617.2 595.8Z"/><path d="M651.4 593.1L639.2 593.5M632.4 593.8L639.2 591.2L639.3 595.8Z"/><path d="M673.5 593.1L661.4 593.5M654.5 593.8L661.3 591.2L661.5 595.8Z"/><path d="M700.5 592.9L681.3 593.6M671.8 593.9L681.2 590.4L681.4 596.8Z"/><path d="M723.8 592.9L702.3 593.6M692.8 594L702.2 590.4L702.4 596.9Z"/><path d="M746.9 592.8L723.4 593.7M714 594L723.3 590.4L723.6 596.9Z"/><path d="M769.1 592.8L745.6 593.7M736.1 594L745.5 590.4L745.7 596.9Z"/><path d="M429 620.8L418.2 614M412.1 610.2L419.5 611.9L416.9 616.1Z"/><path d="M451.2 620.8L440.3 614M434.2 610.2L441.6 611.9L439 616.1Z"/><path d="M473.3 620.8L462.4 614M456.3 610.2L463.7 611.9L461.2 616.1Z"/><path d="M495.4 620.8L484.6 614M478.5 610.2L485.9 611.9L483.3 616.1Z"/><path d="M517.6 620.8L506.7 614M500.6 610.2L508 611.9L505.4 616.1Z"/><path d="M539.7 620.8L528.9 614M522.7 610.2L530.2 611.9L527.6 616.1Z"/><path d="M561.8 620.8L551 614M544.9 610.2L552.3 611.9L549.7 616.1Z"/><path d="M584 620.8L573.1 614M567 610.2L574.4 611.9L571.8 616.1Z"/><path d="M607.1 615.2L595 615.6M588.1 615.8L594.9 613.3L595.1 617.9Z"/><path d="M629.3 615.2L617.1 615.6M610.3 615.8L617 613.3L617.2 617.9Z"/><path d="M651.4 615.2L639.2 615.6M632.4 615.8L639.2 613.3L639.3 617.9Z"/><path d="M675 615.1L661 615.6M653 615.9L660.9 612.9L661.1 618.3Z"/><path d="M700.5 615L681.3 615.7M671.8 616L681.2 612.4L681.4 618.9Z"/><path d="M724.8 614.9L701.3 615.7M691.8 616.1L701.2 612.5L701.4 619Z"/><path d="M746.9 614.9L723.4 615.7M714 616.1L723.3 612.5L723.6 619Z"/><path d="M451.2 642.9L440.3 636.1M434.2 632.3L441.6 634L439 638.2Z"/><path d="M473.3 642.9L462.4 636.1M456.3 632.3L463.7 634L461.2 638.2Z"/><path d="M495.4 642.9L484.6 636.1M478.5 632.3L485.9 634L483.3 638.2Z"/><path d="M517.6 642.9L506.7 636.1M500.6 632.3L508 634L505.4 638.2Z"/><path d="M539.7 642.9L528.9 636.1M522.7 632.3L530.2 634L527.6 638.2Z"/><path d="M561.8 642.9L551 636.1M544.9 632.3L552.3 634L549.7 638.2Z"/><path d="M584 642.9L573.1 636.1M567 632.3L574.4 634L571.8 638.2Z"/><path d="M605.6 637.3L595.4 637.7M589.6 637.9L595.3 635.7L595.5 639.6Z"/><path d="M629.3 637.2L617.1 637.7M610.3 637.9L617 635.3L617.2 640Z"/><path d="M651.4 637.2L639.2 637.7M632.4 637.9L639.2 635.3L639.3 640Z"/><path d="M675 637.2L661 637.7M653 638L660.9 635L661.1 640.4Z"/><path d="M700.5 637.1L681.3 637.8M671.8 638.1L681.2 634.5L681.4 641Z"/><path d="M724.8 637L701.3 637.8M691.8 638.2L701.2 634.6L701.4 641.1Z"/><path d="M746.9 637L723.4 637.8M714 638.2L723.3 634.6L723.6 641.1Z"/></g><g font-family="Liberation Sans" font-size="10" fill="#111"><text x="17" y="54" textLength="39" lengthAdjust="spacingAndGlyphs">42°01'N</text><text x="17" y="135.5" textLength="39" lengthAdjust="spacingAndGlyphs">42°00'N</text><text x="17" y="217.1" textLength="39" lengthAdjust="spacingAndGlyphs">41°59'N</text><text x="17" y="298.6" textLength="39" lengthAdjust="spacingAndGlyphs">41°58'N</text><text x="17" y="380.2" textLength="39" lengthAdjust="spacingAndGlyphs">41°57'N</text><text x="17" y="461.7" textLength="39" lengthAdjust="spacingAndGlyphs">41°56'N</text><text x="17" y="543.2" textLength="39" lengthAdjust="spacingAndGlyphs">41°55'N</text><text x="17" y="624.8" textLength="39" lengthAdjust="spacingAndGlyphs">41°54'N</text><text x="14.5" y="689.2">'E</text><text x="98.8" y="689.2" textLength="44" lengthAdjust="spacingAndGlyphs">140°56'E</text><text x="220.8" y="689.2" textLength="44" lengthAdjust="spacingAndGlyphs">140°58'E</text><text x="342.8" y="689.2" textLength="44" lengthAdjust="spacingAndGlyphs">141°00'E</text><text x="464.8" y="689.2" textLength="44" lengthAdjust="spacingAndGlyphs">141°02'E</text><text x="586.8" y="689.2" textLength="44" lengthAdjust="spacingAndGlyphs">141°04'E</text><text x="708.8" y="689.2" textLength="44" lengthAdjust="spacingAndGlyphs">141°06'E</text><text x="831.3" y="689.2" textLength="44" lengthAdjust="spacingAndGlyphs">141°08'E</text></g><rect x="204.2" y="431.3" width="6.5" height="8" fill="#0010ff" stroke="#111" stroke-width="0.8"/><text x="172.3" y="451.2" font-family="Liberation Sans" font-weight="bold" font-size="10.5" fill="#000" textLength="27.3" lengthAdjust="spacingAndGlyphs">A087</text><rect x="624.6" y="665.4" width="8.2" height="7.8" fill="#ff0a0a" stroke="#111" stroke-width="0.9"/><text x="593.2" y="678.7" font-family="Liberation Sans" font-weight="bold" font-size="10.5" fill="#000" textLength="27.5" lengthAdjust="spacingAndGlyphs">A088</text><text x="272.5" y="657" font-family="Liberation Serif" font-weight="bold" font-size="15" fill="#000" stroke="#000" stroke-width="0.7" textLength="268" lengthAdjust="spacingAndGlyphs">3:53:18 PM Friday, March 11, 2011JST 9.0</text><g font-family="Liberation Sans" font-size="10" fill="#111"><text x="774.6" y="602.3">0</text><text x="815" y="602.3" textLength="14" lengthAdjust="spacingAndGlyphs">Km</text><text x="859" y="602.3" textLength="14.7" lengthAdjust="spacingAndGlyphs">2.0</text></g><g stroke="#222" stroke-width="0.9"><rect x="775.7" y="605" width="17.7" height="4" fill="#ccc"/><rect x="793.4" y="605" width="17.7" height="4" fill="#fff"/><rect x="811.1" y="605" width="17.7" height="4" fill="#ccc"/><rect x="828.8" y="605" width="17.7" height="4" fill="#fff"/><rect x="846.5" y="605" width="17.7" height="4" fill="#ccc"/></g><g stroke="#111" stroke-width="1.1" fill="none"><path d="M796 650.5H826M826 646L842 650.5L826 655Z"/></g><text x="799.3" y="667.9" font-family="Liberation Sans" font-size="10" fill="#111" textLength="39" lengthAdjust="spacingAndGlyphs">40 cm/s</text><rect x="879.5" y="5.5" width="136.5" height="684.8" fill="#e3e3e3"/><path d="M879.5 5.5V690.3" stroke="#111" stroke-width="1.5"/><g font-family="Liberation Sans" font-size="28.5" fill="#000" text-anchor="end"><text x="965.5" y="40.8">Hgt</text><text x="965.5" y="66.5">cm</text></g><g shape-rendering="crispEdges"><rect x="966.7" y="96.6" width="27.3" height="1.3" fill="#a52617"/><rect x="966.7" y="97.6" width="27.3" height="1.3" fill="#a52617"/><rect x="966.7" y="98.6" width="27.3" height="1.3" fill="#a52717"/><rect x="966.7" y="99.6" width="27.3" height="1.3" fill="#a62717"/><rect x="966.7" y="100.6" width="27.3" height="1.3" fill="#a62717"/><rect x="966.7" y="101.6" width="27.3" height="1.3" fill="#a62717"/><rect x="966.7" y="102.6" width="27.3" height="1.3" fill="#a72717"/><rect x="966.7" y="103.6" width="27.3" height="1.3" fill="#a72817"/><rect x="966.7" y="104.6" width="27.3" height="1.3" fill="#a82817"/><rect x="966.7" y="105.6" width="27.3" height="1.3" fill="#a82817"/><rect x="966.7" y="106.6" width="27.3" height="1.3" fill="#a82817"/><rect x="966.7" y="107.6" width="27.3" height="1.3" fill="#a92817"/><rect x="966.7" y="108.6" width="27.3" height="1.3" fill="#a92817"/><rect x="966.7" y="109.6" width="27.3" height="1.3" fill="#a92918"/><rect x="966.7" y="110.6" width="27.3" height="1.3" fill="#aa2918"/><rect x="966.7" y="111.6" width="27.3" height="1.3" fill="#aa2918"/><rect x="966.7" y="112.6" width="27.3" height="1.3" fill="#aa2918"/><rect x="966.7" y="113.6" width="27.3" height="1.3" fill="#ab2918"/><rect x="966.7" y="114.6" width="27.3" height="1.3" fill="#ab2a18"/><rect x="966.7" y="115.6" width="27.3" height="1.3" fill="#ac2a18"/><rect x="966.7" y="116.6" width="27.3" height="1.3" fill="#ac2a18"/><rect x="966.7" y="117.6" width="27.3" height="1.3" fill="#bd2c1a"/><rect x="966.7" y="118.6" width="27.3" height="1.3" fill="#bd2c1a"/><rect x="966.7" y="119.6" width="27.3" height="1.3" fill="#be2c1a"/><rect x="966.7" y="120.6" width="27.3" height="1.3" fill="#bf2c1a"/><rect x="966.7" y="121.6" width="27.3" height="1.3" fill="#c02c1a"/><rect x="966.7" y="122.6" width="27.3" height="1.3" fill="#c12c1a"/><rect x="966.7" y="123.6" width="27.3" height="1.3" fill="#c22c1a"/><rect x="966.7" y="124.6" width="27.3" height="1.3" fill="#c32c1a"/><rect x="966.7" y="125.6" width="27.3" height="1.3" fill="#c32c1a"/><rect x="966.7" y="126.6" width="27.3" height="1.3" fill="#c42c1a"/><rect x="966.7" y="127.6" width="27.3" height="1.3" fill="#c52c1a"/><rect x="966.7" y="128.6" width="27.3" height="1.3" fill="#c62c1a"/><rect x="966.7" y="129.6" width="27.3" height="1.3" fill="#c72c1a"/><rect x="966.7" y="130.6" width="27.3" height="1.3" fill="#c82c1a"/><rect x="966.7" y="131.6" width="27.3" height="1.3" fill="#c92c1a"/><rect x="966.7" y="132.6" width="27.3" height="1.3" fill="#c92c1a"/><rect x="966.7" y="133.6" width="27.3" height="1.3" fill="#ca2c1a"/><rect x="966.7" y="134.6" width="27.3" height="1.3" fill="#cb2c1a"/><rect x="966.7" y="135.6" width="27.3" height="1.3" fill="#cc2c1a"/><rect x="966.7" y="136.6" width="27.3" height="1.3" fill="#cd2c1a"/><rect x="966.7" y="137.6" width="27.3" height="1.3" fill="#ce2c1a"/><rect x="966.7" y="138.6" width="27.3" height="1.3" fill="#ce2c1a"/><rect x="966.7" y="139.6" width="27.3" height="1.3" fill="#cf2c1a"/><rect x="966.7" y="140.6" width="27.3" height="1.3" fill="#d02c1a"/><rect x="966.7" y="141.6" width="27.3" height="1.3" fill="#d12c1a"/><rect x="966.7" y="142.6" width="27.3" height="1.3" fill="#d22c1a"/><rect x="966.7" y="143.6" width="27.3" height="1.3" fill="#d32c1a"/><rect x="966.7" y="144.6" width="27.3" height="1.3" fill="#d42c1a"/><rect x="966.7" y="145.6" width="27.3" height="1.3" fill="#d42c1a"/><rect x="966.7" y="146.6" width="27.3" height="1.3" fill="#d52c1a"/><rect x="966.7" y="147.6" width="27.3" height="1.3" fill="#d62c1a"/><rect x="966.7" y="148.6" width="27.3" height="1.3" fill="#d72c1a"/><rect x="966.7" y="149.6" width="27.3" height="1.3" fill="#d82c1a"/><rect x="966.7" y="150.6" width="27.3" height="1.3" fill="#f0381a"/><rect x="966.7" y="151.6" width="27.3" height="1.3" fill="#f1381a"/><rect x="966.7" y="152.6" width="27.3" height="1.3" fill="#f13819"/><rect x="966.7" y="153.6" width="27.3" height="1.3" fill="#f23819"/><rect x="966.7" y="154.6" width="27.3" height="1.3" fill="#f23719"/><rect x="966.7" y="155.6" width="27.3" height="1.3" fill="#f33719"/><rect x="966.7" y="156.6" width="27.3" height="1.3" fill="#f33719"/><rect x="966.7" y="157.6" width="27.3" height="1.3" fill="#f43719"/><rect x="966.7" y="158.6" width="27.3" height="1.3" fill="#f43718"/><rect x="966.7" y="159.6" width="27.3" height="1.3" fill="#f43718"/><rect x="966.7" y="160.6" width="27.3" height="1.3" fill="#f53718"/><rect x="966.7" y="161.6" width="27.3" height="1.3" fill="#f53718"/><rect x="966.7" y="162.6" width="27.3" height="1.3" fill="#f63618"/><rect x="966.7" y="163.6" width="27.3" height="1.3" fill="#f63617"/><rect x="966.7" y="164.6" width="27.3" height="1.3" fill="#f73617"/><rect x="966.7" y="165.6" width="27.3" height="1.3" fill="#f73617"/><rect x="966.7" y="166.6" width="27.3" height="1.3" fill="#f83617"/><rect x="966.7" y="167.6" width="27.3" height="1.3" fill="#f83617"/><rect x="966.7" y="168.6" width="27.3" height="1.3" fill="#f93617"/><rect x="966.7" y="169.6" width="27.3" height="1.3" fill="#f93616"/><rect x="966.7" y="170.6" width="27.3" height="1.3" fill="#f93516"/><rect x="966.7" y="171.6" width="27.3" height="1.3" fill="#fa3516"/><rect x="966.7" y="172.6" width="27.3" height="1.3" fill="#fa3516"/><rect x="966.7" y="173.6" width="27.3" height="1.3" fill="#fb3516"/><rect x="966.7" y="174.6" width="27.3" height="1.3" fill="#fb3515"/><rect x="966.7" y="175.6" width="27.3" height="1.3" fill="#fc3515"/><rect x="966.7" y="176.6" width="27.3" height="1.3" fill="#fc3515"/><rect x="966.7" y="177.6" width="27.3" height="1.3" fill="#fd3515"/><rect x="966.7" y="178.6" width="27.3" height="1.3" fill="#fd3515"/><rect x="966.7" y="179.6" width="27.3" height="1.3" fill="#fe3415"/><rect x="966.7" y="180.6" width="27.3" height="1.3" fill="#fe3414"/><rect x="966.7" y="181.6" width="27.3" height="1.3" fill="#fe3414"/><rect x="966.7" y="182.6" width="27.3" height="1.3" fill="#ff3414"/><rect x="966.7" y="183.6" width="27.3" height="1.3" fill="#ff4d18"/><rect x="966.7" y="184.6" width="27.3" height="1.3" fill="#ff4e18"/><rect x="966.7" y="185.6" width="27.3" height="1.3" fill="#ff4f18"/><rect x="966.7" y="186.6" width="27.3" height="1.3" fill="#ff5018"/><rect x="966.7" y="187.6" width="27.3" height="1.3" fill="#ff5018"/><rect x="966.7" y="188.6" width="27.3" height="1.3" fill="#ff5118"/><rect x="966.7" y="189.6" width="27.3" height="1.3" fill="#ff5218"/><rect x="966.7" y="190.6" width="27.3" height="1.3" fill="#ff5318"/><rect x="966.7" y="191.6" width="27.3" height="1.3" fill="#ff5418"/><rect x="966.7" y="192.6" width="27.3" height="1.3" fill="#ff5518"/><rect x="966.7" y="193.6" width="27.3" height="1.3" fill="#ff5618"/><rect x="966.7" y="194.6" width="27.3" height="1.3" fill="#ff5718"/><rect x="966.7" y="195.6" width="27.3" height="1.3" fill="#ff5818"/><rect x="966.7" y="196.6" width="27.3" height="1.3" fill="#ff5918"/><rect x="966.7" y="197.6" width="27.3" height="1.3" fill="#ff5a18"/><rect x="966.7" y="198.6" width="27.3" height="1.3" fill="#ff5a18"/><rect x="966.7" y="199.6" width="27.3" height="1.3" fill="#ff5b18"/><rect x="966.7" y="200.6" width="27.3" height="1.3" fill="#ff5c18"/><rect x="966.7" y="201.6" width="27.3" height="1.3" fill="#ff5d18"/><rect x="966.7" y="202.6" width="27.3" height="1.3" fill="#ff5e18"/><rect x="966.7" y="203.6" width="27.3" height="1.3" fill="#ff5f18"/><rect x="966.7" y="204.6" width="27.3" height="1.3" fill="#ff6018"/><rect x="966.7" y="205.6" width="27.3" height="1.3" fill="#ff6118"/><rect x="966.7" y="206.6" width="27.3" height="1.3" fill="#ff6218"/><rect x="966.7" y="207.6" width="27.3" height="1.3" fill="#ff6318"/><rect x="966.7" y="208.6" width="27.3" height="1.3" fill="#ff6418"/><rect x="966.7" y="209.6" width="27.3" height="1.3" fill="#ff6418"/><rect x="966.7" y="210.6" width="27.3" height="1.3" fill="#ff6518"/><rect x="966.7" y="211.6" width="27.3" height="1.3" fill="#ff6618"/><rect x="966.7" y="212.6" width="27.3" height="1.3" fill="#ff6718"/><rect x="966.7" y="213.6" width="27.3" height="1.3" fill="#ff6818"/><rect x="966.7" y="214.6" width="27.3" height="1.3" fill="#ff6918"/><rect x="966.7" y="215.6" width="27.3" height="1.3" fill="#ff6a18"/><rect x="966.7" y="216.6" width="27.3" height="1.3" fill="#ff7d14"/><rect x="966.7" y="217.6" width="27.3" height="1.3" fill="#ff7e14"/><rect x="966.7" y="218.6" width="27.3" height="1.3" fill="#ff7f14"/><rect x="966.7" y="219.6" width="27.3" height="1.3" fill="#ff8014"/><rect x="966.7" y="220.6" width="27.3" height="1.3" fill="#ff8115"/><rect x="966.7" y="221.6" width="27.3" height="1.3" fill="#ff8215"/><rect x="966.7" y="222.6" width="27.3" height="1.3" fill="#ff8415"/><rect x="966.7" y="223.6" width="27.3" height="1.3" fill="#ff8515"/><rect x="966.7" y="224.6" width="27.3" height="1.3" fill="#ff8615"/><rect x="966.7" y="225.6" width="27.3" height="1.3" fill="#ff8715"/><rect x="966.7" y="226.6" width="27.3" height="1.3" fill="#ff8815"/><rect x="966.7" y="227.6" width="27.3" height="1.3" fill="#ff8915"/><rect x="966.7" y="228.6" width="27.3" height="1.3" fill="#ff8a16"/><rect x="966.7" y="229.6" width="27.3" height="1.3" fill="#ff8b16"/><rect x="966.7" y="230.6" width="27.3" height="1.3" fill="#ff8c16"/><rect x="966.7" y="231.6" width="27.3" height="1.3" fill="#ff8d16"/><rect x="966.7" y="232.6" width="27.3" height="1.3" fill="#ff8f16"/><rect x="966.7" y="233.6" width="27.3" height="1.3" fill="#ff9016"/><rect x="966.7" y="234.6" width="27.3" height="1.3" fill="#ff9116"/><rect x="966.7" y="235.6" width="27.3" height="1.3" fill="#ff9216"/><rect x="966.7" y="236.6" width="27.3" height="1.3" fill="#ff9317"/><rect x="966.7" y="237.6" width="27.3" height="1.3" fill="#ff9417"/><rect x="966.7" y="238.6" width="27.3" height="1.3" fill="#ff9517"/><rect x="966.7" y="239.6" width="27.3" height="1.3" fill="#ff9617"/><rect x="966.7" y="240.6" width="27.3" height="1.3" fill="#ff9717"/><rect x="966.7" y="241.6" width="27.3" height="1.3" fill="#ff9817"/><rect x="966.7" y="242.6" width="27.3" height="1.3" fill="#ff9917"/><rect x="966.7" y="243.6" width="27.3" height="1.3" fill="#ff9b17"/><rect x="966.7" y="244.6" width="27.3" height="1.3" fill="#ff9c18"/><rect x="966.7" y="245.6" width="27.3" height="1.3" fill="#ff9d18"/><rect x="966.7" y="246.6" width="27.3" height="1.3" fill="#ff9e18"/><rect x="966.7" y="247.6" width="27.3" height="1.3" fill="#ff9f18"/><rect x="966.7" y="248.6" width="27.3" height="1.3" fill="#ffa018"/><rect x="966.7" y="249.6" width="27.3" height="1.3" fill="#ffad18"/><rect x="966.7" y="250.6" width="27.3" height="1.3" fill="#ffae18"/><rect x="966.7" y="251.6" width="27.3" height="1.3" fill="#ffaf18"/><rect x="966.7" y="252.6" width="27.3" height="1.3" fill="#ffb018"/><rect x="966.7" y="253.6" width="27.3" height="1.3" fill="#ffb118"/><rect x="966.7" y="254.6" width="27.3" height="1.3" fill="#ffb318"/><rect x="966.7" y="255.6" width="27.3" height="1.3" fill="#ffb418"/><rect x="966.7" y="256.6" width="27.3" height="1.3" fill="#ffb518"/><rect x="966.7" y="257.6" width="27.3" height="1.3" fill="#ffb618"/><rect x="966.7" y="258.6" width="27.3" height="1.3" fill="#ffb718"/><rect x="966.7" y="259.6" width="27.3" height="1.3" fill="#ffb818"/><rect x="966.7" y="260.6" width="27.3" height="1.3" fill="#ffb918"/><rect x="966.7" y="261.6" width="27.3" height="1.3" fill="#ffba18"/><rect x="966.7" y="262.6" width="27.3" height="1.3" fill="#ffbb18"/><rect x="966.7" y="263.6" width="27.3" height="1.3" fill="#ffbc18"/><rect x="966.7" y="264.6" width="27.3" height="1.3" fill="#ffbd18"/><rect x="966.7" y="265.6" width="27.3" height="1.3" fill="#ffbf18"/><rect x="966.7" y="266.6" width="27.3" height="1.3" fill="#ffc018"/><rect x="966.7" y="267.6" width="27.3" height="1.3" fill="#ffc118"/><rect x="966.7" y="268.6" width="27.3" height="1.3" fill="#ffc218"/><rect x="966.7" y="269.6" width="27.3" height="1.3" fill="#ffc318"/><rect x="966.7" y="270.6" width="27.3" height="1.3" fill="#ffc418"/><rect x="966.7" y="271.6" width="27.3" height="1.3" fill="#ffc518"/><rect x="966.7" y="272.6" width="27.3" height="1.3" fill="#ffc618"/><rect x="966.7" y="273.6" width="27.3" height="1.3" fill="#ffc718"/><rect x="966.7" y="274.6" width="27.3" height="1.3" fill="#ffc818"/><rect x="966.7" y="275.6" width="27.3" height="1.3" fill="#ffca18"/><rect x="966.7" y="276.6" width="27.3" height="1.3" fill="#ffcb18"/><rect x="966.7" y="277.6" width="27.3" height="1.3" fill="#ffcc18"/><rect x="966.7" y="278.6" width="27.3" height="1.3" fill="#ffcd18"/><rect x="966.7" y="279.6" width="27.3" height="1.3" fill="#ffce18"/><rect x="966.7" y="280.6" width="27.3" height="1.3" fill="#ffcf18"/><rect x="966.7" y="281.6" width="27.3" height="1.3" fill="#ffe018"/><rect x="966.7" y="282.6" width="27.3" height="1.3" fill="#ffe118"/><rect x="966.7" y="283.6" width="27.3" height="1.3" fill="#ffe118"/><rect x="966.7" y="284.6" width="27.3" height="1.3" fill="#ffe218"/><rect x="966.7" y="285.6" width="27.3" height="1.3" fill="#ffe218"/><rect x="966.7" y="286.6" width="27.3" height="1.3" fill="#ffe319"/><rect x="966.7" y="287.6" width="27.3" height="1.3" fill="#ffe419"/><rect x="966.7" y="288.6" width="27.3" height="1.3" fill="#ffe419"/><rect x="966.7" y="289.6" width="27.3" height="1.3" fill="#ffe519"/><rect x="966.7" y="290.6" width="27.3" height="1.3" fill="#ffe619"/><rect x="966.7" y="291.6" width="27.3" height="1.3" fill="#ffe619"/><rect x="966.7" y="292.6" width="27.3" height="1.3" fill="#ffe719"/><rect x="966.7" y="293.6" width="27.3" height="1.3" fill="#ffe719"/><rect x="966.7" y="294.6" width="27.3" height="1.3" fill="#ffe81a"/><rect x="966.7" y="295.6" width="27.3" height="1.3" fill="#ffe91a"/><rect x="966.7" y="296.6" width="27.3" height="1.3" fill="#ffe91a"/><rect x="966.7" y="297.6" width="27.3" height="1.3" fill="#ffea1a"/><rect x="966.7" y="298.6" width="27.3" height="1.3" fill="#ffea1a"/><rect x="966.7" y="299.6" width="27.3" height="1.3" fill="#ffeb1a"/><rect x="966.7" y="300.6" width="27.3" height="1.3" fill="#ffec1a"/><rect x="966.7" y="301.6" width="27.3" height="1.3" fill="#ffec1a"/><rect x="966.7" y="302.6" width="27.3" height="1.3" fill="#ffed1b"/><rect x="966.7" y="303.6" width="27.3" height="1.3" fill="#ffed1b"/><rect x="966.7" y="304.6" width="27.3" height="1.3" fill="#ffee1b"/><rect x="966.7" y="305.6" width="27.3" height="1.3" fill="#ffef1b"/><rect x="966.7" y="306.6" width="27.3" height="1.3" fill="#ffef1b"/><rect x="966.7" y="307.6" width="27.3" height="1.3" fill="#fff01b"/><rect x="966.7" y="308.6" width="27.3" height="1.3" fill="#fff01b"/><rect x="966.7" y="309.6" width="27.3" height="1.3" fill="#fff11b"/><rect x="966.7" y="310.6" width="27.3" height="1.3" fill="#fff21c"/><rect x="966.7" y="311.6" width="27.3" height="1.3" fill="#fff21c"/><rect x="966.7" y="312.6" width="27.3" height="1.3" fill="#fff31c"/><rect x="966.7" y="313.6" width="27.3" height="1.3" fill="#fff31c"/><rect x="966.7" y="314.6" width="27.3" height="1.3" fill="#f4fc20"/><rect x="966.7" y="315.6" width="27.3" height="1.3" fill="#f3fc21"/><rect x="966.7" y="316.6" width="27.3" height="1.3" fill="#f2fc23"/><rect x="966.7" y="317.6" width="27.3" height="1.3" fill="#f1fc24"/><rect x="966.7" y="318.6" width="27.3" height="1.3" fill="#f0fb25"/><rect x="966.7" y="319.6" width="27.3" height="1.3" fill="#f0fb26"/><rect x="966.7" y="320.6" width="27.3" height="1.3" fill="#effb27"/><rect x="966.7" y="321.6" width="27.3" height="1.3" fill="#eefb29"/><rect x="966.7" y="322.6" width="27.3" height="1.3" fill="#edfb2a"/><rect x="966.7" y="323.6" width="27.3" height="1.3" fill="#ecfb2b"/><rect x="966.7" y="324.6" width="27.3" height="1.3" fill="#ebfb2c"/><rect x="966.7" y="325.6" width="27.3" height="1.3" fill="#ebfb2e"/><rect x="966.7" y="326.6" width="27.3" height="1.3" fill="#eafb2f"/><rect x="966.7" y="327.6" width="27.3" height="1.3" fill="#e9fa30"/><rect x="966.7" y="328.6" width="27.3" height="1.3" fill="#e8fa31"/><rect x="966.7" y="329.6" width="27.3" height="1.3" fill="#e7fa32"/><rect x="966.7" y="330.6" width="27.3" height="1.3" fill="#e6fa34"/><rect x="966.7" y="331.6" width="27.3" height="1.3" fill="#e5fa35"/><rect x="966.7" y="332.6" width="27.3" height="1.3" fill="#e5fa36"/><rect x="966.7" y="333.6" width="27.3" height="1.3" fill="#e4fa37"/><rect x="966.7" y="334.6" width="27.3" height="1.3" fill="#e3fa38"/><rect x="966.7" y="335.6" width="27.3" height="1.3" fill="#e2f93a"/><rect x="966.7" y="336.6" width="27.3" height="1.3" fill="#e1f93b"/><rect x="966.7" y="337.6" width="27.3" height="1.3" fill="#e0f93c"/><rect x="966.7" y="338.6" width="27.3" height="1.3" fill="#dff93d"/><rect x="966.7" y="339.6" width="27.3" height="1.3" fill="#dff93f"/><rect x="966.7" y="340.6" width="27.3" height="1.3" fill="#def940"/><rect x="966.7" y="341.6" width="27.3" height="1.3" fill="#ddf941"/><rect x="966.7" y="342.6" width="27.3" height="1.3" fill="#dcf942"/><rect x="966.7" y="343.6" width="27.3" height="1.3" fill="#dbf843"/><rect x="966.7" y="344.6" width="27.3" height="1.3" fill="#daf845"/><rect x="966.7" y="345.6" width="27.3" height="1.3" fill="#daf846"/><rect x="966.7" y="346.6" width="27.3" height="1.3" fill="#d9f847"/><rect x="966.7" y="347.6" width="27.3" height="1.3" fill="#c8f468"/><rect x="966.7" y="348.6" width="27.3" height="1.3" fill="#c7f469"/><rect x="966.7" y="349.6" width="27.3" height="1.3" fill="#c6f46a"/><rect x="966.7" y="350.6" width="27.3" height="1.3" fill="#c4f46b"/><rect x="966.7" y="351.6" width="27.3" height="1.3" fill="#c3f36c"/><rect x="966.7" y="352.6" width="27.3" height="1.3" fill="#c2f36d"/><rect x="966.7" y="353.6" width="27.3" height="1.3" fill="#c1f36e"/><rect x="966.7" y="354.6" width="27.3" height="1.3" fill="#c0f36f"/><rect x="966.7" y="355.6" width="27.3" height="1.3" fill="#bff370"/><rect x="966.7" y="356.6" width="27.3" height="1.3" fill="#bef371"/><rect x="966.7" y="357.6" width="27.3" height="1.3" fill="#bdf372"/><rect x="966.7" y="358.6" width="27.3" height="1.3" fill="#bcf373"/><rect x="966.7" y="359.6" width="27.3" height="1.3" fill="#bbf374"/><rect x="966.7" y="360.6" width="27.3" height="1.3" fill="#baf275"/><rect x="966.7" y="361.6" width="27.3" height="1.3" fill="#b8f276"/><rect x="966.7" y="362.6" width="27.3" height="1.3" fill="#b7f277"/><rect x="966.7" y="363.6" width="27.3" height="1.3" fill="#b6f278"/><rect x="966.7" y="364.6" width="27.3" height="1.3" fill="#b5f279"/><rect x="966.7" y="365.6" width="27.3" height="1.3" fill="#b4f27a"/><rect x="966.7" y="366.6" width="27.3" height="1.3" fill="#b3f27b"/><rect x="966.7" y="367.6" width="27.3" height="1.3" fill="#b2f27c"/><rect x="966.7" y="368.6" width="27.3" height="1.3" fill="#b1f17d"/><rect x="966.7" y="369.6" width="27.3" height="1.3" fill="#b0f17e"/><rect x="966.7" y="370.6" width="27.3" height="1.3" fill="#aff17f"/><rect x="966.7" y="371.6" width="27.3" height="1.3" fill="#aef180"/><rect x="966.7" y="372.6" width="27.3" height="1.3" fill="#acf181"/><rect x="966.7" y="373.6" width="27.3" height="1.3" fill="#abf181"/><rect x="966.7" y="374.6" width="27.3" height="1.3" fill="#aaf182"/><rect x="966.7" y="375.6" width="27.3" height="1.3" fill="#a9f183"/><rect x="966.7" y="376.6" width="27.3" height="1.3" fill="#a8f084"/><rect x="966.7" y="377.6" width="27.3" height="1.3" fill="#a7f085"/><rect x="966.7" y="378.6" width="27.3" height="1.3" fill="#a6f086"/><rect x="966.7" y="379.6" width="27.3" height="1.3" fill="#a5f087"/><rect x="966.7" y="380.6" width="27.3" height="1.3" fill="#98f0a0"/><rect x="966.7" y="381.6" width="27.3" height="1.3" fill="#97f0a1"/><rect x="966.7" y="382.6" width="27.3" height="1.3" fill="#96f0a2"/><rect x="966.7" y="383.6" width="27.3" height="1.3" fill="#95f0a2"/><rect x="966.7" y="384.6" width="27.3" height="1.3" fill="#94f0a3"/><rect x="966.7" y="385.6" width="27.3" height="1.3" fill="#93f0a4"/><rect x="966.7" y="386.6" width="27.3" height="1.3" fill="#92f0a5"/><rect x="966.7" y="387.6" width="27.3" height="1.3" fill="#91f0a5"/><rect x="966.7" y="388.6" width="27.3" height="1.3" fill="#90f0a6"/><rect x="966.7" y="389.6" width="27.3" height="1.3" fill="#8ff0a7"/><rect x="966.7" y="390.6" width="27.3" height="1.3" fill="#8ef0a8"/><rect x="966.7" y="391.6" width="27.3" height="1.3" fill="#8df0a8"/><rect x="966.7" y="392.6" width="27.3" height="1.3" fill="#8cf0a9"/><rect x="966.7" y="393.6" width="27.3" height="1.3" fill="#8bf0aa"/><rect x="966.7" y="394.6" width="27.3" height="1.3" fill="#8af0aa"/><rect x="966.7" y="395.6" width="27.3" height="1.3" fill="#89f0ab"/><rect x="966.7" y="396.6" width="27.3" height="1.3" fill="#88f0ac"/><rect x="966.7" y="397.6" width="27.3" height="1.3" fill="#87f0ad"/><rect x="966.7" y="398.6" width="27.3" height="1.3" fill="#86f0ad"/><rect x="966.7" y="399.6" width="27.3" height="1.3" fill="#85f0ae"/><rect x="966.7" y="400.6" width="27.3" height="1.3" fill="#84f0af"/><rect x="966.7" y="401.6" width="27.3" height="1.3" fill="#83f0b0"/><rect x="966.7" y="402.6" width="27.3" height="1.3" fill="#82f0b0"/><rect x="966.7" y="403.6" width="27.3" height="1.3" fill="#81f0b1"/><rect x="966.7" y="404.6" width="27.3" height="1.3" fill="#80f0b2"/><rect x="966.7" y="405.6" width="27.3" height="1.3" fill="#7ff0b2"/><rect x="966.7" y="406.6" width="27.3" height="1.3" fill="#7ef0b3"/><rect x="966.7" y="407.6" width="27.3" height="1.3" fill="#7df0b4"/><rect x="966.7" y="408.6" width="27.3" height="1.3" fill="#7cf0b5"/><rect x="966.7" y="409.6" width="27.3" height="1.3" fill="#7cf0b5"/><rect x="966.7" y="410.6" width="27.3" height="1.3" fill="#7bf0b6"/><rect x="966.7" y="411.6" width="27.3" height="1.3" fill="#7af0b7"/><rect x="966.7" y="412.6" width="27.3" height="1.3" fill="#79f0b8"/><rect x="966.7" y="413.6" width="27.3" height="1.3" fill="#58f0d0"/><rect x="966.7" y="414.6" width="27.3" height="1.3" fill="#57f0d1"/><rect x="966.7" y="415.6" width="27.3" height="1.3" fill="#56f0d1"/><rect x="966.7" y="416.6" width="27.3" height="1.3" fill="#56f0d2"/><rect x="966.7" y="417.6" width="27.3" height="1.3" fill="#55f0d2"/><rect x="966.7" y="418.6" width="27.3" height="1.3" fill="#54f0d3"/><rect x="966.7" y="419.6" width="27.3" height="1.3" fill="#53f0d3"/><rect x="966.7" y="420.6" width="27.3" height="1.3" fill="#53f0d4"/><rect x="966.7" y="421.6" width="27.3" height="1.3" fill="#52f0d4"/><rect x="966.7" y="422.6" width="27.3" height="1.3" fill="#51f0d5"/><rect x="966.7" y="423.6" width="27.3" height="1.3" fill="#50f0d5"/><rect x="966.7" y="424.6" width="27.3" height="1.3" fill="#50f0d6"/><rect x="966.7" y="425.6" width="27.3" height="1.3" fill="#4ff0d6"/><rect x="966.7" y="426.6" width="27.3" height="1.3" fill="#4ef0d6"/><rect x="966.7" y="427.6" width="27.3" height="1.3" fill="#4ef0d7"/><rect x="966.7" y="428.6" width="27.3" height="1.3" fill="#4df0d7"/><rect x="966.7" y="429.6" width="27.3" height="1.3" fill="#4cf0d8"/><rect x="966.7" y="430.6" width="27.3" height="1.3" fill="#4bf0d8"/><rect x="966.7" y="431.6" width="27.3" height="1.3" fill="#4bf0d9"/><rect x="966.7" y="432.6" width="27.3" height="1.3" fill="#4af0d9"/><rect x="966.7" y="433.6" width="27.3" height="1.3" fill="#49f0da"/><rect x="966.7" y="434.6" width="27.3" height="1.3" fill="#48f0da"/><rect x="966.7" y="435.6" width="27.3" height="1.3" fill="#48f0db"/><rect x="966.7" y="436.6" width="27.3" height="1.3" fill="#47f0db"/><rect x="966.7" y="437.6" width="27.3" height="1.3" fill="#46f0dc"/><rect x="966.7" y="438.6" width="27.3" height="1.3" fill="#46f0dc"/><rect x="966.7" y="439.6" width="27.3" height="1.3" fill="#45f0dd"/><rect x="966.7" y="440.6" width="27.3" height="1.3" fill="#44f0dd"/><rect x="966.7" y="441.6" width="27.3" height="1.3" fill="#43f0de"/><rect x="966.7" y="442.6" width="27.3" height="1.3" fill="#43f0de"/><rect x="966.7" y="443.6" width="27.3" height="1.3" fill="#42f0df"/><rect x="966.7" y="444.6" width="27.3" height="1.3" fill="#41f0df"/><rect x="966.7" y="445.6" width="27.3" height="1.3" fill="#40f0e0"/><rect x="966.7" y="446.6" width="27.3" height="1.3" fill="#30f4ff"/><rect x="966.7" y="447.6" width="27.3" height="1.3" fill="#30f3ff"/><rect x="966.7" y="448.6" width="27.3" height="1.3" fill="#30f2ff"/><rect x="966.7" y="449.6" width="27.3" height="1.3" fill="#30f1ff"/><rect x="966.7" y="450.6" width="27.3" height="1.3" fill="#30f1ff"/><rect x="966.7" y="451.6" width="27.3" height="1.3" fill="#30f0ff"/><rect x="966.7" y="452.6" width="27.3" height="1.3" fill="#30efff"/><rect x="966.7" y="453.6" width="27.3" height="1.3" fill="#30efff"/><rect x="966.7" y="454.6" width="27.3" height="1.3" fill="#30eeff"/><rect x="966.7" y="455.6" width="27.3" height="1.3" fill="#30edff"/><rect x="966.7" y="456.6" width="27.3" height="1.3" fill="#30ecff"/><rect x="966.7" y="457.6" width="27.3" height="1.3" fill="#30ecff"/><rect x="966.7" y="458.6" width="27.3" height="1.3" fill="#30ebff"/><rect x="966.7" y="459.6" width="27.3" height="1.3" fill="#30eaff"/><rect x="966.7" y="460.6" width="27.3" height="1.3" fill="#30e9ff"/><rect x="966.7" y="461.6" width="27.3" height="1.3" fill="#30e9ff"/><rect x="966.7" y="462.6" width="27.3" height="1.3" fill="#30e8ff"/><rect x="966.7" y="463.6" width="27.3" height="1.3" fill="#30e7ff"/><rect x="966.7" y="464.6" width="27.3" height="1.3" fill="#30e7ff"/><rect x="966.7" y="465.6" width="27.3" height="1.3" fill="#30e6ff"/><rect x="966.7" y="466.6" width="27.3" height="1.3" fill="#30e5ff"/><rect x="966.7" y="467.6" width="27.3" height="1.3" fill="#30e4ff"/><rect x="966.7" y="468.6" width="27.3" height="1.3" fill="#30e4ff"/><rect x="966.7" y="469.6" width="27.3" height="1.3" fill="#30e3ff"/><rect x="966.7" y="470.6" width="27.3" height="1.3" fill="#30e2ff"/><rect x="966.7" y="471.6" width="27.3" height="1.3" fill="#30e1ff"/><rect x="966.7" y="472.6" width="27.3" height="1.3" fill="#30e1ff"/><rect x="966.7" y="473.6" width="27.3" height="1.3" fill="#30e0ff"/><rect x="966.7" y="474.6" width="27.3" height="1.3" fill="#30dfff"/><rect x="966.7" y="475.6" width="27.3" height="1.3" fill="#30dfff"/><rect x="966.7" y="476.6" width="27.3" height="1.3" fill="#30deff"/><rect x="966.7" y="477.6" width="27.3" height="1.3" fill="#30ddff"/><rect x="966.7" y="478.6" width="27.3" height="1.3" fill="#30dcff"/><rect x="966.7" y="479.6" width="27.3" height="1.3" fill="#30c4ff"/><rect x="966.7" y="480.6" width="27.3" height="1.3" fill="#30c3ff"/><rect x="966.7" y="481.6" width="27.3" height="1.3" fill="#2fc2ff"/><rect x="966.7" y="482.6" width="27.3" height="1.3" fill="#2fc1ff"/><rect x="966.7" y="483.6" width="27.3" height="1.3" fill="#2fc1ff"/><rect x="966.7" y="484.6" width="27.3" height="1.3" fill="#2fc0ff"/><rect x="966.7" y="485.6" width="27.3" height="1.3" fill="#2ebfff"/><rect x="966.7" y="486.6" width="27.3" height="1.3" fill="#2ebfff"/><rect x="966.7" y="487.6" width="27.3" height="1.3" fill="#2ebeff"/><rect x="966.7" y="488.6" width="27.3" height="1.3" fill="#2ebdff"/><rect x="966.7" y="489.6" width="27.3" height="1.3" fill="#2dbcff"/><rect x="966.7" y="490.6" width="27.3" height="1.3" fill="#2dbcff"/><rect x="966.7" y="491.6" width="27.3" height="1.3" fill="#2dbbff"/><rect x="966.7" y="492.6" width="27.3" height="1.3" fill="#2dbaff"/><rect x="966.7" y="493.6" width="27.3" height="1.3" fill="#2cb9ff"/><rect x="966.7" y="494.6" width="27.3" height="1.3" fill="#2cb9ff"/><rect x="966.7" y="495.6" width="27.3" height="1.3" fill="#2cb8ff"/><rect x="966.7" y="496.6" width="27.3" height="1.3" fill="#2cb7ff"/><rect x="966.7" y="497.6" width="27.3" height="1.3" fill="#2bb6ff"/><rect x="966.7" y="498.6" width="27.3" height="1.3" fill="#2bb6ff"/><rect x="966.7" y="499.6" width="27.3" height="1.3" fill="#2bb5ff"/><rect x="966.7" y="500.6" width="27.3" height="1.3" fill="#2bb4ff"/><rect x="966.7" y="501.6" width="27.3" height="1.3" fill="#2bb4ff"/><rect x="966.7" y="502.6" width="27.3" height="1.3" fill="#2ab3ff"/><rect x="966.7" y="503.6" width="27.3" height="1.3" fill="#2ab2ff"/><rect x="966.7" y="504.6" width="27.3" height="1.3" fill="#2ab1ff"/><rect x="966.7" y="505.6" width="27.3" height="1.3" fill="#2ab1ff"/><rect x="966.7" y="506.6" width="27.3" height="1.3" fill="#29b0ff"/><rect x="966.7" y="507.6" width="27.3" height="1.3" fill="#29afff"/><rect x="966.7" y="508.6" width="27.3" height="1.3" fill="#29aeff"/><rect x="966.7" y="509.6" width="27.3" height="1.3" fill="#29aeff"/><rect x="966.7" y="510.6" width="27.3" height="1.3" fill="#28adff"/><rect x="966.7" y="511.6" width="27.3" height="1.3" fill="#28acff"/><rect x="966.7" y="512.6" width="27.3" height="1.3" fill="#24a0ff"/><rect x="966.7" y="513.6" width="27.3" height="1.3" fill="#249ffe"/><rect x="966.7" y="514.6" width="27.3" height="1.3" fill="#249efe"/><rect x="966.7" y="515.6" width="27.3" height="1.3" fill="#249dfe"/><rect x="966.7" y="516.6" width="27.3" height="1.3" fill="#239dfd"/><rect x="966.7" y="517.6" width="27.3" height="1.3" fill="#239cfd"/><rect x="966.7" y="518.6" width="27.3" height="1.3" fill="#239bfd"/><rect x="966.7" y="519.6" width="27.3" height="1.3" fill="#239afc"/><rect x="966.7" y="520.6" width="27.3" height="1.3" fill="#239afc"/><rect x="966.7" y="521.6" width="27.3" height="1.3" fill="#2399fc"/><rect x="966.7" y="522.6" width="27.3" height="1.3" fill="#2398fb"/><rect x="966.7" y="523.6" width="27.3" height="1.3" fill="#2398fb"/><rect x="966.7" y="524.6" width="27.3" height="1.3" fill="#2297fb"/><rect x="966.7" y="525.6" width="27.3" height="1.3" fill="#2296fa"/><rect x="966.7" y="526.6" width="27.3" height="1.3" fill="#2295fa"/><rect x="966.7" y="527.6" width="27.3" height="1.3" fill="#2295fa"/><rect x="966.7" y="528.6" width="27.3" height="1.3" fill="#2294f9"/><rect x="966.7" y="529.6" width="27.3" height="1.3" fill="#2293f9"/><rect x="966.7" y="530.6" width="27.3" height="1.3" fill="#2292f9"/><rect x="966.7" y="531.6" width="27.3" height="1.3" fill="#2292f8"/><rect x="966.7" y="532.6" width="27.3" height="1.3" fill="#2191f8"/><rect x="966.7" y="533.6" width="27.3" height="1.3" fill="#2190f8"/><rect x="966.7" y="534.6" width="27.3" height="1.3" fill="#2190f7"/><rect x="966.7" y="535.6" width="27.3" height="1.3" fill="#218ff7"/><rect x="966.7" y="536.6" width="27.3" height="1.3" fill="#218ef7"/><rect x="966.7" y="537.6" width="27.3" height="1.3" fill="#218df6"/><rect x="966.7" y="538.6" width="27.3" height="1.3" fill="#218df6"/><rect x="966.7" y="539.6" width="27.3" height="1.3" fill="#218cf6"/><rect x="966.7" y="540.6" width="27.3" height="1.3" fill="#218bf5"/><rect x="966.7" y="541.6" width="27.3" height="1.3" fill="#208af5"/><rect x="966.7" y="542.6" width="27.3" height="1.3" fill="#208af5"/><rect x="966.7" y="543.6" width="27.3" height="1.3" fill="#2089f4"/><rect x="966.7" y="544.6" width="27.3" height="1.3" fill="#2088f4"/><rect x="966.7" y="545.6" width="27.3" height="1.3" fill="#2070f8"/><rect x="966.7" y="546.6" width="27.3" height="1.3" fill="#206ff8"/><rect x="966.7" y="547.6" width="27.3" height="1.3" fill="#206ef7"/><rect x="966.7" y="548.6" width="27.3" height="1.3" fill="#206ef7"/><rect x="966.7" y="549.6" width="27.3" height="1.3" fill="#1f6df7"/><rect x="966.7" y="550.6" width="27.3" height="1.3" fill="#1f6df7"/><rect x="966.7" y="551.6" width="27.3" height="1.3" fill="#1f6cf6"/><rect x="966.7" y="552.6" width="27.3" height="1.3" fill="#1f6bf6"/><rect x="966.7" y="553.6" width="27.3" height="1.3" fill="#1f6bf6"/><rect x="966.7" y="554.6" width="27.3" height="1.3" fill="#1f6af6"/><rect x="966.7" y="555.6" width="27.3" height="1.3" fill="#1f6af5"/><rect x="966.7" y="556.6" width="27.3" height="1.3" fill="#1f69f5"/><rect x="966.7" y="557.6" width="27.3" height="1.3" fill="#1e68f5"/><rect x="966.7" y="558.6" width="27.3" height="1.3" fill="#1e68f5"/><rect x="966.7" y="559.6" width="27.3" height="1.3" fill="#1e67f4"/><rect x="966.7" y="560.6" width="27.3" height="1.3" fill="#1e66f4"/><rect x="966.7" y="561.6" width="27.3" height="1.3" fill="#1e66f4"/><rect x="966.7" y="562.6" width="27.3" height="1.3" fill="#1e65f4"/><rect x="966.7" y="563.6" width="27.3" height="1.3" fill="#1e65f3"/><rect x="966.7" y="564.6" width="27.3" height="1.3" fill="#1e64f3"/><rect x="966.7" y="565.6" width="27.3" height="1.3" fill="#1d63f3"/><rect x="966.7" y="566.6" width="27.3" height="1.3" fill="#1d63f3"/><rect x="966.7" y="567.6" width="27.3" height="1.3" fill="#1d62f2"/><rect x="966.7" y="568.6" width="27.3" height="1.3" fill="#1d62f2"/><rect x="966.7" y="569.6" width="27.3" height="1.3" fill="#1d61f2"/><rect x="966.7" y="570.6" width="27.3" height="1.3" fill="#1d60f2"/><rect x="966.7" y="571.6" width="27.3" height="1.3" fill="#1d60f2"/><rect x="966.7" y="572.6" width="27.3" height="1.3" fill="#1d5ff1"/><rect x="966.7" y="573.6" width="27.3" height="1.3" fill="#1d5ff1"/><rect x="966.7" y="574.6" width="27.3" height="1.3" fill="#1c5ef1"/><rect x="966.7" y="575.6" width="27.3" height="1.3" fill="#1c5df1"/><rect x="966.7" y="576.6" width="27.3" height="1.3" fill="#1c5df0"/><rect x="966.7" y="577.6" width="27.3" height="1.3" fill="#1c5cf0"/><rect x="966.7" y="578.6" width="27.3" height="1.3" fill="#1844ff"/><rect x="966.7" y="579.6" width="27.3" height="1.3" fill="#1843fe"/><rect x="966.7" y="580.6" width="27.3" height="1.3" fill="#1843fe"/><rect x="966.7" y="581.6" width="27.3" height="1.3" fill="#1843fd"/><rect x="966.7" y="582.6" width="27.3" height="1.3" fill="#1842fd"/><rect x="966.7" y="583.6" width="27.3" height="1.3" fill="#1842fc"/><rect x="966.7" y="584.6" width="27.3" height="1.3" fill="#1842fc"/><rect x="966.7" y="585.6" width="27.3" height="1.3" fill="#1841fb"/><rect x="966.7" y="586.6" width="27.3" height="1.3" fill="#1841fb"/><rect x="966.7" y="587.6" width="27.3" height="1.3" fill="#1840fb"/><rect x="966.7" y="588.6" width="27.3" height="1.3" fill="#1840fa"/><rect x="966.7" y="589.6" width="27.3" height="1.3" fill="#1840fa"/><rect x="966.7" y="590.6" width="27.3" height="1.3" fill="#183ff9"/><rect x="966.7" y="591.6" width="27.3" height="1.3" fill="#183ff9"/><rect x="966.7" y="592.6" width="27.3" height="1.3" fill="#183ff8"/><rect x="966.7" y="593.6" width="27.3" height="1.3" fill="#183ef8"/><rect x="966.7" y="594.6" width="27.3" height="1.3" fill="#183ef7"/><rect x="966.7" y="595.6" width="27.3" height="1.3" fill="#183ef7"/><rect x="966.7" y="596.6" width="27.3" height="1.3" fill="#183df6"/><rect x="966.7" y="597.6" width="27.3" height="1.3" fill="#183df6"/><rect x="966.7" y="598.6" width="27.3" height="1.3" fill="#183cf6"/><rect x="966.7" y="599.6" width="27.3" height="1.3" fill="#183cf5"/><rect x="966.7" y="600.6" width="27.3" height="1.3" fill="#183cf5"/><rect x="966.7" y="601.6" width="27.3" height="1.3" fill="#183bf4"/><rect x="966.7" y="602.6" width="27.3" height="1.3" fill="#183bf4"/><rect x="966.7" y="603.6" width="27.3" height="1.3" fill="#183bf3"/><rect x="966.7" y="604.6" width="27.3" height="1.3" fill="#183af3"/><rect x="966.7" y="605.6" width="27.3" height="1.3" fill="#183af2"/><rect x="966.7" y="606.6" width="27.3" height="1.3" fill="#183af2"/><rect x="966.7" y="607.6" width="27.3" height="1.3" fill="#1839f1"/><rect x="966.7" y="608.6" width="27.3" height="1.3" fill="#1839f1"/><rect x="966.7" y="609.6" width="27.3" height="1.3" fill="#1838f1"/><rect x="966.7" y="610.6" width="27.3" height="1.3" fill="#1838f0"/><rect x="966.7" y="611.6" width="27.3" height="1.3" fill="#1838d0"/><rect x="966.7" y="612.6" width="27.3" height="1.3" fill="#1838cf"/><rect x="966.7" y="613.6" width="27.3" height="1.3" fill="#1837cf"/><rect x="966.7" y="614.6" width="27.3" height="1.3" fill="#1837ce"/><rect x="966.7" y="615.6" width="27.3" height="1.3" fill="#1837ce"/><rect x="966.7" y="616.6" width="27.3" height="1.3" fill="#1837cd"/><rect x="966.7" y="617.6" width="27.3" height="1.3" fill="#1836cd"/><rect x="966.7" y="618.6" width="27.3" height="1.3" fill="#1836cc"/><rect x="966.7" y="619.6" width="27.3" height="1.3" fill="#1836cc"/><rect x="966.7" y="620.6" width="27.3" height="1.3" fill="#1836cb"/><rect x="966.7" y="621.6" width="27.3" height="1.3" fill="#1835cb"/><rect x="966.7" y="622.6" width="27.3" height="1.3" fill="#1835ca"/><rect x="966.7" y="623.6" width="27.3" height="1.3" fill="#1835ca"/><rect x="966.7" y="624.6" width="27.3" height="1.3" fill="#1835c9"/><rect x="966.7" y="625.6" width="27.3" height="1.3" fill="#1834c9"/><rect x="966.7" y="626.6" width="27.3" height="1.3" fill="#1834c8"/><rect x="966.7" y="627.6" width="27.3" height="1.3" fill="#1834c8"/><rect x="966.7" y="628.6" width="27.3" height="1.3" fill="#1834c7"/><rect x="966.7" y="629.6" width="27.3" height="1.3" fill="#1833c7"/><rect x="966.7" y="630.6" width="27.3" height="1.3" fill="#1833c6"/><rect x="966.7" y="631.6" width="27.3" height="1.3" fill="#1833c6"/><rect x="966.7" y="632.6" width="27.3" height="1.3" fill="#1833c5"/><rect x="966.7" y="633.6" width="27.3" height="1.3" fill="#1832c5"/><rect x="966.7" y="634.6" width="27.3" height="1.3" fill="#1832c4"/><rect x="966.7" y="635.6" width="27.3" height="1.3" fill="#1832c4"/><rect x="966.7" y="636.6" width="27.3" height="1.3" fill="#1832c3"/><rect x="966.7" y="637.6" width="27.3" height="1.3" fill="#1831c3"/><rect x="966.7" y="638.6" width="27.3" height="1.3" fill="#1831c2"/><rect x="966.7" y="639.6" width="27.3" height="1.3" fill="#1831c2"/><rect x="966.7" y="640.6" width="27.3" height="1.3" fill="#1831c2"/><rect x="966.7" y="641.6" width="27.3" height="1.3" fill="#1831c1"/><rect x="966.7" y="642.6" width="27.3" height="1.3" fill="#1830c1"/><rect x="966.7" y="643.6" width="27.3" height="1.3" fill="#1830c0"/><rect x="966.7" y="644.6" width="27.3" height="1.3" fill="#1a34a8"/><rect x="966.7" y="645.6" width="27.3" height="1.3" fill="#1a34a7"/><rect x="966.7" y="646.6" width="27.3" height="1.3" fill="#1a33a7"/><rect x="966.7" y="647.6" width="27.3" height="1.3" fill="#1a33a6"/><rect x="966.7" y="648.6" width="27.3" height="1.3" fill="#1a33a6"/><rect x="966.7" y="649.6" width="27.3" height="1.3" fill="#1a33a5"/><rect x="966.7" y="650.6" width="27.3" height="1.3" fill="#1a33a5"/><rect x="966.7" y="651.6" width="27.3" height="1.3" fill="#1a33a5"/><rect x="966.7" y="652.6" width="27.3" height="1.3" fill="#1a32a4"/><rect x="966.7" y="653.6" width="27.3" height="1.3" fill="#1a32a4"/><rect x="966.7" y="654.6" width="27.3" height="1.3" fill="#1a32a3"/><rect x="966.7" y="655.6" width="27.3" height="1.3" fill="#1a32a3"/><rect x="966.7" y="656.6" width="27.3" height="1.3" fill="#1a32a3"/><rect x="966.7" y="657.6" width="27.3" height="1.3" fill="#1a31a2"/><rect x="966.7" y="658.6" width="27.3" height="1.3" fill="#1a31a2"/><rect x="966.7" y="659.6" width="27.3" height="1.3" fill="#1a31a1"/><rect x="966.7" y="660.6" width="27.3" height="1.3" fill="#1a31a1"/><rect x="966.7" y="661.6" width="27.3" height="1.3" fill="#1a31a0"/><rect x="966.7" y="662.6" width="27.3" height="1.3" fill="#1a31a0"/><rect x="966.7" y="663.6" width="27.3" height="1.3" fill="#1a30a0"/><rect x="966.7" y="664.6" width="27.3" height="0.5" fill="#1a309f"/></g><g stroke="#222" stroke-width="1.2"><path d="M966.7 644.2h9M985 644.2h9"/><path d="M966.7 611.3h9M985 611.3h9"/><path d="M966.7 578.4h9M985 578.4h9"/><path d="M966.7 545.4h9M985 545.4h9"/><path d="M966.7 512.5h9M985 512.5h9"/><path d="M966.7 479.6h9M985 479.6h9"/><path d="M966.7 446.6h9M985 446.6h9"/><path d="M966.7 413.7h9M985 413.7h9"/><path d="M966.7 380.8h9M985 380.8h9"/><path d="M966.7 347.9h9M985 347.9h9"/><path d="M966.7 315h9M985 315h9"/><path d="M966.7 282h9M985 282h9"/><path d="M966.7 249.1h9M985 249.1h9"/><path d="M966.7 216.2h9M985 216.2h9"/><path d="M966.7 183.2h9M985 183.2h9"/><path d="M966.7 150.3h9M985 150.3h9"/><path d="M966.7 117.4h9M985 117.4h9"/></g><rect x="966.7" y="96.6" width="27.3" height="568.5" fill="none" stroke="#222" stroke-width="1.2"/><g font-family="Liberation Sans" font-size="29.5" fill="#000"><text x="960" y="652.7" text-anchor="end">-80</text><text x="960" y="586.9" text-anchor="end">-60</text><text x="960" y="521" text-anchor="end">-40</text><text x="960" y="455.1" text-anchor="end">-20</text><text x="960" y="389.3" text-anchor="end">0</text><text x="960" y="323.5" text-anchor="end">20</text><text x="960" y="257.6" text-anchor="end">40</text><text x="960" y="191.8" text-anchor="end">60</text><text x="960" y="125.9" text-anchor="end">80</text></g><g transform="translate(8.3 768.3) scale(0.9837 0.9854)"><rect x="12.9" y="5.5" width="866.6" height="684.8" fill="#fff"/><path d="M12.9 690.3L12.9 149.8L14.5 157.9L25.8 166L41.9 183.7L51.6 193.4L59.6 201.4L61.2 207.9L62.8 225.6L67.7 244.9L77.3 254.6L80.6 273.9L96.7 283.6L103.1 291.6L109.6 299.7L119.2 307.8L122.5 309.4L132.1 319L140.2 328.7L146.5 345L147.7 350L145.3 354.8L145.3 372L153.8 384.1L161.1 408.6L165 427.6L170.3 430.8L173.8 434.6L177.3 438.7L180.2 439.9L183.7 442.8L199.6 443.1L200.3 441.5L196 440.5L194 439L193.7 433L195.5 430.5L198 429.4L204 429.4L210.7 431L210.7 440L212.5 446L215.2 452.2L216.6 466.9L224 487.4L228.3 507.9L241.5 524L250.3 531.3L267.9 541.6L279.6 551.8L294.3 563.6L308.9 570.9L323.6 582.6L338.2 589.9L355.8 598.7L379.2 611.9L402.7 620.7L414.4 625.1L426.1 633.9L437.8 642.7L450 647.5L575 648.5L577 651.5L584 651.5L586 649L593.2 648.8L593.8 658.8L602 658.8L605.5 655.2L612.5 655.2L624.2 668.1L636 668L641.8 672.2L657 672.2L659.4 668.1L668.8 668.1L672.3 671.6L675.8 672.8L685.2 685.7L685.7 690.3Z" fill="#9b9b9b"/><g stroke="#d2d2d2" stroke-width="1.1" fill="none"><path d="M25 5.5V690.3"/><path d="M147 5.5V690.3"/><path d="M269 5.5V690.3"/><path d="M391 5.5V690.3"/><path d="M513 5.5V690.3"/><path d="M635 5.5V690.3"/><path d="M757 5.5V690.3"/><path d="M12.9 42H879"/><path d="M12.9 123.5H879"/><path d="M12.9 205.1H879"/><path d="M12.9 286.6H879"/><path d="M12.9 368.2H879"/><path d="M12.9 449.7H879"/><path d="M12.9 531.2H879"/><path d="M12.9 612.8H879"/></g><path d="M12.9 149.8L14.5 157.9L25.8 166L41.9 183.7L51.6 193.4L59.6 201.4L61.2 207.9L62.8 225.6L67.7 244.9L77.3 254.6L80.6 273.9L96.7 283.6L103.1 291.6L109.6 299.7L119.2 307.8L122.5 309.4L132.1 319L140.2 328.7L146.5 345L147.7 350L145.3 354.8L145.3 372L153.8 384.1L161.1 408.6L165 427.6L170.3 430.8L173.8 434.6L177.3 438.7L180.2 439.9L183.7 442.8L199.6 443.1L200.3 441.5L196 440.5L194 439L193.7 433L195.5 430.5L198 429.4L204 429.4L210.7 431L210.7 440L212.5 446L215.2 452.2L216.6 466.9L224 487.4L228.3 507.9L241.5 524L250.3 531.3L267.9 541.6L279.6 551.8L294.3 563.6L308.9 570.9L323.6 582.6L338.2 589.9L355.8 598.7L379.2 611.9L402.7 620.7L414.4 625.1L426.1 633.9L437.8 642.7L450 647.5L575 648.5L577 651.5L584 651.5L586 649L593.2 648.8L593.8 658.8L602 658.8L605.5 655.2L612.5 655.2L624.2 668.1L636 668L641.8 672.2L657 672.2L659.4 668.1L668.8 668.1L672.3 671.6L675.8 672.8L685.2 685.7L685.7 690.3" fill="none" stroke="#000" stroke-width="1"/><text x="351" y="24" font-family="Liberation Sans" font-weight="bold" font-size="14.5" fill="#000">Hokkaido AOBB Site</text><text x="359" y="37" font-family="Liberation Sans" font-size="10.5" fill="#e8301c">42MHz SeaSonde Measurements</text><g shape-rendering="crispEdges" stroke="#000" stroke-opacity="0.05" stroke-width="1"><rect x="387.8" y="8.2" width="22.5" height="22.4" fill="#1a3ee8"/><rect x="409.9" y="8.2" width="22.5" height="22.4" fill="#1a3ee8"/><rect x="432" y="8.2" width="22.5" height="22.4" fill="#1a46f8"/><rect x="454.2" y="8.2" width="22.5" height="22.4" fill="#1a46f8"/><rect x="476.3" y="8.2" width="22.5" height="22.4" fill="#1a38d0"/><rect x="498.4" y="8.2" width="22.5" height="22.4" fill="#1a38d0"/><rect x="520.5" y="8.2" width="22.5" height="22.4" fill="#1a34c2"/><rect x="343.6" y="30.3" width="22.5" height="22.4" fill="#1a46f8"/><rect x="365.7" y="30.3" width="22.5" height="22.4" fill="#1a46f8"/><rect x="387.8" y="30.3" width="22.5" height="22.4" fill="#1a38d0"/><rect x="409.9" y="30.3" width="22.5" height="22.4" fill="#1a38d0"/><rect x="432" y="30.3" width="22.5" height="22.4" fill="#1a41ee"/><rect x="454.2" y="30.3" width="22.5" height="22.4" fill="#1a41ee"/><rect x="476.3" y="30.3" width="22.5" height="22.4" fill="#1a34c2"/><rect x="498.4" y="30.3" width="22.5" height="22.4" fill="#1a32b8"/><rect x="520.5" y="30.3" width="22.5" height="22.4" fill="#1a32b8"/><rect x="542.6" y="30.3" width="22.5" height="22.4" fill="#1a32b8"/><rect x="299.3" y="52.3" width="22.5" height="22.4" fill="#1a46f8"/><rect x="321.4" y="52.3" width="22.5" height="22.4" fill="#1a46f8"/><rect x="343.6" y="52.3" width="22.5" height="22.4" fill="#1a46f8"/><rect x="365.7" y="52.3" width="22.5" height="22.4" fill="#1a46f8"/><rect x="387.8" y="52.3" width="22.5" height="22.4" fill="#1a38d0"/><rect x="409.9" y="52.3" width="22.5" height="22.4" fill="#1a38d0"/><rect x="432" y="52.3" width="22.5" height="22.4" fill="#1a46f8"/><rect x="454.2" y="52.3" width="22.5" height="22.4" fill="#1a46f8"/><rect x="476.3" y="52.3" width="22.5" height="22.4" fill="#1a32b8"/><rect x="498.4" y="52.3" width="22.5" height="22.4" fill="#1a32b8"/><rect x="520.5" y="52.3" width="22.5" height="22.4" fill="#1a32b8"/><rect x="542.6" y="52.3" width="22.5" height="22.4" fill="#1a32b8"/><rect x="564.8" y="52.3" width="22.5" height="22.4" fill="#1a32b8"/><rect x="255.1" y="74.4" width="22.5" height="22.4" fill="#2078ff"/><rect x="277.2" y="74.4" width="22.5" height="22.4" fill="#2280ff"/><rect x="299.3" y="74.4" width="22.5" height="22.4" fill="#1c5bff"/><rect x="321.4" y="74.4" width="22.5" height="22.4" fill="#1a4efc"/><rect x="343.6" y="74.4" width="22.5" height="22.4" fill="#1a4cfb"/><rect x="365.7" y="74.4" width="22.5" height="22.4" fill="#1a49f9"/><rect x="387.8" y="74.4" width="22.5" height="22.4" fill="#1a41ee"/><rect x="409.9" y="74.4" width="22.5" height="22.4" fill="#1a34c2"/><rect x="432" y="74.4" width="22.5" height="22.4" fill="#1a32b8"/><rect x="454.2" y="74.4" width="22.5" height="22.4" fill="#1a32b8"/><rect x="476.3" y="74.4" width="22.5" height="22.4" fill="#1a32b8"/><rect x="498.4" y="74.4" width="22.5" height="22.4" fill="#1a30ae"/><rect x="520.5" y="74.4" width="22.5" height="22.4" fill="#1a32b8"/><rect x="542.6" y="74.4" width="22.5" height="22.4" fill="#1a32b8"/><rect x="564.8" y="74.4" width="22.5" height="22.4" fill="#1a32b8"/><rect x="586.9" y="74.4" width="22.5" height="22.4" fill="#1a32b8"/><rect x="609" y="74.4" width="22.5" height="22.4" fill="#1a32b8"/><rect x="631.1" y="74.4" width="22.5" height="22.4" fill="#1a32b8"/><rect x="233" y="96.4" width="22.5" height="22.4" fill="#2078ff"/><rect x="255.1" y="96.4" width="22.5" height="22.4" fill="#2078ff"/><rect x="277.2" y="96.4" width="22.5" height="22.4" fill="#1e66ff"/><rect x="299.3" y="96.4" width="22.5" height="22.4" fill="#1a54ff"/><rect x="321.4" y="96.4" width="22.5" height="22.4" fill="#1a51fe"/><rect x="343.6" y="96.4" width="22.5" height="22.4" fill="#1a4efc"/><rect x="365.7" y="96.4" width="22.5" height="22.4" fill="#1a49f9"/><rect x="387.8" y="96.4" width="22.5" height="22.4" fill="#1a41ee"/><rect x="409.9" y="96.4" width="22.5" height="22.4" fill="#1a3cde"/><rect x="432" y="96.4" width="22.5" height="22.4" fill="#1a30ae"/><rect x="454.2" y="96.4" width="22.5" height="22.4" fill="#1a30ae"/><rect x="476.3" y="96.4" width="22.5" height="22.4" fill="#1a30ae"/><rect x="498.4" y="96.4" width="22.5" height="22.4" fill="#1a30ae"/><rect x="520.5" y="96.4" width="22.5" height="22.4" fill="#1a32b8"/><rect x="542.6" y="96.4" width="22.5" height="22.4" fill="#1a32b8"/><rect x="564.8" y="96.4" width="22.5" height="22.4" fill="#1a32b8"/><rect x="586.9" y="96.4" width="22.5" height="22.4" fill="#1a32b8"/><rect x="609" y="96.4" width="22.5" height="22.4" fill="#1a32b8"/><rect x="631.1" y="96.4" width="22.5" height="22.4" fill="#1a32b8"/><rect x="653.2" y="96.4" width="22.5" height="22.4" fill="#1a32b8"/><rect x="210.8" y="118.4" width="22.5" height="22.4" fill="#2078ff"/><rect x="233" y="118.4" width="22.5" height="22.4" fill="#1c5bff"/><rect x="255.1" y="118.4" width="22.5" height="22.4" fill="#1a46f8"/><rect x="277.2" y="118.4" width="22.5" height="22.4" fill="#1a54ff"/><rect x="299.3" y="118.4" width="22.5" height="22.4" fill="#1a54ff"/><rect x="321.4" y="118.4" width="22.5" height="22.4" fill="#1a54ff"/><rect x="343.6" y="118.4" width="22.5" height="22.4" fill="#1a4efc"/><rect x="365.7" y="118.4" width="22.5" height="22.4" fill="#1a49f9"/><rect x="387.8" y="118.4" width="22.5" height="22.4" fill="#1a49f9"/><rect x="409.9" y="118.4" width="22.5" height="22.4" fill="#1a41ee"/><rect x="432" y="118.4" width="22.5" height="22.4" fill="#1a30ae"/><rect x="454.2" y="118.4" width="22.5" height="22.4" fill="#1a30ae"/><rect x="476.3" y="118.4" width="22.5" height="22.4" fill="#1a30ae"/><rect x="498.4" y="118.4" width="22.5" height="22.4" fill="#1a30ae"/><rect x="520.5" y="118.4" width="22.5" height="22.4" fill="#1a30ae"/><rect x="542.6" y="118.4" width="22.5" height="22.4" fill="#1a30ae"/><rect x="564.8" y="118.4" width="22.5" height="22.4" fill="#1a30ae"/><rect x="586.9" y="118.4" width="22.5" height="22.4" fill="#1a30ae"/><rect x="609" y="118.4" width="22.5" height="22.4" fill="#1a32b8"/><rect x="631.1" y="118.4" width="22.5" height="22.4" fill="#1a32b8"/><rect x="653.2" y="118.4" width="22.5" height="22.4" fill="#1a32b8"/><rect x="675.4" y="118.4" width="22.5" height="22.4" fill="#28a0ff"/><rect x="188.7" y="140.5" width="22.5" height="22.4" fill="#2280ff"/><rect x="210.8" y="140.5" width="22.5" height="22.4" fill="#2078ff"/><rect x="233" y="140.5" width="22.5" height="22.4" fill="#1a54ff"/><rect x="255.1" y="140.5" width="22.5" height="22.4" fill="#1c5bff"/><rect x="277.2" y="140.5" width="22.5" height="22.4" fill="#1c5bff"/><rect x="299.3" y="140.5" width="22.5" height="22.4" fill="#1a54ff"/><rect x="321.4" y="140.5" width="22.5" height="22.4" fill="#1a54ff"/><rect x="343.6" y="140.5" width="22.5" height="22.4" fill="#1a51fe"/><rect x="365.7" y="140.5" width="22.5" height="22.4" fill="#1a4cfb"/><rect x="387.8" y="140.5" width="22.5" height="22.4" fill="#1a4cfb"/><rect x="409.9" y="140.5" width="22.5" height="22.4" fill="#1a46f8"/><rect x="432" y="140.5" width="22.5" height="22.4" fill="#1a38d0"/><rect x="454.2" y="140.5" width="22.5" height="22.4" fill="#1a32b8"/><rect x="476.3" y="140.5" width="22.5" height="22.4" fill="#1a32b8"/><rect x="498.4" y="140.5" width="22.5" height="22.4" fill="#1a30ae"/><rect x="520.5" y="140.5" width="22.5" height="22.4" fill="#1a30ae"/><rect x="542.6" y="140.5" width="22.5" height="22.4" fill="#1a30ae"/><rect x="564.8" y="140.5" width="22.5" height="22.4" fill="#1a32b8"/><rect x="586.9" y="140.5" width="22.5" height="22.4" fill="#1a32b8"/><rect x="609" y="140.5" width="22.5" height="22.4" fill="#1a32b8"/><rect x="631.1" y="140.5" width="22.5" height="22.4" fill="#1a32b8"/><rect x="653.2" y="140.5" width="22.5" height="22.4" fill="#1a32b8"/><rect x="675.4" y="140.5" width="22.5" height="22.4" fill="#1a32b8"/><rect x="166.6" y="162.5" width="22.5" height="22.4" fill="#2078ff"/><rect x="188.7" y="162.5" width="22.5" height="22.4" fill="#248cff"/><rect x="210.8" y="162.5" width="22.5" height="22.4" fill="#2280ff"/><rect x="233" y="162.5" width="22.5" height="22.4" fill="#1a54ff"/><rect x="255.1" y="162.5" width="22.5" height="22.4" fill="#1e66ff"/><rect x="277.2" y="162.5" width="22.5" height="22.4" fill="#1e66ff"/><rect x="299.3" y="162.5" width="22.5" height="22.4" fill="#1a51fe"/><rect x="321.4" y="162.5" width="22.5" height="22.4" fill="#1c5bff"/><rect x="343.6" y="162.5" width="22.5" height="22.4" fill="#1a54ff"/><rect x="365.7" y="162.5" width="22.5" height="22.4" fill="#1a4cfb"/><rect x="387.8" y="162.5" width="22.5" height="22.4" fill="#1a4cfb"/><rect x="409.9" y="162.5" width="22.5" height="22.4" fill="#1a46f8"/><rect x="432" y="162.5" width="22.5" height="22.4" fill="#1a3cde"/><rect x="454.2" y="162.5" width="22.5" height="22.4" fill="#1a3cde"/><rect x="476.3" y="162.5" width="22.5" height="22.4" fill="#1a37cb"/><rect x="498.4" y="162.5" width="22.5" height="22.4" fill="#1a34c2"/><rect x="520.5" y="162.5" width="22.5" height="22.4" fill="#1a32b8"/><rect x="542.6" y="162.5" width="22.5" height="22.4" fill="#1a37cb"/><rect x="564.8" y="162.5" width="22.5" height="22.4" fill="#1a38d0"/><rect x="586.9" y="162.5" width="22.5" height="22.4" fill="#1a38d0"/><rect x="609" y="162.5" width="22.5" height="22.4" fill="#1a38d0"/><rect x="631.1" y="162.5" width="22.5" height="22.4" fill="#1a38d0"/><rect x="653.2" y="162.5" width="22.5" height="22.4" fill="#1a32b8"/><rect x="675.4" y="162.5" width="22.5" height="22.4" fill="#1a32b8"/><rect x="697.5" y="162.5" width="22.5" height="22.4" fill="#1a3cde"/><rect x="166.6" y="184.6" width="22.5" height="22.4" fill="#2698ff"/><rect x="188.7" y="184.6" width="22.5" height="22.4" fill="#2698ff"/><rect x="210.8" y="184.6" width="22.5" height="22.4" fill="#248cff"/><rect x="233" y="184.6" width="22.5" height="22.4" fill="#1c5bff"/><rect x="255.1" y="184.6" width="22.5" height="22.4" fill="#1f71ff"/><rect x="277.2" y="184.6" width="22.5" height="22.4" fill="#1f71ff"/><rect x="299.3" y="184.6" width="22.5" height="22.4" fill="#1d62ff"/><rect x="321.4" y="184.6" width="22.5" height="22.4" fill="#1c5bff"/><rect x="343.6" y="184.6" width="22.5" height="22.4" fill="#1b58ff"/><rect x="365.7" y="184.6" width="22.5" height="22.4" fill="#1a51fe"/><rect x="387.8" y="184.6" width="22.5" height="22.4" fill="#1a49f9"/><rect x="409.9" y="184.6" width="22.5" height="22.4" fill="#1a46f8"/><rect x="432" y="184.6" width="22.5" height="22.4" fill="#1a3ee8"/><rect x="454.2" y="184.6" width="22.5" height="22.4" fill="#1a3ee8"/><rect x="476.3" y="184.6" width="22.5" height="22.4" fill="#1a3de3"/><rect x="498.4" y="184.6" width="22.5" height="22.4" fill="#1a3ada"/><rect x="520.5" y="184.6" width="22.5" height="22.4" fill="#1a3ada"/><rect x="542.6" y="184.6" width="22.5" height="22.4" fill="#1a46f8"/><rect x="564.8" y="184.6" width="22.5" height="22.4" fill="#1a46f8"/><rect x="586.9" y="184.6" width="22.5" height="22.4" fill="#1a46f8"/><rect x="609" y="184.6" width="22.5" height="22.4" fill="#1a46f8"/><rect x="631.1" y="184.6" width="22.5" height="22.4" fill="#1a46f8"/><rect x="653.2" y="184.6" width="22.5" height="22.4" fill="#1a3ee8"/><rect x="675.4" y="184.6" width="22.5" height="22.4" fill="#30daff"/><rect x="697.5" y="184.6" width="22.5" height="22.4" fill="#1a46f8"/><rect x="166.6" y="206.6" width="22.5" height="22.4" fill="#28a0ff"/><rect x="188.7" y="206.6" width="22.5" height="22.4" fill="#28a0ff"/><rect x="210.8" y="206.6" width="22.5" height="22.4" fill="#2698ff"/><rect x="233" y="206.6" width="22.5" height="22.4" fill="#1e66ff"/><rect x="255.1" y="206.6" width="22.5" height="22.4" fill="#1f71ff"/><rect x="277.2" y="206.6" width="22.5" height="22.4" fill="#1f71ff"/><rect x="299.3" y="206.6" width="22.5" height="22.4" fill="#1e66ff"/><rect x="321.4" y="206.6" width="22.5" height="22.4" fill="#1c5bff"/><rect x="343.6" y="206.6" width="22.5" height="22.4" fill="#1c5bff"/><rect x="365.7" y="206.6" width="22.5" height="22.4" fill="#1a54ff"/><rect x="387.8" y="206.6" width="22.5" height="22.4" fill="#1a46f8"/><rect x="409.9" y="206.6" width="22.5" height="22.4" fill="#1a3cde"/><rect x="432" y="206.6" width="22.5" height="22.4" fill="#1a3cde"/><rect x="454.2" y="206.6" width="22.5" height="22.4" fill="#1a3cde"/><rect x="476.3" y="206.6" width="22.5" height="22.4" fill="#1a3cde"/><rect x="498.4" y="206.6" width="22.5" height="22.4" fill="#1a3cde"/><rect x="520.5" y="206.6" width="22.5" height="22.4" fill="#1a3cde"/><rect x="542.6" y="206.6" width="22.5" height="22.4" fill="#1a38d0"/><rect x="564.8" y="206.6" width="22.5" height="22.4" fill="#1a46f8"/><rect x="586.9" y="206.6" width="22.5" height="22.4" fill="#1a46f8"/><rect x="609" y="206.6" width="22.5" height="22.4" fill="#1a4efc"/><rect x="631.1" y="206.6" width="22.5" height="22.4" fill="#1a4efc"/><rect x="653.2" y="206.6" width="22.5" height="22.4" fill="#1e66ff"/><rect x="675.4" y="206.6" width="22.5" height="22.4" fill="#2aaaff"/><rect x="697.5" y="206.6" width="22.5" height="22.4" fill="#30d0ff"/><rect x="719.6" y="206.6" width="22.5" height="22.4" fill="#35edf6"/><rect x="166.6" y="228.6" width="22.5" height="22.4" fill="#2bb3ff"/><rect x="188.7" y="228.6" width="22.5" height="22.4" fill="#2bb3ff"/><rect x="210.8" y="228.6" width="22.5" height="22.4" fill="#28a0ff"/><rect x="233" y="228.6" width="22.5" height="22.4" fill="#1f71ff"/><rect x="255.1" y="228.6" width="22.5" height="22.4" fill="#1f71ff"/><rect x="277.2" y="228.6" width="22.5" height="22.4" fill="#1f71ff"/><rect x="299.3" y="228.6" width="22.5" height="22.4" fill="#1e66ff"/><rect x="321.4" y="228.6" width="22.5" height="22.4" fill="#1c5bff"/><rect x="343.6" y="228.6" width="22.5" height="22.4" fill="#1a54ff"/><rect x="365.7" y="228.6" width="22.5" height="22.4" fill="#1a54ff"/><rect x="387.8" y="228.6" width="22.5" height="22.4" fill="#1a46f8"/><rect x="409.9" y="228.6" width="22.5" height="22.4" fill="#1a3cde"/><rect x="432" y="228.6" width="22.5" height="22.4" fill="#1a3cde"/><rect x="454.2" y="228.6" width="22.5" height="22.4" fill="#1a3cde"/><rect x="476.3" y="228.6" width="22.5" height="22.4" fill="#1a3ee8"/><rect x="498.4" y="228.6" width="22.5" height="22.4" fill="#1a41ee"/><rect x="520.5" y="228.6" width="22.5" height="22.4" fill="#1a46f8"/><rect x="542.6" y="228.6" width="22.5" height="22.4" fill="#1a46f8"/><rect x="564.8" y="228.6" width="22.5" height="22.4" fill="#1a46f8"/><rect x="586.9" y="228.6" width="22.5" height="22.4" fill="#1a46f8"/><rect x="609" y="228.6" width="22.5" height="22.4" fill="#1a46f8"/><rect x="631.1" y="228.6" width="22.5" height="22.4" fill="#1a46f8"/><rect x="653.2" y="228.6" width="22.5" height="22.4" fill="#1e66ff"/><rect x="675.4" y="228.6" width="22.5" height="22.4" fill="#30e8ff"/><rect x="697.5" y="228.6" width="22.5" height="22.4" fill="#5ef0ca"/><rect x="719.6" y="228.6" width="22.5" height="22.4" fill="#35edf6"/><rect x="166.6" y="250.7" width="22.5" height="22.4" fill="#2bb3ff"/><rect x="188.7" y="250.7" width="22.5" height="22.4" fill="#2aaaff"/><rect x="210.8" y="250.7" width="22.5" height="22.4" fill="#28a0ff"/><rect x="233" y="250.7" width="22.5" height="22.4" fill="#1f71ff"/><rect x="255.1" y="250.7" width="22.5" height="22.4" fill="#1f71ff"/><rect x="277.2" y="250.7" width="22.5" height="22.4" fill="#1f71ff"/><rect x="299.3" y="250.7" width="22.5" height="22.4" fill="#1e66ff"/><rect x="321.4" y="250.7" width="22.5" height="22.4" fill="#1c5bff"/><rect x="343.6" y="250.7" width="22.5" height="22.4" fill="#1c5bff"/><rect x="365.7" y="250.7" width="22.5" height="22.4" fill="#1a54ff"/><rect x="387.8" y="250.7" width="22.5" height="22.4" fill="#1a46f8"/><rect x="409.9" y="250.7" width="22.5" height="22.4" fill="#1a46f8"/><rect x="432" y="250.7" width="22.5" height="22.4" fill="#1a41ee"/><rect x="454.2" y="250.7" width="22.5" height="22.4" fill="#1a46f8"/><rect x="476.3" y="250.7" width="22.5" height="22.4" fill="#1a41ee"/><rect x="498.4" y="250.7" width="22.5" height="22.4" fill="#1a41ee"/><rect x="520.5" y="250.7" width="22.5" height="22.4" fill="#1a4efc"/><rect x="542.6" y="250.7" width="22.5" height="22.4" fill="#1a4efc"/><rect x="564.8" y="250.7" width="22.5" height="22.4" fill="#1a4efc"/><rect x="586.9" y="250.7" width="22.5" height="22.4" fill="#1a4efc"/><rect x="609" y="250.7" width="22.5" height="22.4" fill="#1a54ff"/><rect x="631.1" y="250.7" width="22.5" height="22.4" fill="#1a54ff"/><rect x="653.2" y="250.7" width="22.5" height="22.4" fill="#2280ff"/><rect x="675.4" y="250.7" width="22.5" height="22.4" fill="#248cff"/><rect x="697.5" y="250.7" width="22.5" height="22.4" fill="#248cff"/><rect x="719.6" y="250.7" width="22.5" height="22.4" fill="#35edf6"/><rect x="741.7" y="250.7" width="22.5" height="22.4" fill="#5ef0ca"/><rect x="166.6" y="272.7" width="22.5" height="22.4" fill="#2aaaff"/><rect x="188.7" y="272.7" width="22.5" height="22.4" fill="#2aaaff"/><rect x="210.8" y="272.7" width="22.5" height="22.4" fill="#28a0ff"/><rect x="233" y="272.7" width="22.5" height="22.4" fill="#2280ff"/><rect x="255.1" y="272.7" width="22.5" height="22.4" fill="#2280ff"/><rect x="277.2" y="272.7" width="22.5" height="22.4" fill="#2280ff"/><rect x="299.3" y="272.7" width="22.5" height="22.4" fill="#1c5bff"/><rect x="321.4" y="272.7" width="22.5" height="22.4" fill="#1c5bff"/><rect x="343.6" y="272.7" width="22.5" height="22.4" fill="#1a54ff"/><rect x="365.7" y="272.7" width="22.5" height="22.4" fill="#1a4efc"/><rect x="387.8" y="272.7" width="22.5" height="22.4" fill="#1a4efc"/><rect x="409.9" y="272.7" width="22.5" height="22.4" fill="#1a4efc"/><rect x="432" y="272.7" width="22.5" height="22.4" fill="#1a4efc"/><rect x="454.2" y="272.7" width="22.5" height="22.4" fill="#1a54ff"/><rect x="476.3" y="272.7" width="22.5" height="22.4" fill="#1a54ff"/><rect x="498.4" y="272.7" width="22.5" height="22.4" fill="#1a54ff"/><rect x="520.5" y="272.7" width="22.5" height="22.4" fill="#1c5bff"/><rect x="542.6" y="272.7" width="22.5" height="22.4" fill="#1a54ff"/><rect x="564.8" y="272.7" width="22.5" height="22.4" fill="#1a4efc"/><rect x="586.9" y="272.7" width="22.5" height="22.4" fill="#1a46f8"/><rect x="609" y="272.7" width="22.5" height="22.4" fill="#1a54ff"/><rect x="631.1" y="272.7" width="22.5" height="22.4" fill="#1a54ff"/><rect x="653.2" y="272.7" width="22.5" height="22.4" fill="#2280ff"/><rect x="675.4" y="272.7" width="22.5" height="22.4" fill="#2aaaff"/><rect x="697.5" y="272.7" width="22.5" height="22.4" fill="#28a0ff"/><rect x="719.6" y="272.7" width="22.5" height="22.4" fill="#248cff"/><rect x="122.4" y="294.8" width="22.5" height="22.4" fill="#42f0e6"/><rect x="166.6" y="294.8" width="22.5" height="22.4" fill="#2bb3ff"/><rect x="188.7" y="294.8" width="22.5" height="22.4" fill="#2bb3ff"/><rect x="210.8" y="294.8" width="22.5" height="22.4" fill="#28a0ff"/><rect x="233" y="294.8" width="22.5" height="22.4" fill="#2280ff"/><rect x="255.1" y="294.8" width="22.5" height="22.4" fill="#2280ff"/><rect x="277.2" y="294.8" width="22.5" height="22.4" fill="#2280ff"/><rect x="299.3" y="294.8" width="22.5" height="22.4" fill="#1c5bff"/><rect x="321.4" y="294.8" width="22.5" height="22.4" fill="#1a54ff"/><rect x="343.6" y="294.8" width="22.5" height="22.4" fill="#1a54ff"/><rect x="365.7" y="294.8" width="22.5" height="22.4" fill="#1a4efc"/><rect x="387.8" y="294.8" width="22.5" height="22.4" fill="#1a4efc"/><rect x="409.9" y="294.8" width="22.5" height="22.4" fill="#1a4efc"/><rect x="432" y="294.8" width="22.5" height="22.4" fill="#1a4efc"/><rect x="454.2" y="294.8" width="22.5" height="22.4" fill="#1f71ff"/><rect x="476.3" y="294.8" width="22.5" height="22.4" fill="#1f71ff"/><rect x="498.4" y="294.8" width="22.5" height="22.4" fill="#1f71ff"/><rect x="520.5" y="294.8" width="22.5" height="22.4" fill="#1f71ff"/><rect x="542.6" y="294.8" width="22.5" height="22.4" fill="#1e66ff"/><rect x="564.8" y="294.8" width="22.5" height="22.4" fill="#1c5bff"/><rect x="586.9" y="294.8" width="22.5" height="22.4" fill="#1c5bff"/><rect x="609" y="294.8" width="22.5" height="22.4" fill="#1c5bff"/><rect x="631.1" y="294.8" width="22.5" height="22.4" fill="#1c5bff"/><rect x="653.2" y="294.8" width="22.5" height="22.4" fill="#2280ff"/><rect x="675.4" y="294.8" width="22.5" height="22.4" fill="#248cff"/><rect x="697.5" y="294.8" width="22.5" height="22.4" fill="#248cff"/><rect x="719.6" y="294.8" width="22.5" height="22.4" fill="#248cff"/><rect x="741.7" y="294.8" width="22.5" height="22.4" fill="#248cff"/><rect x="166.6" y="316.8" width="22.5" height="22.4" fill="#2bb3ff"/><rect x="188.7" y="316.8" width="22.5" height="22.4" fill="#2bb3ff"/><rect x="210.8" y="316.8" width="22.5" height="22.4" fill="#2aaaff"/><rect x="233" y="316.8" width="22.5" height="22.4" fill="#2280ff"/><rect x="255.1" y="316.8" width="22.5" height="22.4" fill="#2280ff"/><rect x="277.2" y="316.8" width="22.5" height="22.4" fill="#2280ff"/><rect x="299.3" y="316.8" width="22.5" height="22.4" fill="#1c5bff"/><rect x="321.4" y="316.8" width="22.5" height="22.4" fill="#1a54ff"/><rect x="343.6" y="316.8" width="22.5" height="22.4" fill="#1a54ff"/><rect x="365.7" y="316.8" width="22.5" height="22.4" fill="#1a54ff"/><rect x="387.8" y="316.8" width="22.5" height="22.4" fill="#1a54ff"/><rect x="409.9" y="316.8" width="22.5" height="22.4" fill="#1a54ff"/><rect x="432" y="316.8" width="22.5" height="22.4" fill="#1c5bff"/><rect x="454.2" y="316.8" width="22.5" height="22.4" fill="#1f71ff"/><rect x="476.3" y="316.8" width="22.5" height="22.4" fill="#1f71ff"/><rect x="498.4" y="316.8" width="22.5" height="22.4" fill="#2078ff"/><rect x="520.5" y="316.8" width="22.5" height="22.4" fill="#2078ff"/><rect x="542.6" y="316.8" width="22.5" height="22.4" fill="#1e66ff"/><rect x="564.8" y="316.8" width="22.5" height="22.4" fill="#1e66ff"/><rect x="586.9" y="316.8" width="22.5" height="22.4" fill="#1e66ff"/><rect x="609" y="316.8" width="22.5" height="22.4" fill="#1e66ff"/><rect x="631.1" y="316.8" width="22.5" height="22.4" fill="#1e66ff"/><rect x="653.2" y="316.8" width="22.5" height="22.4" fill="#2280ff"/><rect x="675.4" y="316.8" width="22.5" height="22.4" fill="#248cff"/><rect x="697.5" y="316.8" width="22.5" height="22.4" fill="#2cb8ff"/><rect x="719.6" y="316.8" width="22.5" height="22.4" fill="#2280ff"/><rect x="741.7" y="316.8" width="22.5" height="22.4" fill="#248cff"/><rect x="166.6" y="338.8" width="22.5" height="22.4" fill="#2bb3ff"/><rect x="188.7" y="338.8" width="22.5" height="22.4" fill="#2bb3ff"/><rect x="210.8" y="338.8" width="22.5" height="22.4" fill="#2aaaff"/><rect x="233" y="338.8" width="22.5" height="22.4" fill="#2078ff"/><rect x="255.1" y="338.8" width="22.5" height="22.4" fill="#2078ff"/><rect x="277.2" y="338.8" width="22.5" height="22.4" fill="#2078ff"/><rect x="299.3" y="338.8" width="22.5" height="22.4" fill="#1c5bff"/><rect x="321.4" y="338.8" width="22.5" height="22.4" fill="#1c5bff"/><rect x="343.6" y="338.8" width="22.5" height="22.4" fill="#1c5bff"/><rect x="365.7" y="338.8" width="22.5" height="22.4" fill="#1a54ff"/><rect x="387.8" y="338.8" width="22.5" height="22.4" fill="#1c5bff"/><rect x="409.9" y="338.8" width="22.5" height="22.4" fill="#1c5bff"/><rect x="432" y="338.8" width="22.5" height="22.4" fill="#1e66ff"/><rect x="454.2" y="338.8" width="22.5" height="22.4" fill="#1f71ff"/><rect x="476.3" y="338.8" width="22.5" height="22.4" fill="#2078ff"/><rect x="498.4" y="338.8" width="22.5" height="22.4" fill="#248cff"/><rect x="520.5" y="338.8" width="22.5" height="22.4" fill="#2388ff"/><rect x="542.6" y="338.8" width="22.5" height="22.4" fill="#1f71ff"/><rect x="564.8" y="338.8" width="22.5" height="22.4" fill="#1e66ff"/><rect x="586.9" y="338.8" width="22.5" height="22.4" fill="#1e66ff"/><rect x="609" y="338.8" width="22.5" height="22.4" fill="#1e66ff"/><rect x="631.1" y="338.8" width="22.5" height="22.4" fill="#1e66ff"/><rect x="653.2" y="338.8" width="22.5" height="22.4" fill="#1f71ff"/><rect x="675.4" y="338.8" width="22.5" height="22.4" fill="#1a4efc"/><rect x="697.5" y="338.8" width="22.5" height="22.4" fill="#1f71ff"/><rect x="719.6" y="338.8" width="22.5" height="22.4" fill="#1f71ff"/><rect x="741.7" y="338.8" width="22.5" height="22.4" fill="#1a38d0"/><rect x="166.6" y="360.9" width="22.5" height="22.4" fill="#2bb3ff"/><rect x="188.7" y="360.9" width="22.5" height="22.4" fill="#2bb3ff"/><rect x="210.8" y="360.9" width="22.5" height="22.4" fill="#2aaaff"/><rect x="233" y="360.9" width="22.5" height="22.4" fill="#1f71ff"/><rect x="255.1" y="360.9" width="22.5" height="22.4" fill="#2078ff"/><rect x="277.2" y="360.9" width="22.5" height="22.4" fill="#2078ff"/><rect x="299.3" y="360.9" width="22.5" height="22.4" fill="#1e66ff"/><rect x="321.4" y="360.9" width="22.5" height="22.4" fill="#1e66ff"/><rect x="343.6" y="360.9" width="22.5" height="22.4" fill="#1e66ff"/><rect x="365.7" y="360.9" width="22.5" height="22.4" fill="#1c5fff"/><rect x="387.8" y="360.9" width="22.5" height="22.4" fill="#1c5fff"/><rect x="409.9" y="360.9" width="22.5" height="22.4" fill="#1e66ff"/><rect x="432" y="360.9" width="22.5" height="22.4" fill="#1e66ff"/><rect x="454.2" y="360.9" width="22.5" height="22.4" fill="#1f71ff"/><rect x="476.3" y="360.9" width="22.5" height="22.4" fill="#2078ff"/><rect x="498.4" y="360.9" width="22.5" height="22.4" fill="#2388ff"/><rect x="520.5" y="360.9" width="22.5" height="22.4" fill="#248cff"/><rect x="542.6" y="360.9" width="22.5" height="22.4" fill="#2078ff"/><rect x="564.8" y="360.9" width="22.5" height="22.4" fill="#2280ff"/><rect x="586.9" y="360.9" width="22.5" height="22.4" fill="#2280ff"/><rect x="609" y="360.9" width="22.5" height="22.4" fill="#2074ff"/><rect x="631.1" y="360.9" width="22.5" height="22.4" fill="#2074ff"/><rect x="653.2" y="360.9" width="22.5" height="22.4" fill="#2078ff"/><rect x="675.4" y="360.9" width="22.5" height="22.4" fill="#1f71ff"/><rect x="697.5" y="360.9" width="22.5" height="22.4" fill="#1c5bff"/><rect x="719.6" y="360.9" width="22.5" height="22.4" fill="#1c5bff"/><rect x="741.7" y="360.9" width="22.5" height="22.4" fill="#1a30ae"/><rect x="166.6" y="382.9" width="22.5" height="22.4" fill="#2bb3ff"/><rect x="188.7" y="382.9" width="22.5" height="22.4" fill="#2bb3ff"/><rect x="210.8" y="382.9" width="22.5" height="22.4" fill="#2aaaff"/><rect x="233" y="382.9" width="22.5" height="22.4" fill="#1e66ff"/><rect x="255.1" y="382.9" width="22.5" height="22.4" fill="#1f71ff"/><rect x="277.2" y="382.9" width="22.5" height="22.4" fill="#1f71ff"/><rect x="299.3" y="382.9" width="22.5" height="22.4" fill="#1e66ff"/><rect x="321.4" y="382.9" width="22.5" height="22.4" fill="#1e66ff"/><rect x="343.6" y="382.9" width="22.5" height="22.4" fill="#1e66ff"/><rect x="365.7" y="382.9" width="22.5" height="22.4" fill="#1c5fff"/><rect x="387.8" y="382.9" width="22.5" height="22.4" fill="#1c5fff"/><rect x="409.9" y="382.9" width="22.5" height="22.4" fill="#1e66ff"/><rect x="432" y="382.9" width="22.5" height="22.4" fill="#1e66ff"/><rect x="454.2" y="382.9" width="22.5" height="22.4" fill="#1e66ff"/><rect x="476.3" y="382.9" width="22.5" height="22.4" fill="#1d62ff"/><rect x="498.4" y="382.9" width="22.5" height="22.4" fill="#248cff"/><rect x="520.5" y="382.9" width="22.5" height="22.4" fill="#248cff"/><rect x="542.6" y="382.9" width="22.5" height="22.4" fill="#2284ff"/><rect x="564.8" y="382.9" width="22.5" height="22.4" fill="#248cff"/><rect x="586.9" y="382.9" width="22.5" height="22.4" fill="#248cff"/><rect x="609" y="382.9" width="22.5" height="22.4" fill="#2078ff"/><rect x="631.1" y="382.9" width="22.5" height="22.4" fill="#2280ff"/><rect x="653.2" y="382.9" width="22.5" height="22.4" fill="#2280ff"/><rect x="675.4" y="382.9" width="22.5" height="22.4" fill="#2280ff"/><rect x="697.5" y="382.9" width="22.5" height="22.4" fill="#1e66ff"/><rect x="719.6" y="382.9" width="22.5" height="22.4" fill="#1a38d0"/><rect x="741.7" y="382.9" width="22.5" height="22.4" fill="#1a3cde"/><rect x="763.8" y="382.9" width="22.5" height="22.4" fill="#1a30ae"/><rect x="188.7" y="405" width="22.5" height="22.4" fill="#68f0c0"/><rect x="210.8" y="405" width="22.5" height="22.4" fill="#68f0c0"/><rect x="233" y="405" width="22.5" height="22.4" fill="#28a0ff"/><rect x="255.1" y="405" width="22.5" height="22.4" fill="#28a0ff"/><rect x="277.2" y="405" width="22.5" height="22.4" fill="#28a0ff"/><rect x="299.3" y="405" width="22.5" height="22.4" fill="#2078ff"/><rect x="321.4" y="405" width="22.5" height="22.4" fill="#2078ff"/><rect x="343.6" y="405" width="22.5" height="22.4" fill="#2078ff"/><rect x="365.7" y="405" width="22.5" height="22.4" fill="#2078ff"/><rect x="387.8" y="405" width="22.5" height="22.4" fill="#2078ff"/><rect x="409.9" y="405" width="22.5" height="22.4" fill="#1f71ff"/><rect x="432" y="405" width="22.5" height="22.4" fill="#1f71ff"/><rect x="454.2" y="405" width="22.5" height="22.4" fill="#1f71ff"/><rect x="476.3" y="405" width="22.5" height="22.4" fill="#1f71ff"/><rect x="498.4" y="405" width="22.5" height="22.4" fill="#2280ff"/><rect x="520.5" y="405" width="22.5" height="22.4" fill="#2280ff"/><rect x="542.6" y="405" width="22.5" height="22.4" fill="#2280ff"/><rect x="564.8" y="405" width="22.5" height="22.4" fill="#248cff"/><rect x="586.9" y="405" width="22.5" height="22.4" fill="#248cff"/><rect x="609" y="405" width="22.5" height="22.4" fill="#2280ff"/><rect x="631.1" y="405" width="22.5" height="22.4" fill="#248cff"/><rect x="653.2" y="405" width="22.5" height="22.4" fill="#248cff"/><rect x="675.4" y="405" width="22.5" height="22.4" fill="#2280ff"/><rect x="697.5" y="405" width="22.5" height="22.4" fill="#1e66ff"/><rect x="719.6" y="405" width="22.5" height="22.4" fill="#1a3cde"/><rect x="741.7" y="405" width="22.5" height="22.4" fill="#1a34c2"/><rect x="210.8" y="427" width="22.5" height="22.4" fill="#68f0c0"/><rect x="233" y="427" width="22.5" height="22.4" fill="#28a0ff"/><rect x="255.1" y="427" width="22.5" height="22.4" fill="#28a0ff"/><rect x="277.2" y="427" width="22.5" height="22.4" fill="#28a0ff"/><rect x="299.3" y="427" width="22.5" height="22.4" fill="#2078ff"/><rect x="321.4" y="427" width="22.5" height="22.4" fill="#2078ff"/><rect x="343.6" y="427" width="22.5" height="22.4" fill="#2078ff"/><rect x="365.7" y="427" width="22.5" height="22.4" fill="#2078ff"/><rect x="387.8" y="427" width="22.5" height="22.4" fill="#2078ff"/><rect x="409.9" y="427" width="22.5" height="22.4" fill="#1f71ff"/><rect x="432" y="427" width="22.5" height="22.4" fill="#1f71ff"/><rect x="454.2" y="427" width="22.5" height="22.4" fill="#1e66ff"/><rect x="476.3" y="427" width="22.5" height="22.4" fill="#2078ff"/><rect x="498.4" y="427" width="22.5" height="22.4" fill="#1f71ff"/><rect x="520.5" y="427" width="22.5" height="22.4" fill="#1e66ff"/><rect x="542.6" y="427" width="22.5" height="22.4" fill="#1f6dff"/><rect x="564.8" y="427" width="22.5" height="22.4" fill="#2280ff"/><rect x="586.9" y="427" width="22.5" height="22.4" fill="#2280ff"/><rect x="609" y="427" width="22.5" height="22.4" fill="#2280ff"/><rect x="631.1" y="427" width="22.5" height="22.4" fill="#248cff"/><rect x="653.2" y="427" width="22.5" height="22.4" fill="#1f71ff"/><rect x="675.4" y="427" width="22.5" height="22.4" fill="#2280ff"/><rect x="697.5" y="427" width="22.5" height="22.4" fill="#1e66ff"/><rect x="719.6" y="427" width="22.5" height="22.4" fill="#1a3ee8"/><rect x="741.7" y="427" width="22.5" height="22.4" fill="#1a38d0"/><rect x="233" y="449" width="22.5" height="22.4" fill="#35edf6"/><rect x="255.1" y="449" width="22.5" height="22.4" fill="#30d0ff"/><rect x="277.2" y="449" width="22.5" height="22.4" fill="#2cb8ff"/><rect x="299.3" y="449" width="22.5" height="22.4" fill="#2280ff"/><rect x="321.4" y="449" width="22.5" height="22.4" fill="#2280ff"/><rect x="343.6" y="449" width="22.5" height="22.4" fill="#2280ff"/><rect x="365.7" y="449" width="22.5" height="22.4" fill="#2078ff"/><rect x="387.8" y="449" width="22.5" height="22.4" fill="#2078ff"/><rect x="409.9" y="449" width="22.5" height="22.4" fill="#1f71ff"/><rect x="432" y="449" width="22.5" height="22.4" fill="#1e66ff"/><rect x="454.2" y="449" width="22.5" height="22.4" fill="#2078ff"/><rect x="476.3" y="449" width="22.5" height="22.4" fill="#1f71ff"/><rect x="498.4" y="449" width="22.5" height="22.4" fill="#1e66ff"/><rect x="520.5" y="449" width="22.5" height="22.4" fill="#1e66ff"/><rect x="542.6" y="449" width="22.5" height="22.4" fill="#1e66ff"/><rect x="564.8" y="449" width="22.5" height="22.4" fill="#1f71ff"/><rect x="586.9" y="449" width="22.5" height="22.4" fill="#1e66ff"/><rect x="609" y="449" width="22.5" height="22.4" fill="#2280ff"/><rect x="631.1" y="449" width="22.5" height="22.4" fill="#248cff"/><rect x="653.2" y="449" width="22.5" height="22.4" fill="#248cff"/><rect x="675.4" y="449" width="22.5" height="22.4" fill="#2280ff"/><rect x="697.5" y="449" width="22.5" height="22.4" fill="#2078ff"/><rect x="719.6" y="449" width="22.5" height="22.4" fill="#1a4efc"/><rect x="741.7" y="449" width="22.5" height="22.4" fill="#1a3cde"/><rect x="233" y="471.1" width="22.5" height="22.4" fill="#35edf6"/><rect x="255.1" y="471.1" width="22.5" height="22.4" fill="#30daff"/><rect x="277.2" y="471.1" width="22.5" height="22.4" fill="#2cb8ff"/><rect x="299.3" y="471.1" width="22.5" height="22.4" fill="#2388ff"/><rect x="321.4" y="471.1" width="22.5" height="22.4" fill="#248cff"/><rect x="343.6" y="471.1" width="22.5" height="22.4" fill="#2280ff"/><rect x="365.7" y="471.1" width="22.5" height="22.4" fill="#2074ff"/><rect x="387.8" y="471.1" width="22.5" height="22.4" fill="#2074ff"/><rect x="409.9" y="471.1" width="22.5" height="22.4" fill="#1f6dff"/><rect x="432" y="471.1" width="22.5" height="22.4" fill="#1f71ff"/><rect x="454.2" y="471.1" width="22.5" height="22.4" fill="#2078ff"/><rect x="476.3" y="471.1" width="22.5" height="22.4" fill="#1e66ff"/><rect x="498.4" y="471.1" width="22.5" height="22.4" fill="#1c5fff"/><rect x="520.5" y="471.1" width="22.5" height="22.4" fill="#1c5fff"/><rect x="542.6" y="471.1" width="22.5" height="22.4" fill="#1c5fff"/><rect x="564.8" y="471.1" width="22.5" height="22.4" fill="#1c5fff"/><rect x="586.9" y="471.1" width="22.5" height="22.4" fill="#1c5fff"/><rect x="609" y="471.1" width="22.5" height="22.4" fill="#1e66ff"/><rect x="631.1" y="471.1" width="22.5" height="22.4" fill="#1f71ff"/><rect x="653.2" y="471.1" width="22.5" height="22.4" fill="#2280ff"/><rect x="675.4" y="471.1" width="22.5" height="22.4" fill="#248cff"/><rect x="697.5" y="471.1" width="22.5" height="22.4" fill="#2280ff"/><rect x="719.6" y="471.1" width="22.5" height="22.4" fill="#1e66ff"/><rect x="741.7" y="471.1" width="22.5" height="22.4" fill="#1a41ee"/><rect x="299.3" y="493.1" width="22.5" height="22.4" fill="#35edf6"/><rect x="321.4" y="493.1" width="22.5" height="22.4" fill="#35edf6"/><rect x="343.6" y="493.1" width="22.5" height="22.4" fill="#30e8ff"/><rect x="365.7" y="493.1" width="22.5" height="22.4" fill="#2aaaff"/><rect x="387.8" y="493.1" width="22.5" height="22.4" fill="#28a0ff"/><rect x="409.9" y="493.1" width="22.5" height="22.4" fill="#28a0ff"/><rect x="432" y="493.1" width="22.5" height="22.4" fill="#2aaaff"/><rect x="454.2" y="493.1" width="22.5" height="22.4" fill="#2aaaff"/><rect x="476.3" y="493.1" width="22.5" height="22.4" fill="#1c5bff"/><rect x="498.4" y="493.1" width="22.5" height="22.4" fill="#1a54ff"/><rect x="520.5" y="493.1" width="22.5" height="22.4" fill="#1a54ff"/><rect x="542.6" y="493.1" width="22.5" height="22.4" fill="#1a54ff"/><rect x="564.8" y="493.1" width="22.5" height="22.4" fill="#1a54ff"/><rect x="586.9" y="493.1" width="22.5" height="22.4" fill="#1a54ff"/><rect x="609" y="493.1" width="22.5" height="22.4" fill="#1c5bff"/><rect x="631.1" y="493.1" width="22.5" height="22.4" fill="#1c5bff"/><rect x="653.2" y="493.1" width="22.5" height="22.4" fill="#2280ff"/><rect x="675.4" y="493.1" width="22.5" height="22.4" fill="#2280ff"/><rect x="697.5" y="493.1" width="22.5" height="22.4" fill="#1e66ff"/><rect x="719.6" y="493.1" width="22.5" height="22.4" fill="#1c5bff"/><rect x="741.7" y="493.1" width="22.5" height="22.4" fill="#1a4efc"/><rect x="299.3" y="515.2" width="22.5" height="22.4" fill="#2ec6ff"/><rect x="321.4" y="515.2" width="22.5" height="22.4" fill="#42f0e6"/><rect x="343.6" y="515.2" width="22.5" height="22.4" fill="#30e8ff"/><rect x="365.7" y="515.2" width="22.5" height="22.4" fill="#2aaaff"/><rect x="387.8" y="515.2" width="22.5" height="22.4" fill="#2aaaff"/><rect x="409.9" y="515.2" width="22.5" height="22.4" fill="#2aaaff"/><rect x="432" y="515.2" width="22.5" height="22.4" fill="#2aaaff"/><rect x="454.2" y="515.2" width="22.5" height="22.4" fill="#28a0ff"/><rect x="476.3" y="515.2" width="22.5" height="22.4" fill="#1c5bff"/><rect x="498.4" y="515.2" width="22.5" height="22.4" fill="#1c5bff"/><rect x="520.5" y="515.2" width="22.5" height="22.4" fill="#1c5bff"/><rect x="542.6" y="515.2" width="22.5" height="22.4" fill="#1a4efc"/><rect x="564.8" y="515.2" width="22.5" height="22.4" fill="#1a46f8"/><rect x="586.9" y="515.2" width="22.5" height="22.4" fill="#1a46f8"/><rect x="609" y="515.2" width="22.5" height="22.4" fill="#1a46f8"/><rect x="631.1" y="515.2" width="22.5" height="22.4" fill="#1a46f8"/><rect x="653.2" y="515.2" width="22.5" height="22.4" fill="#1a4efc"/><rect x="675.4" y="515.2" width="22.5" height="22.4" fill="#1a54ff"/><rect x="697.5" y="515.2" width="22.5" height="22.4" fill="#2280ff"/><rect x="719.6" y="515.2" width="22.5" height="22.4" fill="#248cff"/><rect x="741.7" y="515.2" width="22.5" height="22.4" fill="#1a4efc"/><rect x="299.3" y="537.2" width="22.5" height="22.4" fill="#5ef0ca"/><rect x="321.4" y="537.2" width="22.5" height="22.4" fill="#2cb8ff"/><rect x="343.6" y="537.2" width="22.5" height="22.4" fill="#30e8ff"/><rect x="365.7" y="537.2" width="22.5" height="22.4" fill="#2aaaff"/><rect x="387.8" y="537.2" width="22.5" height="22.4" fill="#2aaaff"/><rect x="409.9" y="537.2" width="22.5" height="22.4" fill="#2aaaff"/><rect x="432" y="537.2" width="22.5" height="22.4" fill="#2aaaff"/><rect x="454.2" y="537.2" width="22.5" height="22.4" fill="#28a0ff"/><rect x="476.3" y="537.2" width="22.5" height="22.4" fill="#1a54ff"/><rect x="498.4" y="537.2" width="22.5" height="22.4" fill="#1a54ff"/><rect x="520.5" y="537.2" width="22.5" height="22.4" fill="#1a54ff"/><rect x="542.6" y="537.2" width="22.5" height="22.4" fill="#1a4efc"/><rect x="564.8" y="537.2" width="22.5" height="22.4" fill="#1a46f8"/><rect x="586.9" y="537.2" width="22.5" height="22.4" fill="#1a46f8"/><rect x="609" y="537.2" width="22.5" height="22.4" fill="#1a41ee"/><rect x="631.1" y="537.2" width="22.5" height="22.4" fill="#1a46f8"/><rect x="653.2" y="537.2" width="22.5" height="22.4" fill="#1a4efc"/><rect x="675.4" y="537.2" width="22.5" height="22.4" fill="#1a4efc"/><rect x="697.5" y="537.2" width="22.5" height="22.4" fill="#1e66ff"/><rect x="719.6" y="537.2" width="22.5" height="22.4" fill="#1e66ff"/><rect x="741.7" y="537.2" width="22.5" height="22.4" fill="#1a4efc"/><rect x="321.4" y="559.2" width="22.5" height="22.4" fill="#30e8ff"/><rect x="343.6" y="559.2" width="22.5" height="22.4" fill="#30e8ff"/><rect x="365.7" y="559.2" width="22.5" height="22.4" fill="#2aaaff"/><rect x="387.8" y="559.2" width="22.5" height="22.4" fill="#2aaaff"/><rect x="409.9" y="559.2" width="22.5" height="22.4" fill="#2aaaff"/><rect x="432" y="559.2" width="22.5" height="22.4" fill="#2aaaff"/><rect x="454.2" y="559.2" width="22.5" height="22.4" fill="#2aaaff"/><rect x="476.3" y="559.2" width="22.5" height="22.4" fill="#1a4efc"/><rect x="498.4" y="559.2" width="22.5" height="22.4" fill="#1a4efc"/><rect x="520.5" y="559.2" width="22.5" height="22.4" fill="#1a4efc"/><rect x="542.6" y="559.2" width="22.5" height="22.4" fill="#1a46f8"/><rect x="564.8" y="559.2" width="22.5" height="22.4" fill="#1a41ee"/><rect x="586.9" y="559.2" width="22.5" height="22.4" fill="#1a46f8"/><rect x="609" y="559.2" width="22.5" height="22.4" fill="#1a41ee"/><rect x="631.1" y="559.2" width="22.5" height="22.4" fill="#1a46f8"/><rect x="653.2" y="559.2" width="22.5" height="22.4" fill="#1a46f8"/><rect x="675.4" y="559.2" width="22.5" height="22.4" fill="#1a4efc"/><rect x="697.5" y="559.2" width="22.5" height="22.4" fill="#1c5bff"/><rect x="719.6" y="559.2" width="22.5" height="22.4" fill="#1c5bff"/><rect x="741.7" y="559.2" width="22.5" height="22.4" fill="#1a4efc"/><rect x="365.7" y="581.3" width="22.5" height="22.4" fill="#35edf6"/><rect x="387.8" y="581.3" width="22.5" height="22.4" fill="#35edf6"/><rect x="409.9" y="581.3" width="22.5" height="22.4" fill="#2cb8ff"/><rect x="432" y="581.3" width="22.5" height="22.4" fill="#2aaaff"/><rect x="454.2" y="581.3" width="22.5" height="22.4" fill="#2aaaff"/><rect x="476.3" y="581.3" width="22.5" height="22.4" fill="#2aaaff"/><rect x="498.4" y="581.3" width="22.5" height="22.4" fill="#28a0ff"/><rect x="520.5" y="581.3" width="22.5" height="22.4" fill="#28a0ff"/><rect x="542.6" y="581.3" width="22.5" height="22.4" fill="#28a0ff"/><rect x="564.8" y="581.3" width="22.5" height="22.4" fill="#2698ff"/><rect x="586.9" y="581.3" width="22.5" height="22.4" fill="#2698ff"/><rect x="609" y="581.3" width="22.5" height="22.4" fill="#248cff"/><rect x="631.1" y="581.3" width="22.5" height="22.4" fill="#248cff"/><rect x="653.2" y="581.3" width="22.5" height="22.4" fill="#248cff"/><rect x="675.4" y="581.3" width="22.5" height="22.4" fill="#1c5bff"/><rect x="697.5" y="581.3" width="22.5" height="22.4" fill="#1c5bff"/><rect x="719.6" y="581.3" width="22.5" height="22.4" fill="#1c5bff"/><rect x="741.7" y="581.3" width="22.5" height="22.4" fill="#1a54ff"/><rect x="409.9" y="603.3" width="22.5" height="22.4" fill="#2cb8ff"/><rect x="432" y="603.3" width="22.5" height="22.4" fill="#2cb8ff"/><rect x="454.2" y="603.3" width="22.5" height="22.4" fill="#2078ff"/><rect x="476.3" y="603.3" width="22.5" height="22.4" fill="#2aaaff"/><rect x="498.4" y="603.3" width="22.5" height="22.4" fill="#2aaaff"/><rect x="520.5" y="603.3" width="22.5" height="22.4" fill="#2aaaff"/><rect x="542.6" y="603.3" width="22.5" height="22.4" fill="#28a0ff"/><rect x="564.8" y="603.3" width="22.5" height="22.4" fill="#28a0ff"/><rect x="586.9" y="603.3" width="22.5" height="22.4" fill="#2698ff"/><rect x="609" y="603.3" width="22.5" height="22.4" fill="#248cff"/><rect x="631.1" y="603.3" width="22.5" height="22.4" fill="#248cff"/><rect x="653.2" y="603.3" width="22.5" height="22.4" fill="#248cff"/><rect x="675.4" y="603.3" width="22.5" height="22.4" fill="#1a54ff"/><rect x="697.5" y="603.3" width="22.5" height="22.4" fill="#1c5bff"/><rect x="719.6" y="603.3" width="22.5" height="22.4" fill="#1c5bff"/><rect x="432" y="625.4" width="22.5" height="22.4" fill="#2aaaff"/><rect x="454.2" y="625.4" width="22.5" height="22.4" fill="#28a0ff"/><rect x="476.3" y="625.4" width="22.5" height="22.4" fill="#1f71ff"/><rect x="498.4" y="625.4" width="22.5" height="22.4" fill="#1f71ff"/><rect x="520.5" y="625.4" width="22.5" height="22.4" fill="#2280ff"/><rect x="542.6" y="625.4" width="22.5" height="22.4" fill="#28a0ff"/><rect x="564.8" y="625.4" width="22.5" height="22.4" fill="#28a0ff"/><rect x="586.9" y="625.4" width="22.5" height="22.4" fill="#248cff"/><rect x="609" y="625.4" width="22.5" height="22.4" fill="#248cff"/><rect x="631.1" y="625.4" width="22.5" height="22.4" fill="#248cff"/><rect x="653.2" y="625.4" width="22.5" height="22.4" fill="#248cff"/><rect x="675.4" y="625.4" width="22.5" height="22.4" fill="#1a54ff"/><rect x="697.5" y="625.4" width="22.5" height="22.4" fill="#1c5bff"/><rect x="719.6" y="625.4" width="22.5" height="22.4" fill="#1c5bff"/></g><text x="351" y="24" font-family="Liberation Sans" font-weight="bold" font-size="14.5" fill="#000" fill-opacity="0.13">Hokkaido AOBB Site</text><text x="359" y="37" font-family="Liberation Sans" font-size="10.5" fill="#900" fill-opacity="0.15">42MHz SeaSonde Measurements</text><g stroke="#111" stroke-width="1.05" fill="none" stroke-linejoin="miter"><path d="M385.9 20.4L402.5 18.9M411.8 18.1L402.8 22.1L402.2 15.8Z"/><path d="M408 20.4L424.6 18.9M433.9 18.1L424.9 22.1L424.3 15.8Z"/><path d="M430.1 20.4L446.7 18.9M456.1 18.1L447 22.1L446.4 15.8Z"/><path d="M452.3 20.4L468.8 18.9M478.2 18.1L469.1 22.1L468.6 15.8Z"/><path d="M474.4 20.4L491 18.9M500.3 18.1L491.2 22.1L490.7 15.8Z"/><path d="M491.5 20.2L517.9 18.8M527.4 18.3L518.1 22L517.8 15.6Z"/><path d="M513.6 20.2L540.1 18.8M549.6 18.3L540.2 22L539.9 15.6Z"/><path d="M341.7 42.4L358.2 41M367.6 40.2L358.5 44.2L358 37.8Z"/><path d="M363.8 42.4L380.4 41M389.7 40.2L380.6 44.2L380.1 37.8Z"/><path d="M385.9 42.4L402.5 41M411.8 40.2L402.8 44.2L402.2 37.8Z"/><path d="M408 42.4L424.6 41M433.9 40.2L424.9 44.2L424.3 37.8Z"/><path d="M430.1 42.4L446.7 41M456.1 40.2L447 44.2L446.4 37.8Z"/><path d="M452.3 42.4L468.8 41M478.2 40.2L469.1 44.2L468.6 37.8Z"/><path d="M474.4 42.4L491 41M500.3 40.2L491.2 44.2L490.7 37.8Z"/><path d="M496.5 42.4L513.1 41M522.4 40.2L513.4 44.2L512.8 37.8Z"/><path d="M513.6 42.2L540.1 40.9M549.6 40.4L540.2 44.1L539.9 37.6Z"/><path d="M535.7 42.2L562.2 40.9M571.7 40.4L562.4 44.1L562 37.6Z"/><path d="M300.2 68.7L313.2 61.8M320.5 57.9L314.5 64.3L311.9 59.3Z"/><path d="M321.9 67.8L335.5 62.1M343.1 58.8L336.6 64.7L334.4 59.5Z"/><path d="M343.7 66.9L357.7 62.3M365.6 59.8L358.6 65L356.8 59.7Z"/><path d="M365.5 65.9L379.9 62.6M387.9 60.8L380.5 65.4L379.2 59.9Z"/><path d="M385.9 64L402.5 63.1M411.8 62.7L402.7 66.3L402.3 60Z"/><path d="M408 64L424.6 63.1M434 62.7L424.8 66.3L424.4 60Z"/><path d="M430.1 64L446.7 63.1M456.1 62.7L446.9 66.3L446.6 60Z"/><path d="M452.2 64L468.9 63.1M478.2 62.7L469 66.3L468.7 60Z"/><path d="M474.4 64L491 63.1M500.3 62.7L491.1 66.3L490.8 60Z"/><path d="M496.5 64L513.1 63.1M522.4 62.7L513.3 66.3L512.9 60Z"/><path d="M518.6 64L535.2 63.1M544.6 62.7L535.4 66.3L535 60Z"/><path d="M535.7 64.3L562.2 62.9M571.7 62.4L562.4 66.1L562 59.7Z"/><path d="M557.8 64.3L584.3 62.9M593.8 62.4L584.5 66.1L584.1 59.7Z"/><path d="M256 90.8L269 83.9M276.3 80L270.3 86.4L267.7 81.4Z"/><path d="M278.1 90.8L291.1 83.9M298.4 80L292.4 86.4L289.8 81.4Z"/><path d="M300.2 90.8L313.2 83.9M320.5 80L314.5 86.4L311.9 81.4Z"/><path d="M321.9 89.9L335.5 84.1M343.1 80.9L336.6 86.7L334.4 81.5Z"/><path d="M343.7 88.9L357.7 84.4M365.6 81.8L358.6 87.1L356.8 81.7Z"/><path d="M365.5 88L379.9 84.7M387.9 82.8L380.5 87.4L379.2 81.9Z"/><path d="M386.9 86.2L402.2 85.1M410.8 84.5L402.4 88.1L402 82.2Z"/><path d="M409 86.2L424.3 85.1M433 84.5L424.5 88.1L424.1 82.2Z"/><path d="M431.1 86.2L446.5 85.1M455.1 84.5L446.7 88.1L446.2 82.2Z"/><path d="M453.2 86.2L468.6 85.1M477.2 84.5L468.8 88.1L468.4 82.2Z"/><path d="M475.4 86.2L490.7 85.1M499.3 84.5L490.9 88.1L490.5 82.2Z"/><path d="M497.5 86.2L512.8 85.1M521.4 84.5L513 88.1L512.6 82.2Z"/><path d="M519.6 86.2L534.9 85.1M543.6 84.5L535.1 88.1L534.7 82.2Z"/><path d="M541.7 86.2L557.1 85.1M565.7 84.5L557.3 88.1L556.8 82.2Z"/><path d="M563.8 86.2L579.2 85.1M587.8 84.5L579.4 88.1L579 82.2Z"/><path d="M586 86.2L601.3 85.1M609.9 84.5L601.5 88.1L601.1 82.2Z"/><path d="M602.1 86.3L628.5 84.9M638 84.4L628.7 88.2L628.4 81.7Z"/><path d="M624.2 86.3L650.7 84.9M660.2 84.4L650.8 88.2L650.5 81.7Z"/><path d="M233.9 112.8L246.9 105.9M254.2 102L248.2 108.4L245.5 103.4Z"/><path d="M256 112.8L269 105.9M276.3 102L270.3 108.4L267.7 103.4Z"/><path d="M278.1 112.8L291.1 105.9M298.4 102L292.4 108.4L289.8 103.4Z"/><path d="M300.2 112.8L313.2 105.9M320.5 102L314.5 108.4L311.9 103.4Z"/><path d="M321.9 111.9L335.5 106.2M343.1 102.9L336.6 108.8L334.4 103.6Z"/><path d="M343.7 111L357.7 106.4M365.6 103.9L358.6 109.1L356.8 103.7Z"/><path d="M365.5 110L379.9 106.7M387.9 104.8L380.5 109.4L379.2 104Z"/><path d="M386.9 108.3L402.2 107.2M410.8 106.6L402.4 110.1L402 104.3Z"/><path d="M409 108.3L424.3 107.2M433 106.6L424.5 110.1L424.1 104.3Z"/><path d="M431.1 108.3L446.5 107.2M455.1 106.6L446.7 110.1L446.2 104.3Z"/><path d="M453.2 108.3L468.6 107.2M477.2 106.6L468.8 110.1L468.4 104.3Z"/><path d="M475.4 108.3L490.7 107.2M499.3 106.6L490.9 110.1L490.5 104.3Z"/><path d="M497.5 108.3L512.8 107.2M521.4 106.6L513 110.1L512.6 104.3Z"/><path d="M519.6 108.3L534.9 107.2M543.6 106.6L535.1 110.1L534.7 104.3Z"/><path d="M541.7 108.3L557.1 107.2M565.7 106.6L557.3 110.1L556.8 104.3Z"/><path d="M563.8 108.3L579.2 107.2M587.8 106.6L579.4 110.1L579 104.3Z"/><path d="M586 108.3L601.3 107.2M609.9 106.6L601.5 110.1L601.1 104.3Z"/><path d="M608.1 108.3L623.4 107.2M632 106.6L623.6 110.1L623.2 104.3Z"/><path d="M624.2 108.4L650.7 107M660.2 106.5L650.8 110.2L650.5 103.7Z"/><path d="M646.3 108.4L672.8 107M682.3 106.5L673 110.2L672.6 103.7Z"/><path d="M211.7 134.9L224.7 127.9M232.1 124.1L226.1 130.4L223.4 125.5Z"/><path d="M233.9 134.9L246.9 127.9M254.2 124.1L248.2 130.4L245.5 125.5Z"/><path d="M256 134.9L269 127.9M276.3 124.1L270.3 130.4L267.7 125.5Z"/><path d="M278.1 134.9L291.1 127.9M298.4 124.1L292.4 130.4L289.8 125.5Z"/><path d="M300.2 134.9L313.2 127.9M320.5 124.1L314.5 130.4L311.9 125.5Z"/><path d="M321.9 134L335.5 128.2M343.1 125L336.6 130.8L334.4 125.6Z"/><path d="M343.7 133L357.7 128.5M365.6 125.9L358.6 131.1L356.8 125.8Z"/><path d="M365.5 132L379.9 128.7M387.9 126.9L380.5 131.5L379.2 126Z"/><path d="M386.9 130.3L402.2 129.2M410.8 128.6L402.4 132.2L402 126.3Z"/><path d="M409 130.3L424.3 129.2M433 128.6L424.5 132.2L424.1 126.3Z"/><path d="M431.1 130.3L446.5 129.2M455.1 128.6L446.7 132.2L446.2 126.3Z"/><path d="M453.2 130.3L468.6 129.2M477.2 128.6L468.8 132.2L468.4 126.3Z"/><path d="M475.4 130.3L490.7 129.2M499.3 128.6L490.9 132.2L490.5 126.3Z"/><path d="M497.5 130.3L512.8 129.2M521.4 128.6L513 132.2L512.6 126.3Z"/><path d="M519.6 130.3L534.9 129.2M543.6 128.6L535.1 132.2L534.7 126.3Z"/><path d="M541.7 130.3L557.1 129.2M565.7 128.6L557.3 132.2L556.8 126.3Z"/><path d="M563.8 130.3L579.2 129.2M587.8 128.6L579.4 132.2L579 126.3Z"/><path d="M586 130.3L601.3 129.2M609.9 128.6L601.5 132.2L601.1 126.3Z"/><path d="M608.1 130.3L623.4 129.2M632 128.6L623.6 132.2L623.2 126.3Z"/><path d="M630.2 130.3L645.5 129.2M654.2 128.6L645.7 132.2L645.3 126.3Z"/><path d="M646.3 130.4L672.8 129M682.3 128.5L673 132.2L672.6 125.8Z"/><path d="M681.4 129.6L687.8 129.4M691.4 129.3L687.9 130.6L687.8 128.2Z"/><path d="M189.6 156.9L202.6 150M209.9 146.1L203.9 152.5L201.3 147.5Z"/><path d="M211.7 156.9L224.7 150M232.1 146.1L226.1 152.5L223.4 147.5Z"/><path d="M233.9 156.9L246.9 150M254.2 146.1L248.2 152.5L245.5 147.5Z"/><path d="M256 156.9L269 150M276.3 146.1L270.3 152.5L267.7 147.5Z"/><path d="M278.1 156.9L291.1 150M298.4 146.1L292.4 152.5L289.8 147.5Z"/><path d="M300.2 156.9L313.2 150M320.5 146.1L314.5 152.5L311.9 147.5Z"/><path d="M321.9 156L335.5 150.2M343.1 147L336.6 152.8L334.4 147.7Z"/><path d="M343.7 155.1L357.7 150.5M365.6 147.9L358.6 153.2L356.8 147.8Z"/><path d="M365.5 154.1L379.9 150.8M387.9 148.9L380.5 153.5L379.2 148Z"/><path d="M386.9 152.3L402.2 151.3M410.8 150.7L402.4 154.2L402 148.3Z"/><path d="M409 152.3L424.3 151.3M433 150.7L424.5 154.2L424.1 148.3Z"/><path d="M431.1 152.3L446.5 151.3M455.1 150.7L446.7 154.2L446.2 148.3Z"/><path d="M453.2 152.3L468.6 151.3M477.2 150.7L468.8 154.2L468.4 148.3Z"/><path d="M475.4 152.3L490.7 151.3M499.3 150.7L490.9 154.2L490.5 148.3Z"/><path d="M497.5 152.3L512.8 151.3M521.4 150.7L513 154.2L512.6 148.3Z"/><path d="M519.6 152.3L534.9 151.3M543.6 150.7L535.1 154.2L534.7 148.3Z"/><path d="M541.7 152.3L557.1 151.3M565.7 150.7L557.3 154.2L556.8 148.3Z"/><path d="M563.8 152.3L579.2 151.3M587.8 150.7L579.4 154.2L579 148.3Z"/><path d="M586 152.3L601.3 151.3M609.9 150.7L601.5 154.2L601.1 148.3Z"/><path d="M608.1 152.3L623.4 151.3M632 150.7L623.6 154.2L623.2 148.3Z"/><path d="M630.2 152.3L645.5 151.3M654.2 150.7L645.7 154.2L645.3 148.3Z"/><path d="M646.3 152.4L672.8 151.1M682.3 150.6L673 154.3L672.6 147.8Z"/><path d="M668.4 152.4L694.9 151.1M704.4 150.6L695.1 154.3L694.7 147.8Z"/><path d="M167.5 178.9L180.5 172M187.8 168.1L181.8 174.5L179.2 169.5Z"/><path d="M189.6 178.9L202.6 172M209.9 168.1L203.9 174.5L201.3 169.5Z"/><path d="M211.7 178.9L224.7 172M232.1 168.1L226.1 174.5L223.4 169.5Z"/><path d="M233.9 178.9L246.9 172M254.2 168.1L248.2 174.5L245.5 169.5Z"/><path d="M256 178.9L269 172M276.3 168.1L270.3 174.5L267.7 169.5Z"/><path d="M278.1 178.9L291.1 172M298.4 168.1L292.4 174.5L289.8 169.5Z"/><path d="M300.2 178.9L313.2 172M320.5 168.1L314.5 174.5L311.9 169.5Z"/><path d="M321.9 178L335.5 172.3M343.1 169L336.6 174.9L334.4 169.7Z"/><path d="M343.7 177.1L357.7 172.5M365.6 170L358.6 175.2L356.8 169.9Z"/><path d="M365.5 176.1L379.9 172.8M387.9 171L380.5 175.6L379.2 170.1Z"/><path d="M386.9 174.4L402.2 173.3M410.8 172.7L402.4 176.2L402 170.4Z"/><path d="M409 174.4L424.3 173.3M433 172.7L424.5 176.2L424.1 170.4Z"/><path d="M431.1 174.4L446.5 173.3M455.1 172.7L446.7 176.2L446.2 170.4Z"/><path d="M453.2 174.4L468.6 173.3M477.2 172.7L468.8 176.2L468.4 170.4Z"/><path d="M475.4 174.4L490.7 173.3M499.3 172.7L490.9 176.2L490.5 170.4Z"/><path d="M497.5 174.4L512.8 173.3M521.4 172.7L513 176.2L512.6 170.4Z"/><path d="M519.6 174.4L534.9 173.3M543.6 172.7L535.1 176.2L534.7 170.4Z"/><path d="M541.7 174.4L557.1 173.3M565.7 172.7L557.3 176.2L556.8 170.4Z"/><path d="M563.8 174.4L579.2 173.3M587.8 172.7L579.4 176.2L579 170.4Z"/><path d="M586 174.4L601.3 173.3M609.9 172.7L601.5 176.2L601.1 170.4Z"/><path d="M608.1 174.4L623.4 173.3M632 172.7L623.6 176.2L623.2 170.4Z"/><path d="M630.2 174.4L645.5 173.3M654.2 172.7L645.7 176.2L645.3 170.4Z"/><path d="M652.3 174.4L667.7 173.3M676.3 172.7L667.9 176.2L667.4 170.4Z"/><path d="M668.4 174.5L694.9 173.1M704.4 172.6L695.1 176.3L694.7 169.9Z"/><path d="M690.6 174.5L717 173.1M726.5 172.6L717.2 176.3L716.9 169.9Z"/><path d="M167.5 201L180.5 194.1M187.8 190.2L181.8 196.6L179.2 191.6Z"/><path d="M189.6 201L202.6 194.1M209.9 190.2L203.9 196.6L201.3 191.6Z"/><path d="M211.7 201L224.7 194.1M232.1 190.2L226.1 196.6L223.4 191.6Z"/><path d="M233.9 201L246.9 194.1M254.2 190.2L248.2 196.6L245.5 191.6Z"/><path d="M256 201L269 194.1M276.3 190.2L270.3 196.6L267.7 191.6Z"/><path d="M278.1 201L291.1 194.1M298.4 190.2L292.4 196.6L289.8 191.6Z"/><path d="M300.2 201L313.2 194.1M320.5 190.2L314.5 196.6L311.9 191.6Z"/><path d="M321.9 200.1L335.5 194.3M343.1 191.1L336.6 196.9L334.4 191.7Z"/><path d="M343.7 199.1L357.7 194.6M365.6 192L358.6 197.3L356.8 191.9Z"/><path d="M365.5 198.2L379.9 194.9M387.9 193L380.5 197.6L379.2 192.1Z"/><path d="M386.9 196.4L402.2 195.3M410.8 194.7L402.4 198.3L402 192.4Z"/><path d="M409 196.4L424.3 195.3M433 194.7L424.5 198.3L424.1 192.4Z"/><path d="M431.1 196.4L446.5 195.3M455.1 194.7L446.7 198.3L446.2 192.4Z"/><path d="M453.2 196.4L468.6 195.3M477.2 194.7L468.8 198.3L468.4 192.4Z"/><path d="M475.4 196.4L490.7 195.3M499.3 194.7L490.9 198.3L490.5 192.4Z"/><path d="M497.5 196.4L512.8 195.3M521.4 194.7L513 198.3L512.6 192.4Z"/><path d="M519.6 196.4L534.9 195.3M543.6 194.7L535.1 198.3L534.7 192.4Z"/><path d="M541.7 196.4L557.1 195.3M565.7 194.7L557.3 198.3L556.8 192.4Z"/><path d="M563.8 196.4L579.2 195.3M587.8 194.7L579.4 198.3L579 192.4Z"/><path d="M586 196.4L601.3 195.3M609.9 194.7L601.5 198.3L601.1 192.4Z"/><path d="M608.1 196.4L623.4 195.3M632 194.7L623.6 198.3L623.2 192.4Z"/><path d="M630.2 196.4L645.5 195.3M654.2 194.7L645.7 198.3L645.3 192.4Z"/><path d="M652.3 196.4L667.7 195.3M676.3 194.7L667.9 198.3L667.4 192.4Z"/><path d="M681.4 195.8L687.8 195.5M691.4 195.4L687.9 196.8L687.8 194.3Z"/><path d="M690.6 196.5L717 195.1M726.5 194.6L717.2 198.4L716.9 191.9Z"/><path d="M167.3 223.6L180.6 215.9M188.1 211.6L182 218.5L179.1 213.4Z"/><path d="M189.4 223.6L202.7 215.9M210.2 211.6L204.2 218.5L201.2 213.4Z"/><path d="M211.5 223.6L224.8 215.9M232.3 211.6L226.3 218.5L223.3 213.4Z"/><path d="M233.6 223.6L246.9 215.9M254.4 211.6L248.4 218.5L245.5 213.4Z"/><path d="M255.7 223.6L269 215.9M276.5 211.6L270.5 218.5L267.6 213.4Z"/><path d="M277.9 223.6L291.2 215.9M298.7 211.6L292.6 218.5L289.7 213.4Z"/><path d="M299.7 221.9L313.4 216.4M321 213.3L314.4 219L312.3 213.8Z"/><path d="M321.7 221.5L335.5 216.5M343.3 213.8L336.5 219.2L334.6 213.9Z"/><path d="M343.6 221L357.7 216.7M365.6 214.3L358.5 219.4L356.9 214Z"/><path d="M365.6 220.5L379.9 216.8M387.9 214.7L380.6 219.5L379.2 214.1Z"/><path d="M387.6 220L402 217M410.1 215.2L402.6 219.7L401.4 214.2Z"/><path d="M410.6 219.4L423.9 217.1M431.3 215.8L424.3 219.6L423.4 214.6Z"/><path d="M432.8 219.4L446 217.1M453.4 215.8L446.4 219.6L445.5 214.6Z"/><path d="M456.2 217.8L467.7 217.6M474.2 217.5L467.8 219.8L467.7 215.4Z"/><path d="M478.3 217.8L489.9 217.6M496.3 217.5L489.9 219.8L489.8 215.4Z"/><path d="M500.5 217.8L512 217.6M518.5 217.5L512 219.8L511.9 215.4Z"/><path d="M522.6 217.8L534.1 217.6M540.6 217.5L534.1 219.8L534.1 215.4Z"/><path d="M544.7 217.8L556.2 217.6M562.7 217.5L556.3 219.8L556.2 215.4Z"/><path d="M566.8 217.8L578.3 217.6M584.8 217.5L578.4 219.8L578.3 215.4Z"/><path d="M588.9 217.8L600.5 217.6M606.9 217.5L600.5 219.8L600.4 215.4Z"/><path d="M611.1 217.8L622.6 217.6M629.1 217.5L622.6 219.8L622.5 215.4Z"/><path d="M633.2 217.8L644.7 217.6M651.2 217.5L644.7 219.8L644.7 215.4Z"/><path d="M655.3 217.8L666.8 217.6M673.3 217.5L666.9 219.8L666.8 215.4Z"/><path d="M682.4 218L687.2 217.6M690.4 217.3L687.3 219L687.1 216.1Z" fill="#111"/><path d="M704.6 218L709.3 217.6M712.5 217.3L709.5 219L709.2 216.1Z" fill="#111"/><path d="M726.7 218L731.5 217.6M734.6 217.3L731.6 219L731.3 216.1Z" fill="#111"/><path d="M167.3 245.7L180.6 238M188.1 233.7L182 240.5L179.1 235.4Z"/><path d="M189.4 245.7L202.7 238M210.2 233.7L204.2 240.5L201.2 235.4Z"/><path d="M211.5 245.7L224.8 238M232.3 233.7L226.3 240.5L223.3 235.4Z"/><path d="M233.6 245.7L246.9 238M254.4 233.7L248.4 240.5L245.5 235.4Z"/><path d="M255.7 245.7L269 238M276.5 233.7L270.5 240.5L267.6 235.4Z"/><path d="M277.9 245.7L291.2 238M298.7 233.7L292.6 240.5L289.7 235.4Z"/><path d="M299.7 244L313.4 238.5M321 235.4L314.4 241.1L312.3 235.8Z"/><path d="M321.7 243.5L335.5 238.6M343.3 235.8L336.5 241.2L334.6 235.9Z"/><path d="M343.6 243L357.7 238.7M365.6 236.3L358.5 241.4L356.9 236Z"/><path d="M365.6 242.5L379.9 238.9M387.9 236.8L380.6 241.6L379.2 236.1Z"/><path d="M387.6 242.1L402 239M410.1 237.3L402.6 241.7L401.4 236.2Z"/><path d="M410.6 241.5L423.9 239.1M431.3 237.8L424.3 241.7L423.4 236.6Z"/><path d="M432.8 241.5L446 239.1M453.4 237.8L446.4 241.7L445.5 236.6Z"/><path d="M456.2 239.8L467.7 239.6M474.2 239.5L467.8 241.8L467.7 237.4Z"/><path d="M478.3 239.8L489.9 239.6M496.3 239.5L489.9 241.8L489.8 237.4Z"/><path d="M500.5 239.8L512 239.6M518.5 239.5L512 241.8L511.9 237.4Z"/><path d="M522.6 239.8L534.1 239.6M540.6 239.5L534.1 241.8L534.1 237.4Z"/><path d="M544.7 239.8L556.2 239.6M562.7 239.5L556.3 241.8L556.2 237.4Z"/><path d="M566.8 239.8L578.3 239.6M584.8 239.5L578.4 241.8L578.3 237.4Z"/><path d="M588.9 239.8L600.5 239.6M606.9 239.5L600.5 241.8L600.4 237.4Z"/><path d="M611.1 239.8L622.6 239.6M629.1 239.5L622.6 241.8L622.5 237.4Z"/><path d="M633.2 239.8L644.7 239.6M651.2 239.5L644.7 241.8L644.7 237.4Z"/><path d="M655.3 239.8L666.8 239.6M673.3 239.5L666.9 241.8L666.8 237.4Z"/><path d="M682.4 240L687.2 239.6M690.4 239.3L687.3 241.1L687.1 238.1Z" fill="#111"/><path d="M704.6 240L709.3 239.6M712.5 239.3L709.5 241.1L709.2 238.1Z" fill="#111"/><path d="M726.7 240L731.5 239.6M734.6 239.3L731.6 241.1L731.3 238.1Z" fill="#111"/><path d="M167.3 267.7L180.6 260M188.1 255.7L182 262.6L179.1 257.5Z"/><path d="M189.4 267.7L202.7 260M210.2 255.7L204.2 262.6L201.2 257.5Z"/><path d="M211.5 267.7L224.8 260M232.3 255.7L226.3 262.6L223.3 257.5Z"/><path d="M233.6 267.7L246.9 260M254.4 255.7L248.4 262.6L245.5 257.5Z"/><path d="M255.7 267.7L269 260M276.5 255.7L270.5 262.6L267.6 257.5Z"/><path d="M277.9 267.7L291.2 260M298.7 255.7L292.6 262.6L289.7 257.5Z"/><path d="M299.7 266L313.4 260.5M321 257.4L314.4 263.1L312.3 257.9Z"/><path d="M321.7 265.5L335.5 260.6M343.3 257.9L336.5 263.3L334.6 258Z"/><path d="M343.6 265.1L357.7 260.8M365.6 258.3L358.5 263.5L356.9 258.1Z"/><path d="M365.6 264.6L379.9 260.9M387.9 258.8L380.6 263.6L379.2 258.2Z"/><path d="M387.6 264.1L402 261M410.1 259.3L402.6 263.8L401.4 258.3Z"/><path d="M410.6 263.5L423.9 261.2M431.3 259.9L424.3 263.7L423.4 258.7Z"/><path d="M432.8 263.5L446 261.2M453.4 259.9L446.4 263.7L445.5 258.7Z"/><path d="M456.2 261.9L467.7 261.7M474.2 261.5L467.8 263.9L467.7 259.5Z"/><path d="M478.3 261.9L489.9 261.7M496.3 261.5L489.9 263.9L489.8 259.5Z"/><path d="M500.5 261.9L512 261.7M518.5 261.5L512 263.9L511.9 259.5Z"/><path d="M522.6 261.9L534.1 261.7M540.6 261.5L534.1 263.9L534.1 259.5Z"/><path d="M544.7 261.9L556.2 261.7M562.7 261.5L556.3 263.9L556.2 259.5Z"/><path d="M566.8 261.9L578.3 261.7M584.8 261.5L578.4 263.9L578.3 259.5Z"/><path d="M588.9 261.9L600.5 261.7M606.9 261.5L600.5 263.9L600.4 259.5Z"/><path d="M611.1 261.9L622.6 261.7M629.1 261.5L622.6 263.9L622.5 259.5Z"/><path d="M633.2 261.9L644.7 261.7M651.2 261.5L644.7 263.9L644.7 259.5Z"/><path d="M655.3 261.9L666.8 261.7M673.3 261.5L666.9 263.9L666.8 259.5Z"/><path d="M677.4 261.9L688.9 261.7M695.4 261.5L689 263.9L688.9 259.5Z"/><path d="M699.5 261.9L711.1 261.7M717.5 261.5L711.1 263.9L711 259.5Z"/><path d="M726.7 262L731.5 261.6M734.6 261.4L731.6 263.1L731.3 260.1Z" fill="#111"/><path d="M748.8 262L753.6 261.6M756.8 261.4L753.7 263.1L753.4 260.1Z" fill="#111"/><path d="M167.3 289.7L180.6 282.1M188.1 277.7L182 284.6L179.1 279.5Z"/><path d="M189.4 289.7L202.7 282.1M210.2 277.7L204.2 284.6L201.2 279.5Z"/><path d="M211.5 289.7L224.8 282.1M232.3 277.7L226.3 284.6L223.3 279.5Z"/><path d="M233.6 289.7L246.9 282.1M254.4 277.7L248.4 284.6L245.5 279.5Z"/><path d="M255.7 289.7L269 282.1M276.5 277.7L270.5 284.6L267.6 279.5Z"/><path d="M277.9 289.7L291.2 282.1M298.7 277.7L292.6 284.6L289.7 279.5Z"/><path d="M299.7 288L313.4 282.5M321 279.4L314.4 285.1L312.3 279.9Z"/><path d="M321.7 287.6L335.5 282.7M343.3 279.9L336.5 285.3L334.6 280Z"/><path d="M343.6 287.1L357.7 282.8M365.6 280.4L358.5 285.5L356.9 280.1Z"/><path d="M365.6 286.6L379.9 282.9M387.9 280.9L380.6 285.7L379.2 280.2Z"/><path d="M387.6 286.1L402 283.1M410.1 281.3L402.6 285.8L401.4 280.3Z"/><path d="M410.6 285.6L423.9 283.2M431.3 281.9L424.3 285.8L423.4 280.7Z"/><path d="M432.8 285.6L446 283.2M453.4 281.9L446.4 285.8L445.5 280.7Z"/><path d="M456.2 283.9L467.7 283.7M474.2 283.6L467.8 285.9L467.7 281.5Z"/><path d="M478.3 283.9L489.9 283.7M496.3 283.6L489.9 285.9L489.8 281.5Z"/><path d="M500.5 283.9L512 283.7M518.5 283.6L512 285.9L511.9 281.5Z"/><path d="M522.6 283.9L534.1 283.7M540.6 283.6L534.1 285.9L534.1 281.5Z"/><path d="M544.7 283.9L556.2 283.7M562.7 283.6L556.3 285.9L556.2 281.5Z"/><path d="M566.8 283.9L578.3 283.7M584.8 283.6L578.4 285.9L578.3 281.5Z"/><path d="M588.9 283.9L600.5 283.7M606.9 283.6L600.5 285.9L600.4 281.5Z"/><path d="M611.1 283.9L622.6 283.7M629.1 283.6L622.6 285.9L622.5 281.5Z"/><path d="M633.2 283.9L644.7 283.7M651.2 283.6L644.7 285.9L644.7 281.5Z"/><path d="M655.4 282.2L666.8 284.2M673.2 285.3L666.4 286.3L667.2 282Z"/><path d="M682.5 283L687.2 283.9M690.4 284.4L686.9 285.4L687.5 282.4Z" fill="#111"/><path d="M704.6 283L709.3 283.9M712.5 284.4L709.1 285.4L709.6 282.4Z" fill="#111"/><path d="M721.8 282.2L733.1 284.2M739.5 285.3L732.8 286.3L733.5 282Z"/><path d="M123 311.8L136.3 304.1M143.8 299.8L137.8 306.6L134.9 301.6Z"/><path d="M167.3 311.8L180.6 304.1M188.1 299.8L182 306.6L179.1 301.6Z"/><path d="M189.4 311.8L202.7 304.1M210.2 299.8L204.2 306.6L201.2 301.6Z"/><path d="M211.5 311.8L224.8 304.1M232.3 299.8L226.3 306.6L223.3 301.6Z"/><path d="M233.6 311.8L246.9 304.1M254.4 299.8L248.4 306.6L245.5 301.6Z"/><path d="M255.7 311.8L269 304.1M276.5 299.8L270.5 306.6L267.6 301.6Z"/><path d="M277.9 311.8L291.2 304.1M298.7 299.8L292.6 306.6L289.7 301.6Z"/><path d="M299.7 310.1L313.4 304.6M321 301.5L314.4 307.2L312.3 302Z"/><path d="M321.7 309.6L335.5 304.7M343.3 301.9L336.5 307.4L334.6 302.1Z"/><path d="M343.6 309.1L357.7 304.8M365.6 302.4L358.5 307.5L356.9 302.1Z"/><path d="M365.6 308.7L379.9 305M387.9 302.9L380.6 307.7L379.2 302.2Z"/><path d="M387.6 308.2L402 305.1M410.1 303.4L402.6 307.9L401.4 302.4Z"/><path d="M410.6 307.6L423.9 305.3M431.3 304L424.3 307.8L423.4 302.7Z"/><path d="M432.8 307.6L446 305.3M453.4 304L446.4 307.8L445.5 302.7Z"/><path d="M456.2 305.9L467.7 305.7M474.2 305.6L467.8 307.9L467.7 303.5Z"/><path d="M478.3 305.9L489.9 305.7M496.3 305.6L489.9 307.9L489.8 303.5Z"/><path d="M500.5 305.9L512 305.7M518.5 305.6L512 307.9L511.9 303.5Z"/><path d="M522.6 305.9L534.1 305.7M540.6 305.6L534.1 307.9L534.1 303.5Z"/><path d="M544.7 305.9L556.2 305.7M562.7 305.6L556.3 307.9L556.2 303.5Z"/><path d="M566.8 305.9L578.3 305.7M584.8 305.6L578.4 307.9L578.3 303.5Z"/><path d="M588.9 305.9L600.5 305.7M606.9 305.6L600.5 307.9L600.4 303.5Z"/><path d="M611.1 305.9L622.6 305.7M629.1 305.6L622.6 307.9L622.5 303.5Z"/><path d="M633.2 305.9L644.7 305.7M651.2 305.6L644.7 307.9L644.7 303.5Z"/><path d="M655.4 304.2L666.8 306.2M673.2 307.3L666.4 308.4L667.2 304Z"/><path d="M677.6 304.2L688.9 306.2M695.3 307.3L688.5 308.4L689.3 304Z"/><path d="M699.7 304.2L711 306.2M717.4 307.3L710.6 308.4L711.4 304Z"/><path d="M721.8 304.2L733.1 306.2M739.5 307.3L732.8 308.4L733.5 304Z"/><path d="M743.9 304.2L755.3 306.2M761.6 307.3L754.9 308.4L755.6 304Z"/><path d="M167.3 333.8L180.6 326.1M188.1 321.8L182 328.7L179.1 323.6Z"/><path d="M189.4 333.8L202.7 326.1M210.2 321.8L204.2 328.7L201.2 323.6Z"/><path d="M211.5 333.8L224.8 326.1M232.3 321.8L226.3 328.7L223.3 323.6Z"/><path d="M233.6 333.8L246.9 326.1M254.4 321.8L248.4 328.7L245.5 323.6Z"/><path d="M255.7 333.8L269 326.1M276.5 321.8L270.5 328.7L267.6 323.6Z"/><path d="M277.9 333.8L291.2 326.1M298.7 321.8L292.6 328.7L289.7 323.6Z"/><path d="M299.7 332.1L313.4 326.6M321 323.5L314.4 329.2L312.3 324Z"/><path d="M321.7 331.7L335.5 326.7M343.3 324L336.5 329.4L334.6 324.1Z"/><path d="M343.6 331.2L357.7 326.9M365.6 324.5L358.5 329.6L356.9 324.2Z"/><path d="M365.6 330.7L379.9 327M387.9 324.9L380.6 329.7L379.2 324.3Z"/><path d="M387.6 330.2L402 327.2M410.1 325.4L402.6 329.9L401.4 324.4Z"/><path d="M410.6 329.6L423.9 327.3M431.3 326L424.3 329.8L423.4 324.8Z"/><path d="M432.8 329.6L446 327.3M453.4 326L446.4 329.8L445.5 324.8Z"/><path d="M456.2 328L467.7 327.8M474.2 327.7L467.8 330L467.7 325.6Z"/><path d="M478.3 328L489.9 327.8M496.3 327.7L489.9 330L489.8 325.6Z"/><path d="M500.5 328L512 327.8M518.5 327.7L512 330L511.9 325.6Z"/><path d="M522.6 328L534.1 327.8M540.6 327.7L534.1 330L534.1 325.6Z"/><path d="M544.7 328L556.2 327.8M562.7 327.7L556.3 330L556.2 325.6Z"/><path d="M566.8 328L578.3 327.8M584.8 327.7L578.4 330L578.3 325.6Z"/><path d="M588.9 328L600.5 327.8M606.9 327.7L600.5 330L600.4 325.6Z"/><path d="M611.1 328L622.6 327.8M629.1 327.7L622.6 330L622.5 325.6Z"/><path d="M633.2 328L644.7 327.8M651.2 327.7L644.7 330L644.7 325.6Z"/><path d="M655.4 326.3L666.8 328.3M673.2 329.4L666.4 330.4L667.2 326.1Z"/><path d="M677.6 326.3L688.9 328.3M695.3 329.4L688.5 330.4L689.3 326.1Z"/><path d="M704.6 327.1L709.3 328M712.5 328.5L709.1 329.4L709.6 326.5Z" fill="#111"/><path d="M721.8 326.3L733.1 328.3M739.5 329.4L732.8 330.4L733.5 326.1Z"/><path d="M743.9 326.3L755.3 328.3M761.6 329.4L754.9 330.4L755.6 326.1Z"/><path d="M167.3 355.9L180.6 348.2M188.1 343.9L182 350.7L179.1 345.6Z"/><path d="M189.4 355.9L202.7 348.2M210.2 343.9L204.2 350.7L201.2 345.6Z"/><path d="M211.5 355.9L224.8 348.2M232.3 343.9L226.3 350.7L223.3 345.6Z"/><path d="M233.6 355.9L246.9 348.2M254.4 343.9L248.4 350.7L245.5 345.6Z"/><path d="M255.7 355.9L269 348.2M276.5 343.9L270.5 350.7L267.6 345.6Z"/><path d="M277.9 355.9L291.2 348.2M298.7 343.9L292.6 350.7L289.7 345.6Z"/><path d="M299.7 354.2L313.4 348.7M321 345.6L314.4 351.3L312.3 346Z"/><path d="M321.7 353.7L335.5 348.8M343.3 346L336.5 351.4L334.6 346.1Z"/><path d="M343.6 353.2L357.7 348.9M365.6 346.5L358.5 351.6L356.9 346.2Z"/><path d="M365.6 352.7L379.9 349.1M387.9 347L380.6 351.8L379.2 346.3Z"/><path d="M387.6 352.3L402 349.2M410.1 347.5L402.6 351.9L401.4 346.4Z"/><path d="M410.6 351.7L423.9 349.3M431.3 348L424.3 351.9L423.4 346.8Z"/><path d="M432.8 351.7L446 349.3M453.4 348L446.4 351.9L445.5 346.8Z"/><path d="M456.2 350L467.7 349.8M474.2 349.7L467.8 352L467.7 347.6Z"/><path d="M478.3 350L489.9 349.8M496.3 349.7L489.9 352L489.8 347.6Z"/><path d="M500.5 350L512 349.8M518.5 349.7L512 352L511.9 347.6Z"/><path d="M522.6 350L534.1 349.8M540.6 349.7L534.1 352L534.1 347.6Z"/><path d="M544.7 350L556.2 349.8M562.7 349.7L556.3 352L556.2 347.6Z"/><path d="M566.8 350L578.3 349.8M584.8 349.7L578.4 352L578.3 347.6Z"/><path d="M588.9 350L600.5 349.8M606.9 349.7L600.5 352L600.4 347.6Z"/><path d="M611.1 350L622.6 349.8M629.1 349.7L622.6 352L622.5 347.6Z"/><path d="M633.2 350L644.7 349.8M651.2 349.7L644.7 352L644.7 347.6Z"/><path d="M655.4 348.3L666.8 350.3M673.2 351.4L666.4 352.5L667.2 348.1Z"/><path d="M677.6 348.3L688.9 350.3M695.3 351.4L688.5 352.5L689.3 348.1Z"/><path d="M699.7 348.3L711 350.3M717.4 351.4L710.6 352.5L711.4 348.1Z"/><path d="M721.8 348.3L733.1 350.3M739.5 351.4L732.8 352.5L733.5 348.1Z"/><path d="M741.6 347.1L755.9 350.6M763.9 352.6L755.2 353.4L756.6 347.9Z"/><path d="M167.3 377.9L180.6 370.2M188.1 365.9L182 372.8L179.1 367.7Z"/><path d="M189.4 377.9L202.7 370.2M210.2 365.9L204.2 372.8L201.2 367.7Z"/><path d="M211.5 377.9L224.8 370.2M232.3 365.9L226.3 372.8L223.3 367.7Z"/><path d="M233.6 377.9L246.9 370.2M254.4 365.9L248.4 372.8L245.5 367.7Z"/><path d="M255.7 377.9L269 370.2M276.5 365.9L270.5 372.8L267.6 367.7Z"/><path d="M277.9 377.9L291.2 370.2M298.7 365.9L292.6 372.8L289.7 367.7Z"/><path d="M299.7 376.2L313.4 370.7M321 367.6L314.4 373.3L312.3 368.1Z"/><path d="M321.7 375.7L335.5 370.8M343.3 368.1L336.5 373.5L334.6 368.2Z"/><path d="M343.6 375.3L357.7 371M365.6 368.5L358.5 373.7L356.9 368.3Z"/><path d="M365.6 374.8L379.9 371.1M387.9 369L380.6 373.8L379.2 368.4Z"/><path d="M387.6 374.3L402 371.2M410.1 369.5L402.6 374L401.4 368.5Z"/><path d="M410.6 373.7L423.9 371.4M431.3 370.1L424.3 373.9L423.4 368.9Z"/><path d="M432.8 373.7L446 371.4M453.4 370.1L446.4 373.9L445.5 368.9Z"/><path d="M456.2 372.1L467.7 371.9M474.2 371.7L467.8 374.1L467.7 369.7Z"/><path d="M478.3 372.1L489.9 371.9M496.3 371.7L489.9 374.1L489.8 369.7Z"/><path d="M500.5 372.1L512 371.9M518.5 371.7L512 374.1L511.9 369.7Z"/><path d="M522.6 372.1L534.1 371.9M540.6 371.7L534.1 374.1L534.1 369.7Z"/><path d="M544.7 372.1L556.2 371.9M562.7 371.7L556.3 374.1L556.2 369.7Z"/><path d="M566.8 372.1L578.3 371.9M584.8 371.7L578.4 374.1L578.3 369.7Z"/><path d="M588.9 372.1L600.5 371.9M606.9 371.7L600.5 374.1L600.4 369.7Z"/><path d="M611.1 372.1L622.6 371.9M629.1 371.7L622.6 374.1L622.5 369.7Z"/><path d="M633.2 372.1L644.7 371.9M651.2 371.7L644.7 374.1L644.7 369.7Z"/><path d="M655.4 370.3L666.8 372.3M673.2 373.5L666.4 374.5L667.2 370.2Z"/><path d="M677.6 370.3L688.9 372.3M695.3 373.5L688.5 374.5L689.3 370.2Z"/><path d="M699.7 370.3L711 372.3M717.4 373.5L710.6 374.5L711.4 370.2Z"/><path d="M721.8 370.3L733.1 372.3M739.5 373.5L732.8 374.5L733.5 370.2Z"/><path d="M741.6 369.1L755.9 372.7M763.9 374.7L755.2 375.4L756.6 369.9Z"/><path d="M167.3 399.9L180.6 392.3M188.1 387.9L182 394.8L179.1 389.7Z"/><path d="M189.4 399.9L202.7 392.3M210.2 387.9L204.2 394.8L201.2 389.7Z"/><path d="M211.5 399.9L224.8 392.3M232.3 387.9L226.3 394.8L223.3 389.7Z"/><path d="M233.6 399.9L246.9 392.3M254.4 387.9L248.4 394.8L245.5 389.7Z"/><path d="M255.7 399.9L269 392.3M276.5 387.9L270.5 394.8L267.6 389.7Z"/><path d="M277.9 399.9L291.2 392.3M298.7 387.9L292.6 394.8L289.7 389.7Z"/><path d="M299.7 398.2L313.4 392.7M321 389.6L314.4 395.3L312.3 390.1Z"/><path d="M321.7 397.8L335.5 392.9M343.3 390.1L336.5 395.5L334.6 390.2Z"/><path d="M343.6 397.3L357.7 393M365.6 390.6L358.5 395.7L356.9 390.3Z"/><path d="M365.6 396.8L379.9 393.1M387.9 391.1L380.6 395.9L379.2 390.4Z"/><path d="M387.6 396.3L402 393.3M410.1 391.5L402.6 396L401.4 390.5Z"/><path d="M410.6 395.8L423.9 393.4M431.3 392.1L424.3 396L423.4 390.9Z"/><path d="M432.8 395.8L446 393.4M453.4 392.1L446.4 396L445.5 390.9Z"/><path d="M456.2 394.1L467.7 393.9M474.2 393.8L467.8 396.1L467.7 391.7Z"/><path d="M478.3 394.1L489.9 393.9M496.3 393.8L489.9 396.1L489.8 391.7Z"/><path d="M500.5 394.1L512 393.9M518.5 393.8L512 396.1L511.9 391.7Z"/><path d="M522.6 394.1L534.1 393.9M540.6 393.8L534.1 396.1L534.1 391.7Z"/><path d="M544.7 394.1L556.2 393.9M562.7 393.8L556.3 396.1L556.2 391.7Z"/><path d="M566.8 394.1L578.3 393.9M584.8 393.8L578.4 396.1L578.3 391.7Z"/><path d="M588.9 394.1L600.5 393.9M606.9 393.8L600.5 396.1L600.4 391.7Z"/><path d="M611.1 394.1L622.6 393.9M629.1 393.8L622.6 396.1L622.5 391.7Z"/><path d="M633.2 394.1L644.7 393.9M651.2 393.8L644.7 396.1L644.7 391.7Z"/><path d="M655.4 392.4L666.8 394.4M673.2 395.5L666.4 396.5L667.2 392.2Z"/><path d="M677.6 392.4L688.9 394.4M695.3 395.5L688.5 396.5L689.3 392.2Z"/><path d="M699.7 392.4L711 394.4M717.4 395.5L710.6 396.5L711.4 392.2Z"/><path d="M719.5 391.2L733.8 394.7M741.8 396.7L733.1 397.5L734.5 392Z"/><path d="M741.6 391.2L755.9 394.7M763.9 396.7L755.2 397.5L756.6 392Z"/><path d="M763.7 391.2L778 394.7M786.1 396.7L777.3 397.5L778.7 392Z"/><path d="M190.1 421.1L202.5 414.5M209.5 410.8L203.8 416.9L201.2 412.2Z"/><path d="M212.2 421.1L224.6 414.5M231.6 410.8L225.9 416.9L223.4 412.2Z"/><path d="M234.3 421.1L246.7 414.5M253.7 410.8L248 416.9L245.5 412.2Z"/><path d="M256.4 421.1L268.9 414.5M275.9 410.8L270.1 416.9L267.6 412.2Z"/><path d="M278.5 421.1L291 414.5M298 410.8L292.2 416.9L289.7 412.2Z"/><path d="M299.7 420.3L313.4 414.8M321 411.7L314.4 417.4L312.3 412.2Z"/><path d="M321.7 419.8L335.5 414.9M343.3 412.1L336.5 417.6L334.6 412.3Z"/><path d="M343.6 419.3L357.7 415M365.6 412.6L358.5 417.7L356.9 412.3Z"/><path d="M365.6 418.9L379.9 415.2M387.9 413.1L380.6 417.9L379.2 412.4Z"/><path d="M387.6 418.4L402 415.3M410.1 413.6L402.6 418.1L401.4 412.6Z"/><path d="M410.6 417.8L423.9 415.5M431.3 414.2L424.3 418L423.4 412.9Z"/><path d="M432.8 417.8L446 415.5M453.4 414.2L446.4 418L445.5 412.9Z"/><path d="M456.2 416.1L467.7 415.9M474.2 415.8L467.8 418.1L467.7 413.7Z"/><path d="M478.3 416.1L489.9 415.9M496.3 415.8L489.9 418.1L489.8 413.7Z"/><path d="M500.5 416.1L512 415.9M518.5 415.8L512 418.1L511.9 413.7Z"/><path d="M522.6 416.1L534.1 415.9M540.6 415.8L534.1 418.1L534.1 413.7Z"/><path d="M544.7 416.1L556.2 415.9M562.7 415.8L556.3 418.1L556.2 413.7Z"/><path d="M566.8 416.1L578.3 415.9M584.8 415.8L578.4 418.1L578.3 413.7Z"/><path d="M588.9 416.1L600.5 415.9M606.9 415.8L600.5 418.1L600.4 413.7Z"/><path d="M611.1 416.1L622.6 415.9M629.1 415.8L622.6 418.1L622.5 413.7Z"/><path d="M633.2 416.1L644.7 415.9M651.2 415.8L644.7 418.1L644.7 413.7Z"/><path d="M655.4 414.4L666.8 416.4M673.2 417.5L666.4 418.6L667.2 414.2Z"/><path d="M677.6 414.4L688.9 416.4M695.3 417.5L688.5 418.6L689.3 414.2Z"/><path d="M699.7 414.4L711 416.4M717.4 417.5L710.6 418.6L711.4 414.2Z"/><path d="M719.5 413.2L733.8 416.8M741.8 418.8L733.1 419.5L734.5 414Z"/><path d="M741.6 413.2L755.9 416.8M763.9 418.8L755.2 419.5L756.6 414Z"/><path d="M212.2 443.2L224.6 436.6M231.6 432.9L225.9 439L223.4 434.2Z"/><path d="M234.3 443.2L246.7 436.6M253.7 432.9L248 439L245.5 434.2Z"/><path d="M256.4 443.2L268.9 436.6M275.9 432.9L270.1 439L267.6 434.2Z"/><path d="M278.5 443.2L291 436.6M298 432.9L292.2 439L289.7 434.2Z"/><path d="M299.7 442.3L313.4 436.8M321 433.7L314.4 439.4L312.3 434.2Z"/><path d="M321.7 441.9L335.5 436.9M343.3 434.2L336.5 439.6L334.6 434.3Z"/><path d="M343.6 441.4L357.7 437.1M365.6 434.7L358.5 439.8L356.9 434.4Z"/><path d="M365.6 440.9L379.9 437.2M387.9 435.1L380.6 439.9L379.2 434.5Z"/><path d="M387.6 440.4L402 437.4M410.1 435.6L402.6 440.1L401.4 434.6Z"/><path d="M410.6 439.8L423.9 437.5M431.3 436.2L424.3 440L423.4 435Z"/><path d="M432.8 439.8L446 437.5M453.4 436.2L446.4 440L445.5 435Z"/><path d="M456.2 438.2L467.7 438M474.2 437.9L467.8 440.2L467.7 435.8Z"/><path d="M478.3 438.2L489.9 438M496.3 437.9L489.9 440.2L489.8 435.8Z"/><path d="M500.5 438.2L512 438M518.5 437.9L512 440.2L511.9 435.8Z"/><path d="M522.6 438.2L534.1 438M540.6 437.9L534.1 440.2L534.1 435.8Z"/><path d="M544.7 438.2L556.2 438M562.7 437.9L556.3 440.2L556.2 435.8Z"/><path d="M566.8 438.2L578.3 438M584.8 437.9L578.4 440.2L578.3 435.8Z"/><path d="M588.9 438.2L600.5 438M606.9 437.9L600.5 440.2L600.4 435.8Z"/><path d="M611.1 438.2L622.6 438M629.1 437.9L622.6 440.2L622.5 435.8Z"/><path d="M633.2 438.2L644.7 438M651.2 437.9L644.7 440.2L644.7 435.8Z"/><path d="M655.4 436.5L666.8 438.5M673.2 439.6L666.4 440.6L667.2 436.3Z"/><path d="M677.6 436.5L688.9 438.5M695.3 439.6L688.5 440.6L689.3 436.3Z"/><path d="M699.7 436.5L711 438.5M717.4 439.6L710.6 440.6L711.4 436.3Z"/><path d="M719.5 435.2L733.8 438.8M741.8 440.8L733.1 441.5L734.5 436.1Z"/><path d="M741.6 435.2L755.9 438.8M763.9 440.8L755.2 441.5L756.6 436.1Z"/><path d="M238.8 457.1L245.5 460.9M249.2 463.1L244.7 462.2L246.2 459.6Z"/><path d="M259.1 460.1L268.1 460.1M273.1 460.1L268.1 461.8L268.1 458.3Z"/><path d="M280.3 460.8L290.5 459.9M296.2 459.4L290.7 461.8L290.3 457.9Z"/><path d="M300.6 462.1L313.1 459.5M320.2 458L313.6 461.9L312.6 457.1Z"/><path d="M322.7 462.1L335.2 459.5M342.3 458L335.7 461.9L334.7 457.1Z"/><path d="M344.8 462.1L357.4 459.5M364.4 458L357.9 461.9L356.8 457.1Z"/><path d="M367 462.1L379.5 459.5M386.5 458L380 461.9L379 457.1Z"/><path d="M389.1 462.1L401.6 459.5M408.6 458L402.1 461.9L401.1 457.1Z"/><path d="M411.2 462.1L423.7 459.5M430.8 458L424.2 461.9L423.2 457.1Z"/><path d="M433.3 462.1L445.8 459.5M452.9 458L446.3 461.9L445.3 457.1Z"/><path d="M455.4 462.1L468 459.5M475 458L468.5 461.9L467.4 457.1Z"/><path d="M477.8 460.1L490 460.1M496.8 460.1L490 462.4L490 457.7Z"/><path d="M500 460.1L512.1 460.1M519 460.1L512.1 462.4L512.1 457.7Z"/><path d="M522.1 460.1L534.2 460.1M541.1 460.1L534.2 462.4L534.2 457.7Z"/><path d="M544.2 460.1L556.4 460.1M563.2 460.1L556.4 462.4L556.4 457.7Z"/><path d="M566.3 460.1L578.5 460.1M585.3 460.1L578.5 462.4L578.5 457.7Z"/><path d="M588.4 460.1L600.6 460.1M607.4 460.1L600.6 462.4L600.6 457.7Z"/><path d="M610.6 460.1L622.7 460.1M629.6 460.1L622.7 462.4L622.7 457.7Z"/><path d="M632.7 460.1L644.8 460.1M651.7 460.1L644.8 462.4L644.8 457.7Z"/><path d="M654.8 460.1L667 460.1M673.8 460.1L667 462.4L667 457.7Z"/><path d="M676.9 460.1L689.1 460.1M695.9 460.1L689.1 462.4L689.1 457.7Z"/><path d="M699 460.1L711.2 460.1M718 460.1L711.2 462.4L711.2 457.7Z"/><path d="M719.9 457.8L733.7 460.7M741.4 462.3L733.1 463.3L734.2 458.1Z"/><path d="M742 457.8L755.8 460.7M763.5 462.3L755.2 463.3L756.4 458.1Z"/><path d="M238.8 479.1L245.5 482.9M249.2 485.1L244.7 484.2L246.2 481.7Z"/><path d="M259.1 482.1L268.1 482.1M273.1 482.1L268.1 483.8L268.1 480.4Z"/><path d="M280.3 482.8L290.5 481.9M296.2 481.4L290.7 483.9L290.3 480Z"/><path d="M300.6 484.2L313.1 481.5M320.2 480L313.6 483.9L312.6 479.1Z"/><path d="M322.7 484.2L335.2 481.5M342.3 480L335.7 483.9L334.7 479.1Z"/><path d="M344.8 484.2L357.4 481.5M364.4 480L357.9 483.9L356.8 479.1Z"/><path d="M367 484.2L379.5 481.5M386.5 480L380 483.9L379 479.1Z"/><path d="M389.1 484.2L401.6 481.5M408.6 480L402.1 483.9L401.1 479.1Z"/><path d="M411.2 484.2L423.7 481.5M430.8 480L424.2 483.9L423.2 479.1Z"/><path d="M433.3 484.2L445.8 481.5M452.9 480L446.3 483.9L445.3 479.1Z"/><path d="M455.4 484.2L468 481.5M475 480L468.5 483.9L467.4 479.1Z"/><path d="M477.8 482.1L490 482.1M496.8 482.1L490 484.4L490 479.8Z"/><path d="M500 482.1L512.1 482.1M519 482.1L512.1 484.4L512.1 479.8Z"/><path d="M522.1 482.1L534.2 482.1M541.1 482.1L534.2 484.4L534.2 479.8Z"/><path d="M544.2 482.1L556.4 482.1M563.2 482.1L556.4 484.4L556.4 479.8Z"/><path d="M566.3 482.1L578.5 482.1M585.3 482.1L578.5 484.4L578.5 479.8Z"/><path d="M588.4 482.1L600.6 482.1M607.4 482.1L600.6 484.4L600.6 479.8Z"/><path d="M610.6 482.1L622.7 482.1M629.6 482.1L622.7 484.4L622.7 479.8Z"/><path d="M632.7 482.1L644.8 482.1M651.7 482.1L644.8 484.4L644.8 479.8Z"/><path d="M654.8 482.1L667 482.1M673.8 482.1L667 484.4L667 479.8Z"/><path d="M676.9 482.1L689.1 482.1M695.9 482.1L689.1 484.4L689.1 479.8Z"/><path d="M699 482.1L711.2 482.1M718 482.1L711.2 484.4L711.2 479.8Z"/><path d="M721.2 482.1L733.3 482.1M740.2 482.1L733.3 484.4L733.3 479.8Z"/><path d="M742 479.8L755.8 482.7M763.5 484.4L755.2 485.4L756.4 480.1Z"/><path d="M302.9 504.1L312.5 504.1M317.9 504.1L312.5 506L312.5 502.3Z"/><path d="M325 504.1L334.6 504.1M340 504.1L334.6 506L334.6 502.3Z"/><path d="M347.1 504.1L356.7 504.1M362.1 504.1L356.7 506L356.7 502.3Z"/><path d="M367.9 502.6L379.2 504.6M385.6 505.7L378.8 506.7L379.6 502.4Z"/><path d="M390 502.6L401.3 504.6M407.7 505.7L401 506.7L401.7 502.4Z"/><path d="M412.1 502.6L423.5 504.6M429.8 505.7L423.1 506.7L423.8 502.4Z"/><path d="M434.2 502.6L445.6 504.6M452 505.7L445.2 506.7L446 502.4Z"/><path d="M456.4 502.6L467.7 504.6M474.1 505.7L467.3 506.7L468.1 502.4Z"/><path d="M476.3 504.1L490.4 504.1M498.3 504.1L490.4 506.8L490.4 501.4Z"/><path d="M498.5 504.1L512.5 504.1M520.5 504.1L512.5 506.8L512.5 501.4Z"/><path d="M520.6 504.1L534.7 504.1M542.6 504.1L534.7 506.8L534.7 501.4Z"/><path d="M542.7 504.1L556.8 504.1M564.7 504.1L556.8 506.8L556.8 501.4Z"/><path d="M564.8 504.1L578.9 504.1M586.8 504.1L578.9 506.8L578.9 501.4Z"/><path d="M586.9 504.1L601 504.1M608.9 504.1L601 506.8L601 501.4Z"/><path d="M609.1 504.1L623.1 504.1M631.1 504.1L623.1 506.8L623.1 501.4Z"/><path d="M631.2 504.1L645.3 504.1M653.2 504.1L645.3 506.8L645.3 501.4Z"/><path d="M653.3 504.1L667.4 504.1M675.3 504.1L667.4 506.8L667.4 501.4Z"/><path d="M675.4 504.1L689.5 504.1M697.4 504.1L689.5 506.8L689.5 501.4Z"/><path d="M697.5 504.1L711.6 504.1M719.5 504.1L711.6 506.8L711.6 501.4Z"/><path d="M719.7 504.1L733.7 504.1M741.7 504.1L733.7 506.8L733.7 501.4Z"/><path d="M741.8 504.1L755.9 504.1M763.8 504.1L755.9 506.8L755.9 501.4Z"/><path d="M300 532.2L313.3 524.5M320.8 520.2L314.8 527L311.8 522Z"/><path d="M325 526.2L334.6 526.2M340 526.2L334.6 528L334.6 524.3Z"/><path d="M347.1 526.2L356.7 526.2M362.1 526.2L356.7 528L356.7 524.3Z"/><path d="M367.9 524.6L379.2 526.6M385.6 527.7L378.8 528.8L379.6 524.4Z"/><path d="M390 524.6L401.3 526.6M407.7 527.7L401 528.8L401.7 524.4Z"/><path d="M412.1 524.6L423.5 526.6M429.8 527.7L423.1 528.8L423.8 524.4Z"/><path d="M434.2 524.6L445.6 526.6M452 527.7L445.2 528.8L446 524.4Z"/><path d="M456.4 524.6L467.7 526.6M474.1 527.7L467.3 528.8L468.1 524.4Z"/><path d="M476.3 526.2L490.4 526.2M498.3 526.2L490.4 528.9L490.4 523.5Z"/><path d="M498.5 526.2L512.5 526.2M520.5 526.2L512.5 528.9L512.5 523.5Z"/><path d="M520.6 526.2L534.7 526.2M542.6 526.2L534.7 528.9L534.7 523.5Z"/><path d="M542.7 526.2L556.8 526.2M564.7 526.2L556.8 528.9L556.8 523.5Z"/><path d="M564.8 526.2L578.9 526.2M586.8 526.2L578.9 528.9L578.9 523.5Z"/><path d="M586.9 526.2L601 526.2M608.9 526.2L601 528.9L601 523.5Z"/><path d="M609.1 526.2L623.1 526.2M631.1 526.2L623.1 528.9L623.1 523.5Z"/><path d="M631.2 526.2L645.3 526.2M653.2 526.2L645.3 528.9L645.3 523.5Z"/><path d="M653.3 526.2L667.4 526.2M675.3 526.2L667.4 528.9L667.4 523.5Z"/><path d="M675.4 526.2L689.5 526.2M697.4 526.2L689.5 528.9L689.5 523.5Z"/><path d="M697.5 526.2L711.6 526.2M719.5 526.2L711.6 528.9L711.6 523.5Z"/><path d="M719.7 526.2L733.7 526.2M741.7 526.2L733.7 528.9L733.7 523.5Z"/><path d="M741.8 526.2L755.9 526.2M763.8 526.2L755.9 528.9L755.9 523.5Z"/><path d="M305.1 544.5L311.9 549.3M315.7 551.9L311 550.6L312.8 548Z"/><path d="M319.8 556.2L337.2 545.3M345.2 540.3L338.9 548L335.5 542.6Z"/><path d="M347.1 548.2L356.7 548.2M362.1 548.2L356.7 550.1L356.7 546.4Z"/><path d="M367.9 546.7L379.2 548.7M385.6 549.8L378.8 550.8L379.6 546.5Z"/><path d="M390 546.7L401.3 548.7M407.7 549.8L401 550.8L401.7 546.5Z"/><path d="M412.1 546.7L423.5 548.7M429.8 549.8L423.1 550.8L423.8 546.5Z"/><path d="M434.2 546.7L445.6 548.7M452 549.8L445.2 550.8L446 546.5Z"/><path d="M456.4 546.7L467.7 548.7M474.1 549.8L467.3 550.8L468.1 546.5Z"/><path d="M476.3 548.2L490.4 548.2M498.3 548.2L490.4 550.9L490.4 545.5Z"/><path d="M498.5 548.2L512.5 548.2M520.5 548.2L512.5 550.9L512.5 545.5Z"/><path d="M520.6 548.2L534.7 548.2M542.6 548.2L534.7 550.9L534.7 545.5Z"/><path d="M542.7 548.2L556.8 548.2M564.7 548.2L556.8 550.9L556.8 545.5Z"/><path d="M564.8 548.2L578.9 548.2M586.8 548.2L578.9 550.9L578.9 545.5Z"/><path d="M586.9 548.2L601 548.2M608.9 548.2L601 550.9L601 545.5Z"/><path d="M609.1 548.2L623.1 548.2M631.1 548.2L623.1 550.9L623.1 545.5Z"/><path d="M631.2 548.2L645.3 548.2M653.2 548.2L645.3 550.9L645.3 545.5Z"/><path d="M653.3 548.2L667.4 548.2M675.3 548.2L667.4 550.9L667.4 545.5Z"/><path d="M675.4 548.2L689.5 548.2M697.4 548.2L689.5 550.9L689.5 545.5Z"/><path d="M697.5 548.2L711.6 548.2M719.5 548.2L711.6 550.9L711.6 545.5Z"/><path d="M719.7 548.2L733.7 548.2M741.7 548.2L733.7 550.9L733.7 545.5Z"/><path d="M741.8 548.2L755.9 548.2M763.8 548.2L755.9 550.9L755.9 545.5Z"/><path d="M323.7 565.6L335 571.6M341.3 575L333.8 573.7L336.1 569.4Z"/><path d="M345.8 565.6L357.1 571.6M363.4 575L355.9 573.7L358.2 569.4Z"/><path d="M367.9 565.6L379.2 571.6M385.6 575L378.1 573.7L380.4 569.4Z"/><path d="M390 565.6L401.3 571.6M407.7 575L400.2 573.7L402.5 569.4Z"/><path d="M412.2 565.6L423.5 571.6M429.8 575L422.3 573.7L424.6 569.4Z"/><path d="M434.3 565.6L445.6 571.6M451.9 575L444.4 573.7L446.7 569.4Z"/><path d="M456.4 565.6L467.7 571.6M474 575L466.5 573.7L468.8 569.4Z"/><path d="M476.3 570.3L490.4 570.3M498.3 570.3L490.4 573L490.4 567.6Z"/><path d="M498.5 570.3L512.5 570.3M520.5 570.3L512.5 573L512.5 567.6Z"/><path d="M520.6 570.3L534.7 570.3M542.6 570.3L534.7 573L534.7 567.6Z"/><path d="M542.7 570.3L556.8 570.3M564.7 570.3L556.8 573L556.8 567.6Z"/><path d="M564.8 570.3L578.9 570.3M586.8 570.3L578.9 573L578.9 567.6Z"/><path d="M586.9 570.3L601 570.3M608.9 570.3L601 573L601 567.6Z"/><path d="M609.1 570.3L623.1 570.3M631.1 570.3L623.1 573L623.1 567.6Z"/><path d="M631.2 570.3L645.3 570.3M653.2 570.3L645.3 573L645.3 567.6Z"/><path d="M653.3 570.3L667.4 570.3M675.3 570.3L667.4 573L667.4 567.6Z"/><path d="M675.4 570.3L689.5 570.3M697.4 570.3L689.5 573L689.5 567.6Z"/><path d="M697.5 570.3L711.6 570.3M719.5 570.3L711.6 573L711.6 567.6Z"/><path d="M719.7 570.3L733.7 570.3M741.7 570.3L733.7 573L733.7 567.6Z"/><path d="M741.8 570.3L755.9 570.3M763.8 570.3L755.9 573L755.9 567.6Z"/><path d="M367.9 587.6L379.2 593.6M385.6 597L378.1 595.8L380.4 591.5Z"/><path d="M390 587.6L401.3 593.6M407.7 597L400.2 595.8L402.5 591.5Z"/><path d="M412.2 587.6L423.5 593.6M429.8 597L422.3 595.8L424.6 591.5Z"/><path d="M434.3 587.6L445.6 593.6M451.9 597L444.4 595.8L446.7 591.5Z"/><path d="M456.4 587.6L467.7 593.6M474 597L466.5 595.8L468.8 591.5Z"/><path d="M478.5 587.6L489.8 593.6M496.2 597L488.7 595.8L491 591.5Z"/><path d="M500.6 587.6L511.9 593.6M518.3 597L510.8 595.8L513.1 591.5Z"/><path d="M522.8 587.6L534.1 593.6M540.4 597L532.9 595.8L535.2 591.5Z"/><path d="M542.7 591.7L556.8 592.5M564.7 592.9L556.6 595.2L556.9 589.8Z"/><path d="M564.8 591.7L578.9 592.5M586.8 592.9L578.8 595.2L579 589.8Z"/><path d="M587 591.7L601 592.5M608.9 592.9L600.9 595.2L601.2 589.8Z"/><path d="M609.1 591.7L623.1 592.5M631 592.9L623 595.2L623.3 589.8Z"/><path d="M631.2 591.7L645.3 592.5M653.2 592.9L645.1 595.2L645.4 589.8Z"/><path d="M653.3 591.7L667.4 592.5M675.3 592.9L667.2 595.2L667.5 589.8Z"/><path d="M675.4 591.7L689.5 592.5M697.4 592.9L689.4 595.2L689.6 589.8Z"/><path d="M697.6 591.7L711.6 592.5M719.5 592.9L711.5 595.2L711.8 589.8Z"/><path d="M719.7 591.7L733.7 592.5M741.6 592.9L733.6 595.2L733.9 589.8Z"/><path d="M741.8 591.7L755.9 592.5M763.8 592.9L755.7 595.2L756 589.8Z"/><path d="M412.2 609.6L423.5 615.7M429.8 619L422.3 617.8L424.6 613.5Z"/><path d="M434.3 609.6L445.6 615.7M451.9 619L444.4 617.8L446.7 613.5Z"/><path d="M451.7 618L469.6 613.2M478.7 610.7L470.4 616.3L468.7 610.1Z"/><path d="M478.5 609.6L489.8 615.7M496.2 619L488.7 617.8L491 613.5Z"/><path d="M500.6 609.6L511.9 615.7M518.3 619L510.8 617.8L513.1 613.5Z"/><path d="M522.8 609.6L534.1 615.7M540.4 619L532.9 617.8L535.2 613.5Z"/><path d="M542.7 613.8L556.8 614.5M564.7 614.9L556.6 617.2L556.9 611.8Z"/><path d="M564.8 613.8L578.9 614.5M586.8 614.9L578.8 617.2L579 611.8Z"/><path d="M587 613.8L601 614.5M608.9 614.9L600.9 617.2L601.2 611.8Z"/><path d="M609.1 613.8L623.1 614.5M631 614.9L623 617.2L623.3 611.8Z"/><path d="M631.2 613.8L645.3 614.5M653.2 614.9L645.1 617.2L645.4 611.8Z"/><path d="M653.3 613.8L667.4 614.5M675.3 614.9L667.2 617.2L667.5 611.8Z"/><path d="M675.4 613.8L689.5 614.5M697.4 614.9L689.4 617.2L689.6 611.8Z"/><path d="M697.6 613.8L711.6 614.5M719.5 614.9L711.5 617.2L711.8 611.8Z"/><path d="M719.7 613.8L733.7 614.5M741.6 614.9L733.6 617.2L733.9 611.8Z"/><path d="M434.3 631.7L445.6 637.7M451.9 641.1L444.4 639.9L446.7 635.5Z"/><path d="M456.4 631.7L467.7 637.7M474 641.1L466.5 639.9L468.8 635.5Z"/><path d="M474.4 637.5L491 636.1M500.3 635.2L491.2 639.2L490.7 632.9Z"/><path d="M496.5 637.5L513.1 636.1M522.4 635.2L513.4 639.2L512.8 632.9Z"/><path d="M522.8 631.7L534.1 637.7M540.4 641.1L532.9 639.9L535.2 635.5Z"/><path d="M542.7 635.8L556.8 636.5M564.7 637L556.6 639.2L556.9 633.9Z"/><path d="M564.8 635.8L578.9 636.5M586.8 637L578.8 639.2L579 633.9Z"/><path d="M587 635.8L601 636.5M608.9 637L600.9 639.2L601.2 633.9Z"/><path d="M609.1 635.8L623.1 636.5M631 637L623 639.2L623.3 633.9Z"/><path d="M631.2 635.8L645.3 636.5M653.2 637L645.1 639.2L645.4 633.9Z"/><path d="M653.3 635.8L667.4 636.5M675.3 637L667.2 639.2L667.5 633.9Z"/><path d="M675.4 635.8L689.5 636.5M697.4 637L689.4 639.2L689.6 633.9Z"/><path d="M697.6 635.8L711.6 636.5M719.5 637L711.5 639.2L711.8 633.9Z"/><path d="M719.7 635.8L733.7 636.5M741.6 637L733.6 639.2L733.9 633.9Z"/></g><g font-family="Liberation Sans" font-size="10" fill="#111"><text x="17" y="54" textLength="39" lengthAdjust="spacingAndGlyphs">42°01'N</text><text x="17" y="135.5" textLength="39" lengthAdjust="spacingAndGlyphs">42°00'N</text><text x="17" y="217.1" textLength="39" lengthAdjust="spacingAndGlyphs">41°59'N</text><text x="17" y="298.6" textLength="39" lengthAdjust="spacingAndGlyphs">41°58'N</text><text x="17" y="380.2" textLength="39" lengthAdjust="spacingAndGlyphs">41°57'N</text><text x="17" y="461.7" textLength="39" lengthAdjust="spacingAndGlyphs">41°56'N</text><text x="17" y="543.2" textLength="39" lengthAdjust="spacingAndGlyphs">41°55'N</text><text x="17" y="624.8" textLength="39" lengthAdjust="spacingAndGlyphs">41°54'N</text><text x="14.5" y="689.2">'E</text><text x="98.8" y="689.2" textLength="44" lengthAdjust="spacingAndGlyphs">140°56'E</text><text x="220.8" y="689.2" textLength="44" lengthAdjust="spacingAndGlyphs">140°58'E</text><text x="342.8" y="689.2" textLength="44" lengthAdjust="spacingAndGlyphs">141°00'E</text><text x="464.8" y="689.2" textLength="44" lengthAdjust="spacingAndGlyphs">141°02'E</text><text x="586.8" y="689.2" textLength="44" lengthAdjust="spacingAndGlyphs">141°04'E</text><text x="708.8" y="689.2" textLength="44" lengthAdjust="spacingAndGlyphs">141°06'E</text><text x="831.3" y="689.2" textLength="44" lengthAdjust="spacingAndGlyphs">141°08'E</text></g><rect x="204.2" y="431.3" width="6.5" height="8" fill="#0010ff" stroke="#111" stroke-width="0.8"/><text x="172.3" y="451.2" font-family="Liberation Sans" font-weight="bold" font-size="10.5" fill="#000" textLength="27.3" lengthAdjust="spacingAndGlyphs">A087</text><rect x="624.6" y="665.4" width="8.2" height="7.8" fill="#ff0a0a" stroke="#111" stroke-width="0.9"/><text x="593.2" y="678.7" font-family="Liberation Sans" font-weight="bold" font-size="10.5" fill="#000" textLength="27.5" lengthAdjust="spacingAndGlyphs">A088</text><text x="272.5" y="657" font-family="Liberation Serif" font-weight="bold" font-size="15" fill="#000" stroke="#000" stroke-width="0.7" textLength="268" lengthAdjust="spacingAndGlyphs">9:00:30 PM Friday, March 11, 2011JST 9.0</text><g font-family="Liberation Sans" font-size="10" fill="#111"><text x="774.6" y="602.3">0</text><text x="815" y="602.3" textLength="14" lengthAdjust="spacingAndGlyphs">Km</text><text x="859" y="602.3" textLength="14.7" lengthAdjust="spacingAndGlyphs">2.0</text></g><g stroke="#222" stroke-width="0.9"><rect x="775.7" y="605" width="17.7" height="4" fill="#ccc"/><rect x="793.4" y="605" width="17.7" height="4" fill="#fff"/><rect x="811.1" y="605" width="17.7" height="4" fill="#ccc"/><rect x="828.8" y="605" width="17.7" height="4" fill="#fff"/><rect x="846.5" y="605" width="17.7" height="4" fill="#ccc"/></g><g stroke="#111" stroke-width="1.1" fill="none"><path d="M796 650.5H826M826 646L842 650.5L826 655Z"/></g><text x="799.3" y="667.9" font-family="Liberation Sans" font-size="10" fill="#111" textLength="39" lengthAdjust="spacingAndGlyphs">40 cm/s</text><rect x="879.5" y="5.5" width="136.5" height="684.8" fill="#e3e3e3"/><path d="M879.5 5.5V690.3" stroke="#111" stroke-width="1.5"/><g font-family="Liberation Sans" font-size="28.5" fill="#000" text-anchor="end"><text x="965.5" y="40.8">Hgt</text><text x="965.5" y="66.5">cm</text></g><g shape-rendering="crispEdges"><rect x="966.7" y="96.6" width="27.3" height="1.3" fill="#a52617"/><rect x="966.7" y="97.6" width="27.3" height="1.3" fill="#a52617"/><rect x="966.7" y="98.6" width="27.3" height="1.3" fill="#a52717"/><rect x="966.7" y="99.6" width="27.3" height="1.3" fill="#a62717"/><rect x="966.7" y="100.6" width="27.3" height="1.3" fill="#a62717"/><rect x="966.7" y="101.6" width="27.3" height="1.3" fill="#a62717"/><rect x="966.7" y="102.6" width="27.3" height="1.3" fill="#a72717"/><rect x="966.7" y="103.6" width="27.3" height="1.3" fill="#a72817"/><rect x="966.7" y="104.6" width="27.3" height="1.3" fill="#a82817"/><rect x="966.7" y="105.6" width="27.3" height="1.3" fill="#a82817"/><rect x="966.7" y="106.6" width="27.3" height="1.3" fill="#a82817"/><rect x="966.7" y="107.6" width="27.3" height="1.3" fill="#a92817"/><rect x="966.7" y="108.6" width="27.3" height="1.3" fill="#a92817"/><rect x="966.7" y="109.6" width="27.3" height="1.3" fill="#a92918"/><rect x="966.7" y="110.6" width="27.3" height="1.3" fill="#aa2918"/><rect x="966.7" y="111.6" width="27.3" height="1.3" fill="#aa2918"/><rect x="966.7" y="112.6" width="27.3" height="1.3" fill="#aa2918"/><rect x="966.7" y="113.6" width="27.3" height="1.3" fill="#ab2918"/><rect x="966.7" y="114.6" width="27.3" height="1.3" fill="#ab2a18"/><rect x="966.7" y="115.6" width="27.3" height="1.3" fill="#ac2a18"/><rect x="966.7" y="116.6" width="27.3" height="1.3" fill="#ac2a18"/><rect x="966.7" y="117.6" width="27.3" height="1.3" fill="#bd2c1a"/><rect x="966.7" y="118.6" width="27.3" height="1.3" fill="#bd2c1a"/><rect x="966.7" y="119.6" width="27.3" height="1.3" fill="#be2c1a"/><rect x="966.7" y="120.6" width="27.3" height="1.3" fill="#bf2c1a"/><rect x="966.7" y="121.6" width="27.3" height="1.3" fill="#c02c1a"/><rect x="966.7" y="122.6" width="27.3" height="1.3" fill="#c12c1a"/><rect x="966.7" y="123.6" width="27.3" height="1.3" fill="#c22c1a"/><rect x="966.7" y="124.6" width="27.3" height="1.3" fill="#c32c1a"/><rect x="966.7" y="125.6" width="27.3" height="1.3" fill="#c32c1a"/><rect x="966.7" y="126.6" width="27.3" height="1.3" fill="#c42c1a"/><rect x="966.7" y="127.6" width="27.3" height="1.3" fill="#c52c1a"/><rect x="966.7" y="128.6" width="27.3" height="1.3" fill="#c62c1a"/><rect x="966.7" y="129.6" width="27.3" height="1.3" fill="#c72c1a"/><rect x="966.7" y="130.6" width="27.3" height="1.3" fill="#c82c1a"/><rect x="966.7" y="131.6" width="27.3" height="1.3" fill="#c92c1a"/><rect x="966.7" y="132.6" width="27.3" height="1.3" fill="#c92c1a"/><rect x="966.7" y="133.6" width="27.3" height="1.3" fill="#ca2c1a"/><rect x="966.7" y="134.6" width="27.3" height="1.3" fill="#cb2c1a"/><rect x="966.7" y="135.6" width="27.3" height="1.3" fill="#cc2c1a"/><rect x="966.7" y="136.6" width="27.3" height="1.3" fill="#cd2c1a"/><rect x="966.7" y="137.6" width="27.3" height="1.3" fill="#ce2c1a"/><rect x="966.7" y="138.6" width="27.3" height="1.3" fill="#ce2c1a"/><rect x="966.7" y="139.6" width="27.3" height="1.3" fill="#cf2c1a"/><rect x="966.7" y="140.6" width="27.3" height="1.3" fill="#d02c1a"/><rect x="966.7" y="141.6" width="27.3" height="1.3" fill="#d12c1a"/><rect x="966.7" y="142.6" width="27.3" height="1.3" fill="#d22c1a"/><rect x="966.7" y="143.6" width="27.3" height="1.3" fill="#d32c1a"/><rect x="966.7" y="144.6" width="27.3" height="1.3" fill="#d42c1a"/><rect x="966.7" y="145.6" width="27.3" height="1.3" fill="#d42c1a"/><rect x="966.7" y="146.6" width="27.3" height="1.3" fill="#d52c1a"/><rect x="966.7" y="147.6" width="27.3" height="1.3" fill="#d62c1a"/><rect x="966.7" y="148.6" width="27.3" height="1.3" fill="#d72c1a"/><rect x="966.7" y="149.6" width="27.3" height="1.3" fill="#d82c1a"/><rect x="966.7" y="150.6" width="27.3" height="1.3" fill="#f0381a"/><rect x="966.7" y="151.6" width="27.3" height="1.3" fill="#f1381a"/><rect x="966.7" y="152.6" width="27.3" height="1.3" fill="#f13819"/><rect x="966.7" y="153.6" width="27.3" height="1.3" fill="#f23819"/><rect x="966.7" y="154.6" width="27.3" height="1.3" fill="#f23719"/><rect x="966.7" y="155.6" width="27.3" height="1.3" fill="#f33719"/><rect x="966.7" y="156.6" width="27.3" height="1.3" fill="#f33719"/><rect x="966.7" y="157.6" width="27.3" height="1.3" fill="#f43719"/><rect x="966.7" y="158.6" width="27.3" height="1.3" fill="#f43718"/><rect x="966.7" y="159.6" width="27.3" height="1.3" fill="#f43718"/><rect x="966.7" y="160.6" width="27.3" height="1.3" fill="#f53718"/><rect x="966.7" y="161.6" width="27.3" height="1.3" fill="#f53718"/><rect x="966.7" y="162.6" width="27.3" height="1.3" fill="#f63618"/><rect x="966.7" y="163.6" width="27.3" height="1.3" fill="#f63617"/><rect x="966.7" y="164.6" width="27.3" height="1.3" fill="#f73617"/><rect x="966.7" y="165.6" width="27.3" height="1.3" fill="#f73617"/><rect x="966.7" y="166.6" width="27.3" height="1.3" fill="#f83617"/><rect x="966.7" y="167.6" width="27.3" height="1.3" fill="#f83617"/><rect x="966.7" y="168.6" width="27.3" height="1.3" fill="#f93617"/><rect x="966.7" y="169.6" width="27.3" height="1.3" fill="#f93616"/><rect x="966.7" y="170.6" width="27.3" height="1.3" fill="#f93516"/><rect x="966.7" y="171.6" width="27.3" height="1.3" fill="#fa3516"/><rect x="966.7" y="172.6" width="27.3" height="1.3" fill="#fa3516"/><rect x="966.7" y="173.6" width="27.3" height="1.3" fill="#fb3516"/><rect x="966.7" y="174.6" width="27.3" height="1.3" fill="#fb3515"/><rect x="966.7" y="175.6" width="27.3" height="1.3" fill="#fc3515"/><rect x="966.7" y="176.6" width="27.3" height="1.3" fill="#fc3515"/><rect x="966.7" y="177.6" width="27.3" height="1.3" fill="#fd3515"/><rect x="966.7" y="178.6" width="27.3" height="1.3" fill="#fd3515"/><rect x="966.7" y="179.6" width="27.3" height="1.3" fill="#fe3415"/><rect x="966.7" y="180.6" width="27.3" height="1.3" fill="#fe3414"/><rect x="966.7" y="181.6" width="27.3" height="1.3" fill="#fe3414"/><rect x="966.7" y="182.6" width="27.3" height="1.3" fill="#ff3414"/><rect x="966.7" y="183.6" width="27.3" height="1.3" fill="#ff4d18"/><rect x="966.7" y="184.6" width="27.3" height="1.3" fill="#ff4e18"/><rect x="966.7" y="185.6" width="27.3" height="1.3" fill="#ff4f18"/><rect x="966.7" y="186.6" width="27.3" height="1.3" fill="#ff5018"/><rect x="966.7" y="187.6" width="27.3" height="1.3" fill="#ff5018"/><rect x="966.7" y="188.6" width="27.3" height="1.3" fill="#ff5118"/><rect x="966.7" y="189.6" width="27.3" height="1.3" fill="#ff5218"/><rect x="966.7" y="190.6" width="27.3" height="1.3" fill="#ff5318"/><rect x="966.7" y="191.6" width="27.3" height="1.3" fill="#ff5418"/><rect x="966.7" y="192.6" width="27.3" height="1.3" fill="#ff5518"/><rect x="966.7" y="193.6" width="27.3" height="1.3" fill="#ff5618"/><rect x="966.7" y="194.6" width="27.3" height="1.3" fill="#ff5718"/><rect x="966.7" y="195.6" width="27.3" height="1.3" fill="#ff5818"/><rect x="966.7" y="196.6" width="27.3" height="1.3" fill="#ff5918"/><rect x="966.7" y="197.6" width="27.3" height="1.3" fill="#ff5a18"/><rect x="966.7" y="198.6" width="27.3" height="1.3" fill="#ff5a18"/><rect x="966.7" y="199.6" width="27.3" height="1.3" fill="#ff5b18"/><rect x="966.7" y="200.6" width="27.3" height="1.3" fill="#ff5c18"/><rect x="966.7" y="201.6" width="27.3" height="1.3" fill="#ff5d18"/><rect x="966.7" y="202.6" width="27.3" height="1.3" fill="#ff5e18"/><rect x="966.7" y="203.6" width="27.3" height="1.3" fill="#ff5f18"/><rect x="966.7" y="204.6" width="27.3" height="1.3" fill="#ff6018"/><rect x="966.7" y="205.6" width="27.3" height="1.3" fill="#ff6118"/><rect x="966.7" y="206.6" width="27.3" height="1.3" fill="#ff6218"/><rect x="966.7" y="207.6" width="27.3" height="1.3" fill="#ff6318"/><rect x="966.7" y="208.6" width="27.3" height="1.3" fill="#ff6418"/><rect x="966.7" y="209.6" width="27.3" height="1.3" fill="#ff6418"/><rect x="966.7" y="210.6" width="27.3" height="1.3" fill="#ff6518"/><rect x="966.7" y="211.6" width="27.3" height="1.3" fill="#ff6618"/><rect x="966.7" y="212.6" width="27.3" height="1.3" fill="#ff6718"/><rect x="966.7" y="213.6" width="27.3" height="1.3" fill="#ff6818"/><rect x="966.7" y="214.6" width="27.3" height="1.3" fill="#ff6918"/><rect x="966.7" y="215.6" width="27.3" height="1.3" fill="#ff6a18"/><rect x="966.7" y="216.6" width="27.3" height="1.3" fill="#ff7d14"/><rect x="966.7" y="217.6" width="27.3" height="1.3" fill="#ff7e14"/><rect x="966.7" y="218.6" width="27.3" height="1.3" fill="#ff7f14"/><rect x="966.7" y="219.6" width="27.3" height="1.3" fill="#ff8014"/><rect x="966.7" y="220.6" width="27.3" height="1.3" fill="#ff8115"/><rect x="966.7" y="221.6" width="27.3" height="1.3" fill="#ff8215"/><rect x="966.7" y="222.6" width="27.3" height="1.3" fill="#ff8415"/><rect x="966.7" y="223.6" width="27.3" height="1.3" fill="#ff8515"/><rect x="966.7" y="224.6" width="27.3" height="1.3" fill="#ff8615"/><rect x="966.7" y="225.6" width="27.3" height="1.3" fill="#ff8715"/><rect x="966.7" y="226.6" width="27.3" height="1.3" fill="#ff8815"/><rect x="966.7" y="227.6" width="27.3" height="1.3" fill="#ff8915"/><rect x="966.7" y="228.6" width="27.3" height="1.3" fill="#ff8a16"/><rect x="966.7" y="229.6" width="27.3" height="1.3" fill="#ff8b16"/><rect x="966.7" y="230.6" width="27.3" height="1.3" fill="#ff8c16"/><rect x="966.7" y="231.6" width="27.3" height="1.3" fill="#ff8d16"/><rect x="966.7" y="232.6" width="27.3" height="1.3" fill="#ff8f16"/><rect x="966.7" y="233.6" width="27.3" height="1.3" fill="#ff9016"/><rect x="966.7" y="234.6" width="27.3" height="1.3" fill="#ff9116"/><rect x="966.7" y="235.6" width="27.3" height="1.3" fill="#ff9216"/><rect x="966.7" y="236.6" width="27.3" height="1.3" fill="#ff9317"/><rect x="966.7" y="237.6" width="27.3" height="1.3" fill="#ff9417"/><rect x="966.7" y="238.6" width="27.3" height="1.3" fill="#ff9517"/><rect x="966.7" y="239.6" width="27.3" height="1.3" fill="#ff9617"/><rect x="966.7" y="240.6" width="27.3" height="1.3" fill="#ff9717"/><rect x="966.7" y="241.6" width="27.3" height="1.3" fill="#ff9817"/><rect x="966.7" y="242.6" width="27.3" height="1.3" fill="#ff9917"/><rect x="966.7" y="243.6" width="27.3" height="1.3" fill="#ff9b17"/><rect x="966.7" y="244.6" width="27.3" height="1.3" fill="#ff9c18"/><rect x="966.7" y="245.6" width="27.3" height="1.3" fill="#ff9d18"/><rect x="966.7" y="246.6" width="27.3" height="1.3" fill="#ff9e18"/><rect x="966.7" y="247.6" width="27.3" height="1.3" fill="#ff9f18"/><rect x="966.7" y="248.6" width="27.3" height="1.3" fill="#ffa018"/><rect x="966.7" y="249.6" width="27.3" height="1.3" fill="#ffad18"/><rect x="966.7" y="250.6" width="27.3" height="1.3" fill="#ffae18"/><rect x="966.7" y="251.6" width="27.3" height="1.3" fill="#ffaf18"/><rect x="966.7" y="252.6" width="27.3" height="1.3" fill="#ffb018"/><rect x="966.7" y="253.6" width="27.3" height="1.3" fill="#ffb118"/><rect x="966.7" y="254.6" width="27.3" height="1.3" fill="#ffb318"/><rect x="966.7" y="255.6" width="27.3" height="1.3" fill="#ffb418"/><rect x="966.7" y="256.6" width="27.3" height="1.3" fill="#ffb518"/><rect x="966.7" y="257.6" width="27.3" height="1.3" fill="#ffb618"/><rect x="966.7" y="258.6" width="27.3" height="1.3" fill="#ffb718"/><rect x="966.7" y="259.6" width="27.3" height="1.3" fill="#ffb818"/><rect x="966.7" y="260.6" width="27.3" height="1.3" fill="#ffb918"/><rect x="966.7" y="261.6" width="27.3" height="1.3" fill="#ffba18"/><rect x="966.7" y="262.6" width="27.3" height="1.3" fill="#ffbb18"/><rect x="966.7" y="263.6" width="27.3" height="1.3" fill="#ffbc18"/><rect x="966.7" y="264.6" width="27.3" height="1.3" fill="#ffbd18"/><rect x="966.7" y="265.6" width="27.3" height="1.3" fill="#ffbf18"/><rect x="966.7" y="266.6" width="27.3" height="1.3" fill="#ffc018"/><rect x="966.7" y="267.6" width="27.3" height="1.3" fill="#ffc118"/><rect x="966.7" y="268.6" width="27.3" height="1.3" fill="#ffc218"/><rect x="966.7" y="269.6" width="27.3" height="1.3" fill="#ffc318"/><rect x="966.7" y="270.6" width="27.3" height="1.3" fill="#ffc418"/><rect x="966.7" y="271.6" width="27.3" height="1.3" fill="#ffc518"/><rect x="966.7" y="272.6" width="27.3" height="1.3" fill="#ffc618"/><rect x="966.7" y="273.6" width="27.3" height="1.3" fill="#ffc718"/><rect x="966.7" y="274.6" width="27.3" height="1.3" fill="#ffc818"/><rect x="966.7" y="275.6" width="27.3" height="1.3" fill="#ffca18"/><rect x="966.7" y="276.6" width="27.3" height="1.3" fill="#ffcb18"/><rect x="966.7" y="277.6" width="27.3" height="1.3" fill="#ffcc18"/><rect x="966.7" y="278.6" width="27.3" height="1.3" fill="#ffcd18"/><rect x="966.7" y="279.6" width="27.3" height="1.3" fill="#ffce18"/><rect x="966.7" y="280.6" width="27.3" height="1.3" fill="#ffcf18"/><rect x="966.7" y="281.6" width="27.3" height="1.3" fill="#ffe018"/><rect x="966.7" y="282.6" width="27.3" height="1.3" fill="#ffe118"/><rect x="966.7" y="283.6" width="27.3" height="1.3" fill="#ffe118"/><rect x="966.7" y="284.6" width="27.3" height="1.3" fill="#ffe218"/><rect x="966.7" y="285.6" width="27.3" height="1.3" fill="#ffe218"/><rect x="966.7" y="286.6" width="27.3" height="1.3" fill="#ffe319"/><rect x="966.7" y="287.6" width="27.3" height="1.3" fill="#ffe419"/><rect x="966.7" y="288.6" width="27.3" height="1.3" fill="#ffe419"/><rect x="966.7" y="289.6" width="27.3" height="1.3" fill="#ffe519"/><rect x="966.7" y="290.6" width="27.3" height="1.3" fill="#ffe619"/><rect x="966.7" y="291.6" width="27.3" height="1.3" fill="#ffe619"/><rect x="966.7" y="292.6" width="27.3" height="1.3" fill="#ffe719"/><rect x="966.7" y="293.6" width="27.3" height="1.3" fill="#ffe719"/><rect x="966.7" y="294.6" width="27.3" height="1.3" fill="#ffe81a"/><rect x="966.7" y="295.6" width="27.3" height="1.3" fill="#ffe91a"/><rect x="966.7" y="296.6" width="27.3" height="1.3" fill="#ffe91a"/><rect x="966.7" y="297.6" width="27.3" height="1.3" fill="#ffea1a"/><rect x="966.7" y="298.6" width="27.3" height="1.3" fill="#ffea1a"/><rect x="966.7" y="299.6" width="27.3" height="1.3" fill="#ffeb1a"/><rect x="966.7" y="300.6" width="27.3" height="1.3" fill="#ffec1a"/><rect x="966.7" y="301.6" width="27.3" height="1.3" fill="#ffec1a"/><rect x="966.7" y="302.6" width="27.3" height="1.3" fill="#ffed1b"/><rect x="966.7" y="303.6" width="27.3" height="1.3" fill="#ffed1b"/><rect x="966.7" y="304.6" width="27.3" height="1.3" fill="#ffee1b"/><rect x="966.7" y="305.6" width="27.3" height="1.3" fill="#ffef1b"/><rect x="966.7" y="306.6" width="27.3" height="1.3" fill="#ffef1b"/><rect x="966.7" y="307.6" width="27.3" height="1.3" fill="#fff01b"/><rect x="966.7" y="308.6" width="27.3" height="1.3" fill="#fff01b"/><rect x="966.7" y="309.6" width="27.3" height="1.3" fill="#fff11b"/><rect x="966.7" y="310.6" width="27.3" height="1.3" fill="#fff21c"/><rect x="966.7" y="311.6" width="27.3" height="1.3" fill="#fff21c"/><rect x="966.7" y="312.6" width="27.3" height="1.3" fill="#fff31c"/><rect x="966.7" y="313.6" width="27.3" height="1.3" fill="#fff31c"/><rect x="966.7" y="314.6" width="27.3" height="1.3" fill="#f4fc20"/><rect x="966.7" y="315.6" width="27.3" height="1.3" fill="#f3fc21"/><rect x="966.7" y="316.6" width="27.3" height="1.3" fill="#f2fc23"/><rect x="966.7" y="317.6" width="27.3" height="1.3" fill="#f1fc24"/><rect x="966.7" y="318.6" width="27.3" height="1.3" fill="#f0fb25"/><rect x="966.7" y="319.6" width="27.3" height="1.3" fill="#f0fb26"/><rect x="966.7" y="320.6" width="27.3" height="1.3" fill="#effb27"/><rect x="966.7" y="321.6" width="27.3" height="1.3" fill="#eefb29"/><rect x="966.7" y="322.6" width="27.3" height="1.3" fill="#edfb2a"/><rect x="966.7" y="323.6" width="27.3" height="1.3" fill="#ecfb2b"/><rect x="966.7" y="324.6" width="27.3" height="1.3" fill="#ebfb2c"/><rect x="966.7" y="325.6" width="27.3" height="1.3" fill="#ebfb2e"/><rect x="966.7" y="326.6" width="27.3" height="1.3" fill="#eafb2f"/><rect x="966.7" y="327.6" width="27.3" height="1.3" fill="#e9fa30"/><rect x="966.7" y="328.6" width="27.3" height="1.3" fill="#e8fa31"/><rect x="966.7" y="329.6" width="27.3" height="1.3" fill="#e7fa32"/><rect x="966.7" y="330.6" width="27.3" height="1.3" fill="#e6fa34"/><rect x="966.7" y="331.6" width="27.3" height="1.3" fill="#e5fa35"/><rect x="966.7" y="332.6" width="27.3" height="1.3" fill="#e5fa36"/><rect x="966.7" y="333.6" width="27.3" height="1.3" fill="#e4fa37"/><rect x="966.7" y="334.6" width="27.3" height="1.3" fill="#e3fa38"/><rect x="966.7" y="335.6" width="27.3" height="1.3" fill="#e2f93a"/><rect x="966.7" y="336.6" width="27.3" height="1.3" fill="#e1f93b"/><rect x="966.7" y="337.6" width="27.3" height="1.3" fill="#e0f93c"/><rect x="966.7" y="338.6" width="27.3" height="1.3" fill="#dff93d"/><rect x="966.7" y="339.6" width="27.3" height="1.3" fill="#dff93f"/><rect x="966.7" y="340.6" width="27.3" height="1.3" fill="#def940"/><rect x="966.7" y="341.6" width="27.3" height="1.3" fill="#ddf941"/><rect x="966.7" y="342.6" width="27.3" height="1.3" fill="#dcf942"/><rect x="966.7" y="343.6" width="27.3" height="1.3" fill="#dbf843"/><rect x="966.7" y="344.6" width="27.3" height="1.3" fill="#daf845"/><rect x="966.7" y="345.6" width="27.3" height="1.3" fill="#daf846"/><rect x="966.7" y="346.6" width="27.3" height="1.3" fill="#d9f847"/><rect x="966.7" y="347.6" width="27.3" height="1.3" fill="#c8f468"/><rect x="966.7" y="348.6" width="27.3" height="1.3" fill="#c7f469"/><rect x="966.7" y="349.6" width="27.3" height="1.3" fill="#c6f46a"/><rect x="966.7" y="350.6" width="27.3" height="1.3" fill="#c4f46b"/><rect x="966.7" y="351.6" width="27.3" height="1.3" fill="#c3f36c"/><rect x="966.7" y="352.6" width="27.3" height="1.3" fill="#c2f36d"/><rect x="966.7" y="353.6" width="27.3" height="1.3" fill="#c1f36e"/><rect x="966.7" y="354.6" width="27.3" height="1.3" fill="#c0f36f"/><rect x="966.7" y="355.6" width="27.3" height="1.3" fill="#bff370"/><rect x="966.7" y="356.6" width="27.3" height="1.3" fill="#bef371"/><rect x="966.7" y="357.6" width="27.3" height="1.3" fill="#bdf372"/><rect x="966.7" y="358.6" width="27.3" height="1.3" fill="#bcf373"/><rect x="966.7" y="359.6" width="27.3" height="1.3" fill="#bbf374"/><rect x="966.7" y="360.6" width="27.3" height="1.3" fill="#baf275"/><rect x="966.7" y="361.6" width="27.3" height="1.3" fill="#b8f276"/><rect x="966.7" y="362.6" width="27.3" height="1.3" fill="#b7f277"/><rect x="966.7" y="363.6" width="27.3" height="1.3" fill="#b6f278"/><rect x="966.7" y="364.6" width="27.3" height="1.3" fill="#b5f279"/><rect x="966.7" y="365.6" width="27.3" height="1.3" fill="#b4f27a"/><rect x="966.7" y="366.6" width="27.3" height="1.3" fill="#b3f27b"/><rect x="966.7" y="367.6" width="27.3" height="1.3" fill="#b2f27c"/><rect x="966.7" y="368.6" width="27.3" height="1.3" fill="#b1f17d"/><rect x="966.7" y="369.6" width="27.3" height="1.3" fill="#b0f17e"/><rect x="966.7" y="370.6" width="27.3" height="1.3" fill="#aff17f"/><rect x="966.7" y="371.6" width="27.3" height="1.3" fill="#aef180"/><rect x="966.7" y="372.6" width="27.3" height="1.3" fill="#acf181"/><rect x="966.7" y="373.6" width="27.3" height="1.3" fill="#abf181"/><rect x="966.7" y="374.6" width="27.3" height="1.3" fill="#aaf182"/><rect x="966.7" y="375.6" width="27.3" height="1.3" fill="#a9f183"/><rect x="966.7" y="376.6" width="27.3" height="1.3" fill="#a8f084"/><rect x="966.7" y="377.6" width="27.3" height="1.3" fill="#a7f085"/><rect x="966.7" y="378.6" width="27.3" height="1.3" fill="#a6f086"/><rect x="966.7" y="379.6" width="27.3" height="1.3" fill="#a5f087"/><rect x="966.7" y="380.6" width="27.3" height="1.3" fill="#98f0a0"/><rect x="966.7" y="381.6" width="27.3" height="1.3" fill="#97f0a1"/><rect x="966.7" y="382.6" width="27.3" height="1.3" fill="#96f0a2"/><rect x="966.7" y="383.6" width="27.3" height="1.3" fill="#95f0a2"/><rect x="966.7" y="384.6" width="27.3" height="1.3" fill="#94f0a3"/><rect x="966.7" y="385.6" width="27.3" height="1.3" fill="#93f0a4"/><rect x="966.7" y="386.6" width="27.3" height="1.3" fill="#92f0a5"/><rect x="966.7" y="387.6" width="27.3" height="1.3" fill="#91f0a5"/><rect x="966.7" y="388.6" width="27.3" height="1.3" fill="#90f0a6"/><rect x="966.7" y="389.6" width="27.3" height="1.3" fill="#8ff0a7"/><rect x="966.7" y="390.6" width="27.3" height="1.3" fill="#8ef0a8"/><rect x="966.7" y="391.6" width="27.3" height="1.3" fill="#8df0a8"/><rect x="966.7" y="392.6" width="27.3" height="1.3" fill="#8cf0a9"/><rect x="966.7" y="393.6" width="27.3" height="1.3" fill="#8bf0aa"/><rect x="966.7" y="394.6" width="27.3" height="1.3" fill="#8af0aa"/><rect x="966.7" y="395.6" width="27.3" height="1.3" fill="#89f0ab"/><rect x="966.7" y="396.6" width="27.3" height="1.3" fill="#88f0ac"/><rect x="966.7" y="397.6" width="27.3" height="1.3" fill="#87f0ad"/><rect x="966.7" y="398.6" width="27.3" height="1.3" fill="#86f0ad"/><rect x="966.7" y="399.6" width="27.3" height="1.3" fill="#85f0ae"/><rect x="966.7" y="400.6" width="27.3" height="1.3" fill="#84f0af"/><rect x="966.7" y="401.6" width="27.3" height="1.3" fill="#83f0b0"/><rect x="966.7" y="402.6" width="27.3" height="1.3" fill="#82f0b0"/><rect x="966.7" y="403.6" width="27.3" height="1.3" fill="#81f0b1"/><rect x="966.7" y="404.6" width="27.3" height="1.3" fill="#80f0b2"/><rect x="966.7" y="405.6" width="27.3" height="1.3" fill="#7ff0b2"/><rect x="966.7" y="406.6" width="27.3" height="1.3" fill="#7ef0b3"/><rect x="966.7" y="407.6" width="27.3" height="1.3" fill="#7df0b4"/><rect x="966.7" y="408.6" width="27.3" height="1.3" fill="#7cf0b5"/><rect x="966.7" y="409.6" width="27.3" height="1.3" fill="#7cf0b5"/><rect x="966.7" y="410.6" width="27.3" height="1.3" fill="#7bf0b6"/><rect x="966.7" y="411.6" width="27.3" height="1.3" fill="#7af0b7"/><rect x="966.7" y="412.6" width="27.3" height="1.3" fill="#79f0b8"/><rect x="966.7" y="413.6" width="27.3" height="1.3" fill="#58f0d0"/><rect x="966.7" y="414.6" width="27.3" height="1.3" fill="#57f0d1"/><rect x="966.7" y="415.6" width="27.3" height="1.3" fill="#56f0d1"/><rect x="966.7" y="416.6" width="27.3" height="1.3" fill="#56f0d2"/><rect x="966.7" y="417.6" width="27.3" height="1.3" fill="#55f0d2"/><rect x="966.7" y="418.6" width="27.3" height="1.3" fill="#54f0d3"/><rect x="966.7" y="419.6" width="27.3" height="1.3" fill="#53f0d3"/><rect x="966.7" y="420.6" width="27.3" height="1.3" fill="#53f0d4"/><rect x="966.7" y="421.6" width="27.3" height="1.3" fill="#52f0d4"/><rect x="966.7" y="422.6" width="27.3" height="1.3" fill="#51f0d5"/><rect x="966.7" y="423.6" width="27.3" height="1.3" fill="#50f0d5"/><rect x="966.7" y="424.6" width="27.3" height="1.3" fill="#50f0d6"/><rect x="966.7" y="425.6" width="27.3" height="1.3" fill="#4ff0d6"/><rect x="966.7" y="426.6" width="27.3" height="1.3" fill="#4ef0d6"/><rect x="966.7" y="427.6" width="27.3" height="1.3" fill="#4ef0d7"/><rect x="966.7" y="428.6" width="27.3" height="1.3" fill="#4df0d7"/><rect x="966.7" y="429.6" width="27.3" height="1.3" fill="#4cf0d8"/><rect x="966.7" y="430.6" width="27.3" height="1.3" fill="#4bf0d8"/><rect x="966.7" y="431.6" width="27.3" height="1.3" fill="#4bf0d9"/><rect x="966.7" y="432.6" width="27.3" height="1.3" fill="#4af0d9"/><rect x="966.7" y="433.6" width="27.3" height="1.3" fill="#49f0da"/><rect x="966.7" y="434.6" width="27.3" height="1.3" fill="#48f0da"/><rect x="966.7" y="435.6" width="27.3" height="1.3" fill="#48f0db"/><rect x="966.7" y="436.6" width="27.3" height="1.3" fill="#47f0db"/><rect x="966.7" y="437.6" width="27.3" height="1.3" fill="#46f0dc"/><rect x="966.7" y="438.6" width="27.3" height="1.3" fill="#46f0dc"/><rect x="966.7" y="439.6" width="27.3" height="1.3" fill="#45f0dd"/><rect x="966.7" y="440.6" width="27.3" height="1.3" fill="#44f0dd"/><rect x="966.7" y="441.6" width="27.3" height="1.3" fill="#43f0de"/><rect x="966.7" y="442.6" width="27.3" height="1.3" fill="#43f0de"/><rect x="966.7" y="443.6" width="27.3" height="1.3" fill="#42f0df"/><rect x="966.7" y="444.6" width="27.3" height="1.3" fill="#41f0df"/><rect x="966.7" y="445.6" width="27.3" height="1.3" fill="#40f0e0"/><rect x="966.7" y="446.6" width="27.3" height="1.3" fill="#30f4ff"/><rect x="966.7" y="447.6" width="27.3" height="1.3" fill="#30f3ff"/><rect x="966.7" y="448.6" width="27.3" height="1.3" fill="#30f2ff"/><rect x="966.7" y="449.6" width="27.3" height="1.3" fill="#30f1ff"/><rect x="966.7" y="450.6" width="27.3" height="1.3" fill="#30f1ff"/><rect x="966.7" y="451.6" width="27.3" height="1.3" fill="#30f0ff"/><rect x="966.7" y="452.6" width="27.3" height="1.3" fill="#30efff"/><rect x="966.7" y="453.6" width="27.3" height="1.3" fill="#30efff"/><rect x="966.7" y="454.6" width="27.3" height="1.3" fill="#30eeff"/><rect x="966.7" y="455.6" width="27.3" height="1.3" fill="#30edff"/><rect x="966.7" y="456.6" width="27.3" height="1.3" fill="#30ecff"/><rect x="966.7" y="457.6" width="27.3" height="1.3" fill="#30ecff"/><rect x="966.7" y="458.6" width="27.3" height="1.3" fill="#30ebff"/><rect x="966.7" y="459.6" width="27.3" height="1.3" fill="#30eaff"/><rect x="966.7" y="460.6" width="27.3" height="1.3" fill="#30e9ff"/><rect x="966.7" y="461.6" width="27.3" height="1.3" fill="#30e9ff"/><rect x="966.7" y="462.6" width="27.3" height="1.3" fill="#30e8ff"/><rect x="966.7" y="463.6" width="27.3" height="1.3" fill="#30e7ff"/><rect x="966.7" y="464.6" width="27.3" height="1.3" fill="#30e7ff"/><rect x="966.7" y="465.6" width="27.3" height="1.3" fill="#30e6ff"/><rect x="966.7" y="466.6" width="27.3" height="1.3" fill="#30e5ff"/><rect x="966.7" y="467.6" width="27.3" height="1.3" fill="#30e4ff"/><rect x="966.7" y="468.6" width="27.3" height="1.3" fill="#30e4ff"/><rect x="966.7" y="469.6" width="27.3" height="1.3" fill="#30e3ff"/><rect x="966.7" y="470.6" width="27.3" height="1.3" fill="#30e2ff"/><rect x="966.7" y="471.6" width="27.3" height="1.3" fill="#30e1ff"/><rect x="966.7" y="472.6" width="27.3" height="1.3" fill="#30e1ff"/><rect x="966.7" y="473.6" width="27.3" height="1.3" fill="#30e0ff"/><rect x="966.7" y="474.6" width="27.3" height="1.3" fill="#30dfff"/><rect x="966.7" y="475.6" width="27.3" height="1.3" fill="#30dfff"/><rect x="966.7" y="476.6" width="27.3" height="1.3" fill="#30deff"/><rect x="966.7" y="477.6" width="27.3" height="1.3" fill="#30ddff"/><rect x="966.7" y="478.6" width="27.3" height="1.3" fill="#30dcff"/><rect x="966.7" y="479.6" width="27.3" height="1.3" fill="#30c4ff"/><rect x="966.7" y="480.6" width="27.3" height="1.3" fill="#30c3ff"/><rect x="966.7" y="481.6" width="27.3" height="1.3" fill="#2fc2ff"/><rect x="966.7" y="482.6" width="27.3" height="1.3" fill="#2fc1ff"/><rect x="966.7" y="483.6" width="27.3" height="1.3" fill="#2fc1ff"/><rect x="966.7" y="484.6" width="27.3" height="1.3" fill="#2fc0ff"/><rect x="966.7" y="485.6" width="27.3" height="1.3" fill="#2ebfff"/><rect x="966.7" y="486.6" width="27.3" height="1.3" fill="#2ebfff"/><rect x="966.7" y="487.6" width="27.3" height="1.3" fill="#2ebeff"/><rect x="966.7" y="488.6" width="27.3" height="1.3" fill="#2ebdff"/><rect x="966.7" y="489.6" width="27.3" height="1.3" fill="#2dbcff"/><rect x="966.7" y="490.6" width="27.3" height="1.3" fill="#2dbcff"/><rect x="966.7" y="491.6" width="27.3" height="1.3" fill="#2dbbff"/><rect x="966.7" y="492.6" width="27.3" height="1.3" fill="#2dbaff"/><rect x="966.7" y="493.6" width="27.3" height="1.3" fill="#2cb9ff"/><rect x="966.7" y="494.6" width="27.3" height="1.3" fill="#2cb9ff"/><rect x="966.7" y="495.6" width="27.3" height="1.3" fill="#2cb8ff"/><rect x="966.7" y="496.6" width="27.3" height="1.3" fill="#2cb7ff"/><rect x="966.7" y="497.6" width="27.3" height="1.3" fill="#2bb6ff"/><rect x="966.7" y="498.6" width="27.3" height="1.3" fill="#2bb6ff"/><rect x="966.7" y="499.6" width="27.3" height="1.3" fill="#2bb5ff"/><rect x="966.7" y="500.6" width="27.3" height="1.3" fill="#2bb4ff"/><rect x="966.7" y="501.6" width="27.3" height="1.3" fill="#2bb4ff"/><rect x="966.7" y="502.6" width="27.3" height="1.3" fill="#2ab3ff"/><rect x="966.7" y="503.6" width="27.3" height="1.3" fill="#2ab2ff"/><rect x="966.7" y="504.6" width="27.3" height="1.3" fill="#2ab1ff"/><rect x="966.7" y="505.6" width="27.3" height="1.3" fill="#2ab1ff"/><rect x="966.7" y="506.6" width="27.3" height="1.3" fill="#29b0ff"/><rect x="966.7" y="507.6" width="27.3" height="1.3" fill="#29afff"/><rect x="966.7" y="508.6" width="27.3" height="1.3" fill="#29aeff"/><rect x="966.7" y="509.6" width="27.3" height="1.3" fill="#29aeff"/><rect x="966.7" y="510.6" width="27.3" height="1.3" fill="#28adff"/><rect x="966.7" y="511.6" width="27.3" height="1.3" fill="#28acff"/><rect x="966.7" y="512.6" width="27.3" height="1.3" fill="#24a0ff"/><rect x="966.7" y="513.6" width="27.3" height="1.3" fill="#249ffe"/><rect x="966.7" y="514.6" width="27.3" height="1.3" fill="#249efe"/><rect x="966.7" y="515.6" width="27.3" height="1.3" fill="#249dfe"/><rect x="966.7" y="516.6" width="27.3" height="1.3" fill="#239dfd"/><rect x="966.7" y="517.6" width="27.3" height="1.3" fill="#239cfd"/><rect x="966.7" y="518.6" width="27.3" height="1.3" fill="#239bfd"/><rect x="966.7" y="519.6" width="27.3" height="1.3" fill="#239afc"/><rect x="966.7" y="520.6" width="27.3" height="1.3" fill="#239afc"/><rect x="966.7" y="521.6" width="27.3" height="1.3" fill="#2399fc"/><rect x="966.7" y="522.6" width="27.3" height="1.3" fill="#2398fb"/><rect x="966.7" y="523.6" width="27.3" height="1.3" fill="#2398fb"/><rect x="966.7" y="524.6" width="27.3" height="1.3" fill="#2297fb"/><rect x="966.7" y="525.6" width="27.3" height="1.3" fill="#2296fa"/><rect x="966.7" y="526.6" width="27.3" height="1.3" fill="#2295fa"/><rect x="966.7" y="527.6" width="27.3" height="1.3" fill="#2295fa"/><rect x="966.7" y="528.6" width="27.3" height="1.3" fill="#2294f9"/><rect x="966.7" y="529.6" width="27.3" height="1.3" fill="#2293f9"/><rect x="966.7" y="530.6" width="27.3" height="1.3" fill="#2292f9"/><rect x="966.7" y="531.6" width="27.3" height="1.3" fill="#2292f8"/><rect x="966.7" y="532.6" width="27.3" height="1.3" fill="#2191f8"/><rect x="966.7" y="533.6" width="27.3" height="1.3" fill="#2190f8"/><rect x="966.7" y="534.6" width="27.3" height="1.3" fill="#2190f7"/><rect x="966.7" y="535.6" width="27.3" height="1.3" fill="#218ff7"/><rect x="966.7" y="536.6" width="27.3" height="1.3" fill="#218ef7"/><rect x="966.7" y="537.6" width="27.3" height="1.3" fill="#218df6"/><rect x="966.7" y="538.6" width="27.3" height="1.3" fill="#218df6"/><rect x="966.7" y="539.6" width="27.3" height="1.3" fill="#218cf6"/><rect x="966.7" y="540.6" width="27.3" height="1.3" fill="#218bf5"/><rect x="966.7" y="541.6" width="27.3" height="1.3" fill="#208af5"/><rect x="966.7" y="542.6" width="27.3" height="1.3" fill="#208af5"/><rect x="966.7" y="543.6" width="27.3" height="1.3" fill="#2089f4"/><rect x="966.7" y="544.6" width="27.3" height="1.3" fill="#2088f4"/><rect x="966.7" y="545.6" width="27.3" height="1.3" fill="#2070f8"/><rect x="966.7" y="546.6" width="27.3" height="1.3" fill="#206ff8"/><rect x="966.7" y="547.6" width="27.3" height="1.3" fill="#206ef7"/><rect x="966.7" y="548.6" width="27.3" height="1.3" fill="#206ef7"/><rect x="966.7" y="549.6" width="27.3" height="1.3" fill="#1f6df7"/><rect x="966.7" y="550.6" width="27.3" height="1.3" fill="#1f6df7"/><rect x="966.7" y="551.6" width="27.3" height="1.3" fill="#1f6cf6"/><rect x="966.7" y="552.6" width="27.3" height="1.3" fill="#1f6bf6"/><rect x="966.7" y="553.6" width="27.3" height="1.3" fill="#1f6bf6"/><rect x="966.7" y="554.6" width="27.3" height="1.3" fill="#1f6af6"/><rect x="966.7" y="555.6" width="27.3" height="1.3" fill="#1f6af5"/><rect x="966.7" y="556.6" width="27.3" height="1.3" fill="#1f69f5"/><rect x="966.7" y="557.6" width="27.3" height="1.3" fill="#1e68f5"/><rect x="966.7" y="558.6" width="27.3" height="1.3" fill="#1e68f5"/><rect x="966.7" y="559.6" width="27.3" height="1.3" fill="#1e67f4"/><rect x="966.7" y="560.6" width="27.3" height="1.3" fill="#1e66f4"/><rect x="966.7" y="561.6" width="27.3" height="1.3" fill="#1e66f4"/><rect x="966.7" y="562.6" width="27.3" height="1.3" fill="#1e65f4"/><rect x="966.7" y="563.6" width="27.3" height="1.3" fill="#1e65f3"/><rect x="966.7" y="564.6" width="27.3" height="1.3" fill="#1e64f3"/><rect x="966.7" y="565.6" width="27.3" height="1.3" fill="#1d63f3"/><rect x="966.7" y="566.6" width="27.3" height="1.3" fill="#1d63f3"/><rect x="966.7" y="567.6" width="27.3" height="1.3" fill="#1d62f2"/><rect x="966.7" y="568.6" width="27.3" height="1.3" fill="#1d62f2"/><rect x="966.7" y="569.6" width="27.3" height="1.3" fill="#1d61f2"/><rect x="966.7" y="570.6" width="27.3" height="1.3" fill="#1d60f2"/><rect x="966.7" y="571.6" width="27.3" height="1.3" fill="#1d60f2"/><rect x="966.7" y="572.6" width="27.3" height="1.3" fill="#1d5ff1"/><rect x="966.7" y="573.6" width="27.3" height="1.3" fill="#1d5ff1"/><rect x="966.7" y="574.6" width="27.3" height="1.3" fill="#1c5ef1"/><rect x="966.7" y="575.6" width="27.3" height="1.3" fill="#1c5df1"/><rect x="966.7" y="576.6" width="27.3" height="1.3" fill="#1c5df0"/><rect x="966.7" y="577.6" width="27.3" height="1.3" fill="#1c5cf0"/><rect x="966.7" y="578.6" width="27.3" height="1.3" fill="#1844ff"/><rect x="966.7" y="579.6" width="27.3" height="1.3" fill="#1843fe"/><rect x="966.7" y="580.6" width="27.3" height="1.3" fill="#1843fe"/><rect x="966.7" y="581.6" width="27.3" height="1.3" fill="#1843fd"/><rect x="966.7" y="582.6" width="27.3" height="1.3" fill="#1842fd"/><rect x="966.7" y="583.6" width="27.3" height="1.3" fill="#1842fc"/><rect x="966.7" y="584.6" width="27.3" height="1.3" fill="#1842fc"/><rect x="966.7" y="585.6" width="27.3" height="1.3" fill="#1841fb"/><rect x="966.7" y="586.6" width="27.3" height="1.3" fill="#1841fb"/><rect x="966.7" y="587.6" width="27.3" height="1.3" fill="#1840fb"/><rect x="966.7" y="588.6" width="27.3" height="1.3" fill="#1840fa"/><rect x="966.7" y="589.6" width="27.3" height="1.3" fill="#1840fa"/><rect x="966.7" y="590.6" width="27.3" height="1.3" fill="#183ff9"/><rect x="966.7" y="591.6" width="27.3" height="1.3" fill="#183ff9"/><rect x="966.7" y="592.6" width="27.3" height="1.3" fill="#183ff8"/><rect x="966.7" y="593.6" width="27.3" height="1.3" fill="#183ef8"/><rect x="966.7" y="594.6" width="27.3" height="1.3" fill="#183ef7"/><rect x="966.7" y="595.6" width="27.3" height="1.3" fill="#183ef7"/><rect x="966.7" y="596.6" width="27.3" height="1.3" fill="#183df6"/><rect x="966.7" y="597.6" width="27.3" height="1.3" fill="#183df6"/><rect x="966.7" y="598.6" width="27.3" height="1.3" fill="#183cf6"/><rect x="966.7" y="599.6" width="27.3" height="1.3" fill="#183cf5"/><rect x="966.7" y="600.6" width="27.3" height="1.3" fill="#183cf5"/><rect x="966.7" y="601.6" width="27.3" height="1.3" fill="#183bf4"/><rect x="966.7" y="602.6" width="27.3" height="1.3" fill="#183bf4"/><rect x="966.7" y="603.6" width="27.3" height="1.3" fill="#183bf3"/><rect x="966.7" y="604.6" width="27.3" height="1.3" fill="#183af3"/><rect x="966.7" y="605.6" width="27.3" height="1.3" fill="#183af2"/><rect x="966.7" y="606.6" width="27.3" height="1.3" fill="#183af2"/><rect x="966.7" y="607.6" width="27.3" height="1.3" fill="#1839f1"/><rect x="966.7" y="608.6" width="27.3" height="1.3" fill="#1839f1"/><rect x="966.7" y="609.6" width="27.3" height="1.3" fill="#1838f1"/><rect x="966.7" y="610.6" width="27.3" height="1.3" fill="#1838f0"/><rect x="966.7" y="611.6" width="27.3" height="1.3" fill="#1838d0"/><rect x="966.7" y="612.6" width="27.3" height="1.3" fill="#1838cf"/><rect x="966.7" y="613.6" width="27.3" height="1.3" fill="#1837cf"/><rect x="966.7" y="614.6" width="27.3" height="1.3" fill="#1837ce"/><rect x="966.7" y="615.6" width="27.3" height="1.3" fill="#1837ce"/><rect x="966.7" y="616.6" width="27.3" height="1.3" fill="#1837cd"/><rect x="966.7" y="617.6" width="27.3" height="1.3" fill="#1836cd"/><rect x="966.7" y="618.6" width="27.3" height="1.3" fill="#1836cc"/><rect x="966.7" y="619.6" width="27.3" height="1.3" fill="#1836cc"/><rect x="966.7" y="620.6" width="27.3" height="1.3" fill="#1836cb"/><rect x="966.7" y="621.6" width="27.3" height="1.3" fill="#1835cb"/><rect x="966.7" y="622.6" width="27.3" height="1.3" fill="#1835ca"/><rect x="966.7" y="623.6" width="27.3" height="1.3" fill="#1835ca"/><rect x="966.7" y="624.6" width="27.3" height="1.3" fill="#1835c9"/><rect x="966.7" y="625.6" width="27.3" height="1.3" fill="#1834c9"/><rect x="966.7" y="626.6" width="27.3" height="1.3" fill="#1834c8"/><rect x="966.7" y="627.6" width="27.3" height="1.3" fill="#1834c8"/><rect x="966.7" y="628.6" width="27.3" height="1.3" fill="#1834c7"/><rect x="966.7" y="629.6" width="27.3" height="1.3" fill="#1833c7"/><rect x="966.7" y="630.6" width="27.3" height="1.3" fill="#1833c6"/><rect x="966.7" y="631.6" width="27.3" height="1.3" fill="#1833c6"/><rect x="966.7" y="632.6" width="27.3" height="1.3" fill="#1833c5"/><rect x="966.7" y="633.6" width="27.3" height="1.3" fill="#1832c5"/><rect x="966.7" y="634.6" width="27.3" height="1.3" fill="#1832c4"/><rect x="966.7" y="635.6" width="27.3" height="1.3" fill="#1832c4"/><rect x="966.7" y="636.6" width="27.3" height="1.3" fill="#1832c3"/><rect x="966.7" y="637.6" width="27.3" height="1.3" fill="#1831c3"/><rect x="966.7" y="638.6" width="27.3" height="1.3" fill="#1831c2"/><rect x="966.7" y="639.6" width="27.3" height="1.3" fill="#1831c2"/><rect x="966.7" y="640.6" width="27.3" height="1.3" fill="#1831c2"/><rect x="966.7" y="641.6" width="27.3" height="1.3" fill="#1831c1"/><rect x="966.7" y="642.6" width="27.3" height="1.3" fill="#1830c1"/><rect x="966.7" y="643.6" width="27.3" height="1.3" fill="#1830c0"/><rect x="966.7" y="644.6" width="27.3" height="1.3" fill="#1a34a8"/><rect x="966.7" y="645.6" width="27.3" height="1.3" fill="#1a34a7"/><rect x="966.7" y="646.6" width="27.3" height="1.3" fill="#1a33a7"/><rect x="966.7" y="647.6" width="27.3" height="1.3" fill="#1a33a6"/><rect x="966.7" y="648.6" width="27.3" height="1.3" fill="#1a33a6"/><rect x="966.7" y="649.6" width="27.3" height="1.3" fill="#1a33a5"/><rect x="966.7" y="650.6" width="27.3" height="1.3" fill="#1a33a5"/><rect x="966.7" y="651.6" width="27.3" height="1.3" fill="#1a33a5"/><rect x="966.7" y="652.6" width="27.3" height="1.3" fill="#1a32a4"/><rect x="966.7" y="653.6" width="27.3" height="1.3" fill="#1a32a4"/><rect x="966.7" y="654.6" width="27.3" height="1.3" fill="#1a32a3"/><rect x="966.7" y="655.6" width="27.3" height="1.3" fill="#1a32a3"/><rect x="966.7" y="656.6" width="27.3" height="1.3" fill="#1a32a3"/><rect x="966.7" y="657.6" width="27.3" height="1.3" fill="#1a31a2"/><rect x="966.7" y="658.6" width="27.3" height="1.3" fill="#1a31a2"/><rect x="966.7" y="659.6" width="27.3" height="1.3" fill="#1a31a1"/><rect x="966.7" y="660.6" width="27.3" height="1.3" fill="#1a31a1"/><rect x="966.7" y="661.6" width="27.3" height="1.3" fill="#1a31a0"/><rect x="966.7" y="662.6" width="27.3" height="1.3" fill="#1a31a0"/><rect x="966.7" y="663.6" width="27.3" height="1.3" fill="#1a30a0"/><rect x="966.7" y="664.6" width="27.3" height="0.5" fill="#1a309f"/></g><g stroke="#222" stroke-width="1.2"><path d="M966.7 644.2h9M985 644.2h9"/><path d="M966.7 611.3h9M985 611.3h9"/><path d="M966.7 578.4h9M985 578.4h9"/><path d="M966.7 545.4h9M985 545.4h9"/><path d="M966.7 512.5h9M985 512.5h9"/><path d="M966.7 479.6h9M985 479.6h9"/><path d="M966.7 446.6h9M985 446.6h9"/><path d="M966.7 413.7h9M985 413.7h9"/><path d="M966.7 380.8h9M985 380.8h9"/><path d="M966.7 347.9h9M985 347.9h9"/><path d="M966.7 315h9M985 315h9"/><path d="M966.7 282h9M985 282h9"/><path d="M966.7 249.1h9M985 249.1h9"/><path d="M966.7 216.2h9M985 216.2h9"/><path d="M966.7 183.2h9M985 183.2h9"/><path d="M966.7 150.3h9M985 150.3h9"/><path d="M966.7 117.4h9M985 117.4h9"/></g><rect x="966.7" y="96.6" width="27.3" height="568.5" fill="none" stroke="#222" stroke-width="1.2"/><g font-family="Liberation Sans" font-size="29.5" fill="#000"><text x="960" y="652.7" text-anchor="end">-80</text><text x="960" y="586.9" text-anchor="end">-60</text><text x="960" y="521" text-anchor="end">-40</text><text x="960" y="455.1" text-anchor="end">-20</text><text x="960" y="389.3" text-anchor="end">0</text><text x="960" y="323.5" text-anchor="end">20</text><text x="960" y="257.6" text-anchor="end">40</text><text x="960" y="191.8" text-anchor="end">60</text><text x="960" y="125.9" text-anchor="end">80</text></g></g><text x="512" y="731" text-anchor="middle" font-family="Liberation Serif" font-weight="bold" font-size="34" fill="#000">(a)</text><text x="512" y="1490" text-anchor="middle" font-family="Liberation Serif" font-weight="bold" font-size="34" fill="#000">(b)</text></svg></body></html>
